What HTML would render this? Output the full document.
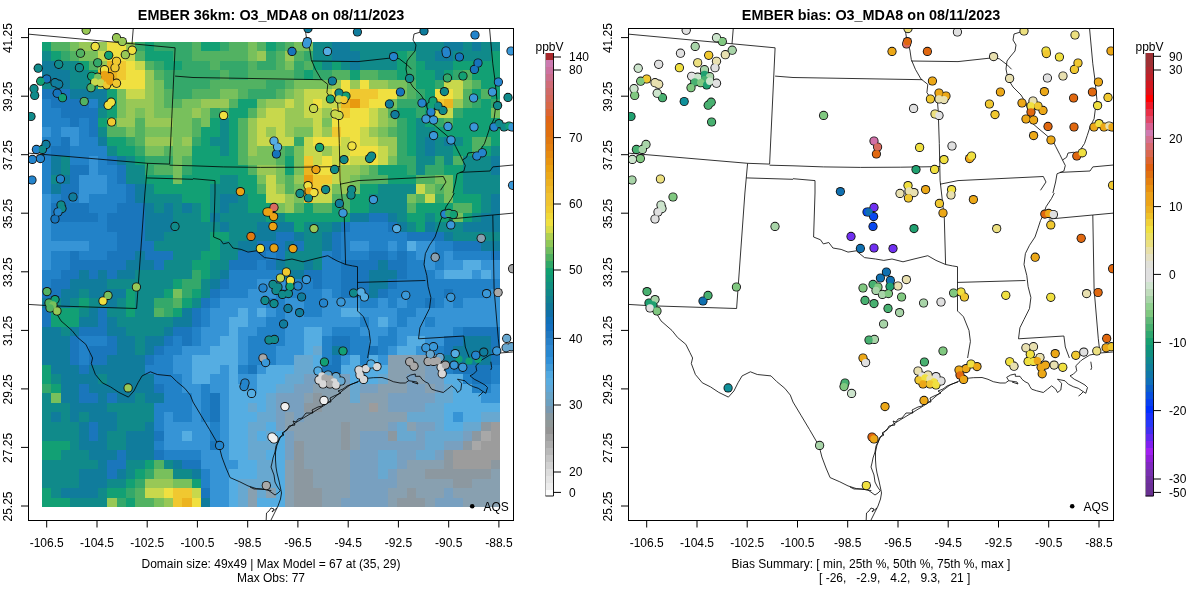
<!DOCTYPE html>
<html><head><meta charset="utf-8"><style>
html,body{margin:0;padding:0;background:#fff;width:1200px;height:600px;overflow:hidden}
svg{display:block;will-change:transform}
.t{font-family:"Liberation Sans",sans-serif;font-size:12px;fill:#000}
.title{font-family:"Liberation Sans",sans-serif;font-size:14.4px;font-weight:bold;fill:#000}
</style></head><body>
<svg width="1200" height="600" viewBox="0 0 1200 600">
<text x="271" y="20" text-anchor="middle" class="title">EMBER 36km: O3_MDA8 on 08/11/2023</text>
<text x="871" y="20" text-anchor="middle" class="title">EMBER bias: O3_MDA8 on 08/11/2023</text>
<g shape-rendering="crispEdges"><rect x="42.00" y="42.00" width="9.75" height="9.89" fill="#12a074"/><rect x="51.35" y="42.00" width="19.09" height="9.89" fill="#52b262"/><rect x="70.04" y="42.00" width="9.75" height="9.89" fill="#78c05c"/><rect x="79.39" y="42.00" width="28.44" height="9.89" fill="#98c856"/><rect x="107.43" y="42.00" width="19.09" height="9.89" fill="#f0e040"/><rect x="126.12" y="42.00" width="9.75" height="9.89" fill="#98c856"/><rect x="135.47" y="42.00" width="9.75" height="9.89" fill="#34a86a"/><rect x="144.82" y="42.00" width="9.75" height="9.89" fill="#12a074"/><rect x="154.16" y="42.00" width="37.79" height="9.89" fill="#34a86a"/><rect x="191.55" y="42.00" width="9.75" height="9.89" fill="#52b262"/><rect x="200.90" y="42.00" width="19.09" height="9.89" fill="#12a074"/><rect x="219.59" y="42.00" width="9.75" height="9.89" fill="#34a86a"/><rect x="228.94" y="42.00" width="19.09" height="9.89" fill="#52b262"/><rect x="247.63" y="42.00" width="9.75" height="9.89" fill="#78c05c"/><rect x="256.98" y="42.00" width="9.75" height="9.89" fill="#52b262"/><rect x="266.33" y="42.00" width="9.75" height="9.89" fill="#12a074"/><rect x="275.67" y="42.00" width="9.75" height="9.89" fill="#34a86a"/><rect x="285.02" y="42.00" width="9.75" height="9.89" fill="#52b262"/><rect x="294.37" y="42.00" width="19.09" height="9.89" fill="#78c05c"/><rect x="313.06" y="42.00" width="19.09" height="9.89" fill="#108a8a"/><rect x="331.76" y="42.00" width="19.09" height="9.89" fill="#107c9c"/><rect x="350.45" y="42.00" width="93.87" height="9.89" fill="#108a8a"/><rect x="443.92" y="42.00" width="19.09" height="9.89" fill="#107c9c"/><rect x="462.61" y="42.00" width="9.75" height="9.89" fill="#108a8a"/><rect x="471.96" y="42.00" width="9.75" height="9.89" fill="#107c9c"/><rect x="481.31" y="42.00" width="19.09" height="9.89" fill="#108a8a"/><rect x="42.00" y="51.49" width="9.75" height="9.89" fill="#108a8a"/><rect x="51.35" y="51.49" width="9.75" height="9.89" fill="#12a074"/><rect x="60.69" y="51.49" width="9.75" height="9.89" fill="#34a86a"/><rect x="70.04" y="51.49" width="9.75" height="9.89" fill="#52b262"/><rect x="79.39" y="51.49" width="19.09" height="9.89" fill="#78c05c"/><rect x="98.08" y="51.49" width="9.75" height="9.89" fill="#c8d84c"/><rect x="107.43" y="51.49" width="19.09" height="9.89" fill="#f0e040"/><rect x="126.12" y="51.49" width="9.75" height="9.89" fill="#c8d84c"/><rect x="135.47" y="51.49" width="9.75" height="9.89" fill="#52b262"/><rect x="144.82" y="51.49" width="28.44" height="9.89" fill="#12a074"/><rect x="172.86" y="51.49" width="19.09" height="9.89" fill="#34a86a"/><rect x="191.55" y="51.49" width="56.48" height="9.89" fill="#52b262"/><rect x="247.63" y="51.49" width="9.75" height="9.89" fill="#78c05c"/><rect x="256.98" y="51.49" width="9.75" height="9.89" fill="#98c856"/><rect x="266.33" y="51.49" width="9.75" height="9.89" fill="#34a86a"/><rect x="275.67" y="51.49" width="9.75" height="9.89" fill="#52b262"/><rect x="285.02" y="51.49" width="9.75" height="9.89" fill="#98c856"/><rect x="294.37" y="51.49" width="9.75" height="9.89" fill="#52b262"/><rect x="303.71" y="51.49" width="9.75" height="9.89" fill="#34a86a"/><rect x="313.06" y="51.49" width="19.09" height="9.89" fill="#108a8a"/><rect x="331.76" y="51.49" width="28.44" height="9.89" fill="#107c9c"/><rect x="359.80" y="51.49" width="37.79" height="9.89" fill="#108a8a"/><rect x="397.18" y="51.49" width="9.75" height="9.89" fill="#12a074"/><rect x="406.53" y="51.49" width="9.75" height="9.89" fill="#34a86a"/><rect x="415.88" y="51.49" width="19.09" height="9.89" fill="#108a8a"/><rect x="434.57" y="51.49" width="19.09" height="9.89" fill="#107c9c"/><rect x="453.27" y="51.49" width="37.79" height="9.89" fill="#108a8a"/><rect x="490.65" y="51.49" width="9.75" height="9.89" fill="#12a074"/><rect x="42.00" y="60.98" width="19.09" height="9.89" fill="#107c9c"/><rect x="60.69" y="60.98" width="19.09" height="9.89" fill="#108a8a"/><rect x="79.39" y="60.98" width="9.75" height="9.89" fill="#12a074"/><rect x="88.73" y="60.98" width="9.75" height="9.89" fill="#52b262"/><rect x="98.08" y="60.98" width="9.75" height="9.89" fill="#98c856"/><rect x="107.43" y="60.98" width="9.75" height="9.89" fill="#ecb420"/><rect x="116.78" y="60.98" width="9.75" height="9.89" fill="#f0c830"/><rect x="126.12" y="60.98" width="9.75" height="9.89" fill="#f0e040"/><rect x="135.47" y="60.98" width="9.75" height="9.89" fill="#c8d84c"/><rect x="144.82" y="60.98" width="9.75" height="9.89" fill="#52b262"/><rect x="154.16" y="60.98" width="9.75" height="9.89" fill="#34a86a"/><rect x="163.51" y="60.98" width="19.09" height="9.89" fill="#12a074"/><rect x="182.20" y="60.98" width="28.44" height="9.89" fill="#34a86a"/><rect x="210.24" y="60.98" width="9.75" height="9.89" fill="#52b262"/><rect x="219.59" y="60.98" width="28.44" height="9.89" fill="#34a86a"/><rect x="247.63" y="60.98" width="9.75" height="9.89" fill="#52b262"/><rect x="256.98" y="60.98" width="19.09" height="9.89" fill="#34a86a"/><rect x="275.67" y="60.98" width="9.75" height="9.89" fill="#52b262"/><rect x="285.02" y="60.98" width="9.75" height="9.89" fill="#78c05c"/><rect x="294.37" y="60.98" width="9.75" height="9.89" fill="#34a86a"/><rect x="303.71" y="60.98" width="9.75" height="9.89" fill="#52b262"/><rect x="313.06" y="60.98" width="9.75" height="9.89" fill="#12a074"/><rect x="322.41" y="60.98" width="9.75" height="9.89" fill="#108a8a"/><rect x="331.76" y="60.98" width="9.75" height="9.89" fill="#12a074"/><rect x="341.10" y="60.98" width="9.75" height="9.89" fill="#108a8a"/><rect x="350.45" y="60.98" width="9.75" height="9.89" fill="#107c9c"/><rect x="359.80" y="60.98" width="37.79" height="9.89" fill="#108a8a"/><rect x="397.18" y="60.98" width="9.75" height="9.89" fill="#12a074"/><rect x="406.53" y="60.98" width="9.75" height="9.89" fill="#34a86a"/><rect x="415.88" y="60.98" width="9.75" height="9.89" fill="#12a074"/><rect x="425.22" y="60.98" width="28.44" height="9.89" fill="#108a8a"/><rect x="453.27" y="60.98" width="47.13" height="9.89" fill="#12a074"/><rect x="42.00" y="70.47" width="28.44" height="9.89" fill="#107c9c"/><rect x="70.04" y="70.47" width="19.09" height="9.89" fill="#108a8a"/><rect x="88.73" y="70.47" width="9.75" height="9.89" fill="#12a074"/><rect x="98.08" y="70.47" width="19.09" height="9.89" fill="#ecb420"/><rect x="116.78" y="70.47" width="9.75" height="9.89" fill="#f0c830"/><rect x="126.12" y="70.47" width="19.09" height="9.89" fill="#f0e040"/><rect x="144.82" y="70.47" width="9.75" height="9.89" fill="#98c856"/><rect x="154.16" y="70.47" width="9.75" height="9.89" fill="#52b262"/><rect x="163.51" y="70.47" width="56.48" height="9.89" fill="#34a86a"/><rect x="219.59" y="70.47" width="9.75" height="9.89" fill="#52b262"/><rect x="228.94" y="70.47" width="19.09" height="9.89" fill="#34a86a"/><rect x="247.63" y="70.47" width="47.13" height="9.89" fill="#52b262"/><rect x="294.37" y="70.47" width="9.75" height="9.89" fill="#34a86a"/><rect x="303.71" y="70.47" width="9.75" height="9.89" fill="#12a074"/><rect x="313.06" y="70.47" width="19.09" height="9.89" fill="#34a86a"/><rect x="331.76" y="70.47" width="19.09" height="9.89" fill="#52b262"/><rect x="350.45" y="70.47" width="9.75" height="9.89" fill="#12a074"/><rect x="359.80" y="70.47" width="19.09" height="9.89" fill="#52b262"/><rect x="378.49" y="70.47" width="19.09" height="9.89" fill="#34a86a"/><rect x="397.18" y="70.47" width="9.75" height="9.89" fill="#12a074"/><rect x="406.53" y="70.47" width="9.75" height="9.89" fill="#34a86a"/><rect x="415.88" y="70.47" width="19.09" height="9.89" fill="#12a074"/><rect x="434.57" y="70.47" width="9.75" height="9.89" fill="#108a8a"/><rect x="443.92" y="70.47" width="9.75" height="9.89" fill="#12a074"/><rect x="453.27" y="70.47" width="9.75" height="9.89" fill="#34a86a"/><rect x="462.61" y="70.47" width="9.75" height="9.89" fill="#52b262"/><rect x="471.96" y="70.47" width="28.44" height="9.89" fill="#12a074"/><rect x="42.00" y="79.96" width="9.75" height="9.89" fill="#108a8a"/><rect x="51.35" y="79.96" width="19.09" height="9.89" fill="#107c9c"/><rect x="70.04" y="79.96" width="19.09" height="9.89" fill="#108a8a"/><rect x="88.73" y="79.96" width="9.75" height="9.89" fill="#12a074"/><rect x="98.08" y="79.96" width="9.75" height="9.89" fill="#c8d84c"/><rect x="107.43" y="79.96" width="37.79" height="9.89" fill="#f0e040"/><rect x="144.82" y="79.96" width="9.75" height="9.89" fill="#98c856"/><rect x="154.16" y="79.96" width="9.75" height="9.89" fill="#78c05c"/><rect x="163.51" y="79.96" width="47.13" height="9.89" fill="#34a86a"/><rect x="210.24" y="79.96" width="56.48" height="9.89" fill="#52b262"/><rect x="266.33" y="79.96" width="19.09" height="9.89" fill="#34a86a"/><rect x="285.02" y="79.96" width="9.75" height="9.89" fill="#52b262"/><rect x="294.37" y="79.96" width="37.79" height="9.89" fill="#78c05c"/><rect x="331.76" y="79.96" width="9.75" height="9.89" fill="#98c856"/><rect x="341.10" y="79.96" width="9.75" height="9.89" fill="#f0e040"/><rect x="350.45" y="79.96" width="9.75" height="9.89" fill="#98c856"/><rect x="359.80" y="79.96" width="9.75" height="9.89" fill="#f0e040"/><rect x="369.14" y="79.96" width="19.09" height="9.89" fill="#98c856"/><rect x="387.84" y="79.96" width="19.09" height="9.89" fill="#78c05c"/><rect x="406.53" y="79.96" width="9.75" height="9.89" fill="#52b262"/><rect x="415.88" y="79.96" width="19.09" height="9.89" fill="#12a074"/><rect x="434.57" y="79.96" width="9.75" height="9.89" fill="#34a86a"/><rect x="443.92" y="79.96" width="19.09" height="9.89" fill="#c8d84c"/><rect x="462.61" y="79.96" width="9.75" height="9.89" fill="#78c05c"/><rect x="471.96" y="79.96" width="9.75" height="9.89" fill="#52b262"/><rect x="481.31" y="79.96" width="19.09" height="9.89" fill="#12a074"/><rect x="42.00" y="89.45" width="28.44" height="9.89" fill="#1a76bc"/><rect x="70.04" y="89.45" width="37.79" height="9.89" fill="#107c9c"/><rect x="107.43" y="89.45" width="9.75" height="9.89" fill="#12a074"/><rect x="116.78" y="89.45" width="9.75" height="9.89" fill="#78c05c"/><rect x="126.12" y="89.45" width="19.09" height="9.89" fill="#c8d84c"/><rect x="144.82" y="89.45" width="9.75" height="9.89" fill="#98c856"/><rect x="154.16" y="89.45" width="9.75" height="9.89" fill="#78c05c"/><rect x="163.51" y="89.45" width="9.75" height="9.89" fill="#52b262"/><rect x="172.86" y="89.45" width="19.09" height="9.89" fill="#34a86a"/><rect x="191.55" y="89.45" width="28.44" height="9.89" fill="#52b262"/><rect x="219.59" y="89.45" width="19.09" height="9.89" fill="#78c05c"/><rect x="238.29" y="89.45" width="9.75" height="9.89" fill="#52b262"/><rect x="247.63" y="89.45" width="28.44" height="9.89" fill="#34a86a"/><rect x="275.67" y="89.45" width="9.75" height="9.89" fill="#52b262"/><rect x="285.02" y="89.45" width="9.75" height="9.89" fill="#78c05c"/><rect x="294.37" y="89.45" width="9.75" height="9.89" fill="#98c856"/><rect x="303.71" y="89.45" width="28.44" height="9.89" fill="#c8d84c"/><rect x="331.76" y="89.45" width="19.09" height="9.89" fill="#f0e040"/><rect x="350.45" y="89.45" width="28.44" height="9.89" fill="#f0c830"/><rect x="378.49" y="89.45" width="19.09" height="9.89" fill="#f0e040"/><rect x="397.18" y="89.45" width="9.75" height="9.89" fill="#78c05c"/><rect x="406.53" y="89.45" width="9.75" height="9.89" fill="#52b262"/><rect x="415.88" y="89.45" width="9.75" height="9.89" fill="#34a86a"/><rect x="425.22" y="89.45" width="9.75" height="9.89" fill="#12a074"/><rect x="434.57" y="89.45" width="19.09" height="9.89" fill="#f0e040"/><rect x="453.27" y="89.45" width="9.75" height="9.89" fill="#c8d84c"/><rect x="462.61" y="89.45" width="9.75" height="9.89" fill="#52b262"/><rect x="471.96" y="89.45" width="9.75" height="9.89" fill="#12a074"/><rect x="481.31" y="89.45" width="9.75" height="9.89" fill="#52b262"/><rect x="490.65" y="89.45" width="9.75" height="9.89" fill="#12a074"/><rect x="42.00" y="98.94" width="9.75" height="9.89" fill="#2282c8"/><rect x="51.35" y="98.94" width="37.79" height="9.89" fill="#1a76bc"/><rect x="88.73" y="98.94" width="9.75" height="9.89" fill="#2282c8"/><rect x="98.08" y="98.94" width="9.75" height="9.89" fill="#107c9c"/><rect x="107.43" y="98.94" width="9.75" height="9.89" fill="#12a074"/><rect x="116.78" y="98.94" width="9.75" height="9.89" fill="#78c05c"/><rect x="126.12" y="98.94" width="28.44" height="9.89" fill="#98c856"/><rect x="154.16" y="98.94" width="9.75" height="9.89" fill="#78c05c"/><rect x="163.51" y="98.94" width="19.09" height="9.89" fill="#52b262"/><rect x="182.20" y="98.94" width="19.09" height="9.89" fill="#78c05c"/><rect x="200.90" y="98.94" width="28.44" height="9.89" fill="#98c856"/><rect x="228.94" y="98.94" width="9.75" height="9.89" fill="#52b262"/><rect x="238.29" y="98.94" width="19.09" height="9.89" fill="#12a074"/><rect x="256.98" y="98.94" width="9.75" height="9.89" fill="#78c05c"/><rect x="266.33" y="98.94" width="19.09" height="9.89" fill="#98c856"/><rect x="285.02" y="98.94" width="9.75" height="9.89" fill="#c8d84c"/><rect x="294.37" y="98.94" width="9.75" height="9.89" fill="#98c856"/><rect x="303.71" y="98.94" width="9.75" height="9.89" fill="#c8d84c"/><rect x="313.06" y="98.94" width="9.75" height="9.89" fill="#f0e040"/><rect x="322.41" y="98.94" width="19.09" height="9.89" fill="#c8d84c"/><rect x="341.10" y="98.94" width="9.75" height="9.89" fill="#ecb420"/><rect x="350.45" y="98.94" width="9.75" height="9.89" fill="#e89a10"/><rect x="359.80" y="98.94" width="9.75" height="9.89" fill="#f0c830"/><rect x="369.14" y="98.94" width="19.09" height="9.89" fill="#f0e040"/><rect x="387.84" y="98.94" width="9.75" height="9.89" fill="#78c05c"/><rect x="397.18" y="98.94" width="28.44" height="9.89" fill="#34a86a"/><rect x="425.22" y="98.94" width="9.75" height="9.89" fill="#12a074"/><rect x="434.57" y="98.94" width="9.75" height="9.89" fill="#f0c830"/><rect x="443.92" y="98.94" width="9.75" height="9.89" fill="#ecb420"/><rect x="453.27" y="98.94" width="9.75" height="9.89" fill="#98c856"/><rect x="462.61" y="98.94" width="9.75" height="9.89" fill="#52b262"/><rect x="471.96" y="98.94" width="9.75" height="9.89" fill="#34a86a"/><rect x="481.31" y="98.94" width="9.75" height="9.89" fill="#12a074"/><rect x="490.65" y="98.94" width="9.75" height="9.89" fill="#34a86a"/><rect x="42.00" y="108.43" width="19.09" height="9.89" fill="#2282c8"/><rect x="60.69" y="108.43" width="37.79" height="9.89" fill="#1a76bc"/><rect x="98.08" y="108.43" width="9.75" height="9.89" fill="#108a8a"/><rect x="107.43" y="108.43" width="9.75" height="9.89" fill="#12a074"/><rect x="116.78" y="108.43" width="9.75" height="9.89" fill="#78c05c"/><rect x="126.12" y="108.43" width="9.75" height="9.89" fill="#98c856"/><rect x="135.47" y="108.43" width="9.75" height="9.89" fill="#78c05c"/><rect x="144.82" y="108.43" width="9.75" height="9.89" fill="#98c856"/><rect x="154.16" y="108.43" width="37.79" height="9.89" fill="#78c05c"/><rect x="191.55" y="108.43" width="9.75" height="9.89" fill="#98c856"/><rect x="200.90" y="108.43" width="9.75" height="9.89" fill="#78c05c"/><rect x="210.24" y="108.43" width="9.75" height="9.89" fill="#34a86a"/><rect x="219.59" y="108.43" width="9.75" height="9.89" fill="#52b262"/><rect x="228.94" y="108.43" width="19.09" height="9.89" fill="#12a074"/><rect x="247.63" y="108.43" width="9.75" height="9.89" fill="#52b262"/><rect x="256.98" y="108.43" width="9.75" height="9.89" fill="#98c856"/><rect x="266.33" y="108.43" width="19.09" height="9.89" fill="#c8d84c"/><rect x="285.02" y="108.43" width="19.09" height="9.89" fill="#98c856"/><rect x="303.71" y="108.43" width="19.09" height="9.89" fill="#c8d84c"/><rect x="322.41" y="108.43" width="9.75" height="9.89" fill="#98c856"/><rect x="331.76" y="108.43" width="9.75" height="9.89" fill="#f0e040"/><rect x="341.10" y="108.43" width="9.75" height="9.89" fill="#f0c830"/><rect x="350.45" y="108.43" width="19.09" height="9.89" fill="#f0e040"/><rect x="369.14" y="108.43" width="9.75" height="9.89" fill="#c8d84c"/><rect x="378.49" y="108.43" width="9.75" height="9.89" fill="#98c856"/><rect x="387.84" y="108.43" width="9.75" height="9.89" fill="#52b262"/><rect x="397.18" y="108.43" width="19.09" height="9.89" fill="#12a074"/><rect x="415.88" y="108.43" width="9.75" height="9.89" fill="#34a86a"/><rect x="425.22" y="108.43" width="9.75" height="9.89" fill="#12a074"/><rect x="434.57" y="108.43" width="19.09" height="9.89" fill="#c8d84c"/><rect x="453.27" y="108.43" width="9.75" height="9.89" fill="#34a86a"/><rect x="462.61" y="108.43" width="28.44" height="9.89" fill="#12a074"/><rect x="490.65" y="108.43" width="9.75" height="9.89" fill="#78c05c"/><rect x="42.00" y="117.92" width="28.44" height="9.89" fill="#2282c8"/><rect x="70.04" y="117.92" width="9.75" height="9.89" fill="#1a76bc"/><rect x="79.39" y="117.92" width="9.75" height="9.89" fill="#2282c8"/><rect x="88.73" y="117.92" width="9.75" height="9.89" fill="#1a76bc"/><rect x="98.08" y="117.92" width="9.75" height="9.89" fill="#12a074"/><rect x="107.43" y="117.92" width="9.75" height="9.89" fill="#52b262"/><rect x="116.78" y="117.92" width="19.09" height="9.89" fill="#98c856"/><rect x="135.47" y="117.92" width="9.75" height="9.89" fill="#52b262"/><rect x="144.82" y="117.92" width="28.44" height="9.89" fill="#98c856"/><rect x="172.86" y="117.92" width="19.09" height="9.89" fill="#78c05c"/><rect x="191.55" y="117.92" width="9.75" height="9.89" fill="#52b262"/><rect x="200.90" y="117.92" width="9.75" height="9.89" fill="#78c05c"/><rect x="210.24" y="117.92" width="9.75" height="9.89" fill="#12a074"/><rect x="219.59" y="117.92" width="9.75" height="9.89" fill="#108a8a"/><rect x="228.94" y="117.92" width="9.75" height="9.89" fill="#12a074"/><rect x="238.29" y="117.92" width="9.75" height="9.89" fill="#52b262"/><rect x="247.63" y="117.92" width="9.75" height="9.89" fill="#98c856"/><rect x="256.98" y="117.92" width="28.44" height="9.89" fill="#c8d84c"/><rect x="285.02" y="117.92" width="28.44" height="9.89" fill="#98c856"/><rect x="313.06" y="117.92" width="9.75" height="9.89" fill="#c8d84c"/><rect x="322.41" y="117.92" width="9.75" height="9.89" fill="#78c05c"/><rect x="331.76" y="117.92" width="37.79" height="9.89" fill="#f0e040"/><rect x="369.14" y="117.92" width="9.75" height="9.89" fill="#c8d84c"/><rect x="378.49" y="117.92" width="9.75" height="9.89" fill="#98c856"/><rect x="387.84" y="117.92" width="9.75" height="9.89" fill="#78c05c"/><rect x="397.18" y="117.92" width="9.75" height="9.89" fill="#34a86a"/><rect x="406.53" y="117.92" width="9.75" height="9.89" fill="#12a074"/><rect x="415.88" y="117.92" width="9.75" height="9.89" fill="#108a8a"/><rect x="425.22" y="117.92" width="9.75" height="9.89" fill="#12a074"/><rect x="434.57" y="117.92" width="9.75" height="9.89" fill="#34a86a"/><rect x="443.92" y="117.92" width="9.75" height="9.89" fill="#52b262"/><rect x="453.27" y="117.92" width="47.13" height="9.89" fill="#12a074"/><rect x="42.00" y="127.41" width="9.75" height="9.89" fill="#3694d6"/><rect x="51.35" y="127.41" width="9.75" height="9.89" fill="#2282c8"/><rect x="60.69" y="127.41" width="19.09" height="9.89" fill="#3694d6"/><rect x="79.39" y="127.41" width="9.75" height="9.89" fill="#2282c8"/><rect x="88.73" y="127.41" width="9.75" height="9.89" fill="#1a76bc"/><rect x="98.08" y="127.41" width="9.75" height="9.89" fill="#108a8a"/><rect x="107.43" y="127.41" width="19.09" height="9.89" fill="#52b262"/><rect x="126.12" y="127.41" width="9.75" height="9.89" fill="#78c05c"/><rect x="135.47" y="127.41" width="9.75" height="9.89" fill="#52b262"/><rect x="144.82" y="127.41" width="47.13" height="9.89" fill="#78c05c"/><rect x="191.55" y="127.41" width="9.75" height="9.89" fill="#52b262"/><rect x="200.90" y="127.41" width="19.09" height="9.89" fill="#12a074"/><rect x="219.59" y="127.41" width="9.75" height="9.89" fill="#108a8a"/><rect x="228.94" y="127.41" width="9.75" height="9.89" fill="#12a074"/><rect x="238.29" y="127.41" width="9.75" height="9.89" fill="#52b262"/><rect x="247.63" y="127.41" width="9.75" height="9.89" fill="#98c856"/><rect x="256.98" y="127.41" width="9.75" height="9.89" fill="#c8d84c"/><rect x="266.33" y="127.41" width="9.75" height="9.89" fill="#98c856"/><rect x="275.67" y="127.41" width="9.75" height="9.89" fill="#c8d84c"/><rect x="285.02" y="127.41" width="9.75" height="9.89" fill="#98c856"/><rect x="294.37" y="127.41" width="19.09" height="9.89" fill="#78c05c"/><rect x="313.06" y="127.41" width="9.75" height="9.89" fill="#c8d84c"/><rect x="322.41" y="127.41" width="9.75" height="9.89" fill="#98c856"/><rect x="331.76" y="127.41" width="9.75" height="9.89" fill="#f0c830"/><rect x="341.10" y="127.41" width="19.09" height="9.89" fill="#f0e040"/><rect x="359.80" y="127.41" width="9.75" height="9.89" fill="#c8d84c"/><rect x="369.14" y="127.41" width="9.75" height="9.89" fill="#98c856"/><rect x="378.49" y="127.41" width="9.75" height="9.89" fill="#78c05c"/><rect x="387.84" y="127.41" width="9.75" height="9.89" fill="#52b262"/><rect x="397.18" y="127.41" width="9.75" height="9.89" fill="#34a86a"/><rect x="406.53" y="127.41" width="9.75" height="9.89" fill="#12a074"/><rect x="415.88" y="127.41" width="19.09" height="9.89" fill="#108a8a"/><rect x="434.57" y="127.41" width="65.83" height="9.89" fill="#12a074"/><rect x="42.00" y="136.90" width="19.09" height="9.89" fill="#2282c8"/><rect x="60.69" y="136.90" width="9.75" height="9.89" fill="#1a76bc"/><rect x="70.04" y="136.90" width="9.75" height="9.89" fill="#3694d6"/><rect x="79.39" y="136.90" width="19.09" height="9.89" fill="#2282c8"/><rect x="98.08" y="136.90" width="9.75" height="9.89" fill="#107c9c"/><rect x="107.43" y="136.90" width="19.09" height="9.89" fill="#12a074"/><rect x="126.12" y="136.90" width="9.75" height="9.89" fill="#34a86a"/><rect x="135.47" y="136.90" width="9.75" height="9.89" fill="#52b262"/><rect x="144.82" y="136.90" width="28.44" height="9.89" fill="#98c856"/><rect x="172.86" y="136.90" width="9.75" height="9.89" fill="#78c05c"/><rect x="182.20" y="136.90" width="9.75" height="9.89" fill="#98c856"/><rect x="191.55" y="136.90" width="9.75" height="9.89" fill="#34a86a"/><rect x="200.90" y="136.90" width="9.75" height="9.89" fill="#12a074"/><rect x="210.24" y="136.90" width="19.09" height="9.89" fill="#108a8a"/><rect x="228.94" y="136.90" width="9.75" height="9.89" fill="#12a074"/><rect x="238.29" y="136.90" width="9.75" height="9.89" fill="#52b262"/><rect x="247.63" y="136.90" width="9.75" height="9.89" fill="#98c856"/><rect x="256.98" y="136.90" width="37.79" height="9.89" fill="#c8d84c"/><rect x="294.37" y="136.90" width="9.75" height="9.89" fill="#34a86a"/><rect x="303.71" y="136.90" width="9.75" height="9.89" fill="#c8d84c"/><rect x="313.06" y="136.90" width="28.44" height="9.89" fill="#f0e040"/><rect x="341.10" y="136.90" width="9.75" height="9.89" fill="#c8d84c"/><rect x="350.45" y="136.90" width="9.75" height="9.89" fill="#f0e040"/><rect x="359.80" y="136.90" width="19.09" height="9.89" fill="#c8d84c"/><rect x="378.49" y="136.90" width="19.09" height="9.89" fill="#98c856"/><rect x="397.18" y="136.90" width="9.75" height="9.89" fill="#34a86a"/><rect x="406.53" y="136.90" width="9.75" height="9.89" fill="#12a074"/><rect x="415.88" y="136.90" width="9.75" height="9.89" fill="#108a8a"/><rect x="425.22" y="136.90" width="9.75" height="9.89" fill="#107c9c"/><rect x="434.57" y="136.90" width="9.75" height="9.89" fill="#108a8a"/><rect x="443.92" y="136.90" width="9.75" height="9.89" fill="#107c9c"/><rect x="453.27" y="136.90" width="9.75" height="9.89" fill="#108a8a"/><rect x="462.61" y="136.90" width="9.75" height="9.89" fill="#12a074"/><rect x="471.96" y="136.90" width="19.09" height="9.89" fill="#52b262"/><rect x="490.65" y="136.90" width="9.75" height="9.89" fill="#12a074"/><rect x="42.00" y="146.39" width="9.75" height="9.89" fill="#2282c8"/><rect x="51.35" y="146.39" width="19.09" height="9.89" fill="#1a76bc"/><rect x="70.04" y="146.39" width="37.79" height="9.89" fill="#2282c8"/><rect x="107.43" y="146.39" width="9.75" height="9.89" fill="#108a8a"/><rect x="116.78" y="146.39" width="19.09" height="9.89" fill="#12a074"/><rect x="135.47" y="146.39" width="9.75" height="9.89" fill="#34a86a"/><rect x="144.82" y="146.39" width="19.09" height="9.89" fill="#78c05c"/><rect x="163.51" y="146.39" width="9.75" height="9.89" fill="#52b262"/><rect x="172.86" y="146.39" width="19.09" height="9.89" fill="#78c05c"/><rect x="191.55" y="146.39" width="28.44" height="9.89" fill="#12a074"/><rect x="219.59" y="146.39" width="9.75" height="9.89" fill="#108a8a"/><rect x="228.94" y="146.39" width="9.75" height="9.89" fill="#12a074"/><rect x="238.29" y="146.39" width="9.75" height="9.89" fill="#52b262"/><rect x="247.63" y="146.39" width="9.75" height="9.89" fill="#98c856"/><rect x="256.98" y="146.39" width="19.09" height="9.89" fill="#78c05c"/><rect x="275.67" y="146.39" width="9.75" height="9.89" fill="#52b262"/><rect x="285.02" y="146.39" width="9.75" height="9.89" fill="#34a86a"/><rect x="294.37" y="146.39" width="9.75" height="9.89" fill="#78c05c"/><rect x="303.71" y="146.39" width="19.09" height="9.89" fill="#c8d84c"/><rect x="322.41" y="146.39" width="9.75" height="9.89" fill="#98c856"/><rect x="331.76" y="146.39" width="19.09" height="9.89" fill="#c8d84c"/><rect x="350.45" y="146.39" width="28.44" height="9.89" fill="#f0e040"/><rect x="378.49" y="146.39" width="9.75" height="9.89" fill="#c8d84c"/><rect x="387.84" y="146.39" width="9.75" height="9.89" fill="#98c856"/><rect x="397.18" y="146.39" width="9.75" height="9.89" fill="#34a86a"/><rect x="406.53" y="146.39" width="9.75" height="9.89" fill="#12a074"/><rect x="415.88" y="146.39" width="9.75" height="9.89" fill="#108a8a"/><rect x="425.22" y="146.39" width="9.75" height="9.89" fill="#107c9c"/><rect x="434.57" y="146.39" width="19.09" height="9.89" fill="#108a8a"/><rect x="453.27" y="146.39" width="19.09" height="9.89" fill="#12a074"/><rect x="471.96" y="146.39" width="9.75" height="9.89" fill="#52b262"/><rect x="481.31" y="146.39" width="9.75" height="9.89" fill="#12a074"/><rect x="490.65" y="146.39" width="9.75" height="9.89" fill="#108a8a"/><rect x="42.00" y="155.88" width="9.75" height="9.89" fill="#2282c8"/><rect x="51.35" y="155.88" width="9.75" height="9.89" fill="#107c9c"/><rect x="60.69" y="155.88" width="9.75" height="9.89" fill="#108a8a"/><rect x="70.04" y="155.88" width="19.09" height="9.89" fill="#2282c8"/><rect x="88.73" y="155.88" width="9.75" height="9.89" fill="#3694d6"/><rect x="98.08" y="155.88" width="9.75" height="9.89" fill="#2282c8"/><rect x="107.43" y="155.88" width="9.75" height="9.89" fill="#1a76bc"/><rect x="116.78" y="155.88" width="9.75" height="9.89" fill="#107c9c"/><rect x="126.12" y="155.88" width="9.75" height="9.89" fill="#108a8a"/><rect x="135.47" y="155.88" width="9.75" height="9.89" fill="#12a074"/><rect x="144.82" y="155.88" width="28.44" height="9.89" fill="#34a86a"/><rect x="172.86" y="155.88" width="9.75" height="9.89" fill="#78c05c"/><rect x="182.20" y="155.88" width="9.75" height="9.89" fill="#52b262"/><rect x="191.55" y="155.88" width="47.13" height="9.89" fill="#12a074"/><rect x="238.29" y="155.88" width="9.75" height="9.89" fill="#52b262"/><rect x="247.63" y="155.88" width="28.44" height="9.89" fill="#78c05c"/><rect x="275.67" y="155.88" width="9.75" height="9.89" fill="#52b262"/><rect x="285.02" y="155.88" width="9.75" height="9.89" fill="#12a074"/><rect x="294.37" y="155.88" width="9.75" height="9.89" fill="#78c05c"/><rect x="303.71" y="155.88" width="9.75" height="9.89" fill="#f0c830"/><rect x="313.06" y="155.88" width="9.75" height="9.89" fill="#c8d84c"/><rect x="322.41" y="155.88" width="9.75" height="9.89" fill="#f0e040"/><rect x="331.76" y="155.88" width="9.75" height="9.89" fill="#c8d84c"/><rect x="341.10" y="155.88" width="9.75" height="9.89" fill="#f0e040"/><rect x="350.45" y="155.88" width="19.09" height="9.89" fill="#c8d84c"/><rect x="369.14" y="155.88" width="9.75" height="9.89" fill="#f0e040"/><rect x="378.49" y="155.88" width="9.75" height="9.89" fill="#c8d84c"/><rect x="387.84" y="155.88" width="9.75" height="9.89" fill="#78c05c"/><rect x="397.18" y="155.88" width="19.09" height="9.89" fill="#34a86a"/><rect x="415.88" y="155.88" width="19.09" height="9.89" fill="#108a8a"/><rect x="434.57" y="155.88" width="9.75" height="9.89" fill="#34a86a"/><rect x="443.92" y="155.88" width="9.75" height="9.89" fill="#108a8a"/><rect x="453.27" y="155.88" width="9.75" height="9.89" fill="#52b262"/><rect x="462.61" y="155.88" width="28.44" height="9.89" fill="#108a8a"/><rect x="490.65" y="155.88" width="9.75" height="9.89" fill="#107c9c"/><rect x="42.00" y="165.37" width="9.75" height="9.89" fill="#2282c8"/><rect x="51.35" y="165.37" width="9.75" height="9.89" fill="#107c9c"/><rect x="60.69" y="165.37" width="9.75" height="9.89" fill="#108a8a"/><rect x="70.04" y="165.37" width="19.09" height="9.89" fill="#1a76bc"/><rect x="88.73" y="165.37" width="9.75" height="9.89" fill="#3694d6"/><rect x="98.08" y="165.37" width="19.09" height="9.89" fill="#2282c8"/><rect x="116.78" y="165.37" width="9.75" height="9.89" fill="#1a76bc"/><rect x="126.12" y="165.37" width="19.09" height="9.89" fill="#108a8a"/><rect x="144.82" y="165.37" width="9.75" height="9.89" fill="#34a86a"/><rect x="154.16" y="165.37" width="19.09" height="9.89" fill="#52b262"/><rect x="172.86" y="165.37" width="9.75" height="9.89" fill="#78c05c"/><rect x="182.20" y="165.37" width="9.75" height="9.89" fill="#34a86a"/><rect x="191.55" y="165.37" width="56.48" height="9.89" fill="#12a074"/><rect x="247.63" y="165.37" width="9.75" height="9.89" fill="#52b262"/><rect x="256.98" y="165.37" width="19.09" height="9.89" fill="#98c856"/><rect x="275.67" y="165.37" width="9.75" height="9.89" fill="#78c05c"/><rect x="285.02" y="165.37" width="9.75" height="9.89" fill="#12a074"/><rect x="294.37" y="165.37" width="9.75" height="9.89" fill="#78c05c"/><rect x="303.71" y="165.37" width="9.75" height="9.89" fill="#ecb420"/><rect x="313.06" y="165.37" width="19.09" height="9.89" fill="#f0e040"/><rect x="331.76" y="165.37" width="9.75" height="9.89" fill="#c8d84c"/><rect x="341.10" y="165.37" width="19.09" height="9.89" fill="#98c856"/><rect x="359.80" y="165.37" width="9.75" height="9.89" fill="#78c05c"/><rect x="369.14" y="165.37" width="9.75" height="9.89" fill="#52b262"/><rect x="378.49" y="165.37" width="28.44" height="9.89" fill="#12a074"/><rect x="406.53" y="165.37" width="9.75" height="9.89" fill="#34a86a"/><rect x="415.88" y="165.37" width="9.75" height="9.89" fill="#108a8a"/><rect x="425.22" y="165.37" width="19.09" height="9.89" fill="#34a86a"/><rect x="443.92" y="165.37" width="19.09" height="9.89" fill="#12a074"/><rect x="462.61" y="165.37" width="28.44" height="9.89" fill="#108a8a"/><rect x="490.65" y="165.37" width="9.75" height="9.89" fill="#107c9c"/><rect x="42.00" y="174.86" width="9.75" height="9.89" fill="#2282c8"/><rect x="51.35" y="174.86" width="9.75" height="9.89" fill="#108a8a"/><rect x="60.69" y="174.86" width="9.75" height="9.89" fill="#107c9c"/><rect x="70.04" y="174.86" width="9.75" height="9.89" fill="#1a76bc"/><rect x="79.39" y="174.86" width="28.44" height="9.89" fill="#3694d6"/><rect x="107.43" y="174.86" width="9.75" height="9.89" fill="#2282c8"/><rect x="116.78" y="174.86" width="9.75" height="9.89" fill="#1a76bc"/><rect x="126.12" y="174.86" width="19.09" height="9.89" fill="#108a8a"/><rect x="144.82" y="174.86" width="28.44" height="9.89" fill="#12a074"/><rect x="172.86" y="174.86" width="9.75" height="9.89" fill="#78c05c"/><rect x="182.20" y="174.86" width="37.79" height="9.89" fill="#12a074"/><rect x="219.59" y="174.86" width="19.09" height="9.89" fill="#108a8a"/><rect x="238.29" y="174.86" width="19.09" height="9.89" fill="#12a074"/><rect x="256.98" y="174.86" width="9.75" height="9.89" fill="#78c05c"/><rect x="266.33" y="174.86" width="9.75" height="9.89" fill="#c8d84c"/><rect x="275.67" y="174.86" width="9.75" height="9.89" fill="#78c05c"/><rect x="285.02" y="174.86" width="9.75" height="9.89" fill="#52b262"/><rect x="294.37" y="174.86" width="9.75" height="9.89" fill="#98c856"/><rect x="303.71" y="174.86" width="9.75" height="9.89" fill="#e89a10"/><rect x="313.06" y="174.86" width="19.09" height="9.89" fill="#f0c830"/><rect x="331.76" y="174.86" width="9.75" height="9.89" fill="#c8d84c"/><rect x="341.10" y="174.86" width="9.75" height="9.89" fill="#98c856"/><rect x="350.45" y="174.86" width="9.75" height="9.89" fill="#78c05c"/><rect x="359.80" y="174.86" width="28.44" height="9.89" fill="#52b262"/><rect x="387.84" y="174.86" width="28.44" height="9.89" fill="#12a074"/><rect x="415.88" y="174.86" width="19.09" height="9.89" fill="#52b262"/><rect x="434.57" y="174.86" width="19.09" height="9.89" fill="#78c05c"/><rect x="453.27" y="174.86" width="9.75" height="9.89" fill="#12a074"/><rect x="462.61" y="174.86" width="37.79" height="9.89" fill="#108a8a"/><rect x="42.00" y="184.35" width="9.75" height="9.89" fill="#2282c8"/><rect x="51.35" y="184.35" width="9.75" height="9.89" fill="#107c9c"/><rect x="60.69" y="184.35" width="19.09" height="9.89" fill="#1a76bc"/><rect x="79.39" y="184.35" width="28.44" height="9.89" fill="#3694d6"/><rect x="107.43" y="184.35" width="19.09" height="9.89" fill="#2282c8"/><rect x="126.12" y="184.35" width="9.75" height="9.89" fill="#1a76bc"/><rect x="135.47" y="184.35" width="9.75" height="9.89" fill="#107c9c"/><rect x="144.82" y="184.35" width="9.75" height="9.89" fill="#108a8a"/><rect x="154.16" y="184.35" width="56.48" height="9.89" fill="#12a074"/><rect x="210.24" y="184.35" width="28.44" height="9.89" fill="#108a8a"/><rect x="238.29" y="184.35" width="19.09" height="9.89" fill="#12a074"/><rect x="256.98" y="184.35" width="9.75" height="9.89" fill="#52b262"/><rect x="266.33" y="184.35" width="9.75" height="9.89" fill="#c8d84c"/><rect x="275.67" y="184.35" width="9.75" height="9.89" fill="#98c856"/><rect x="285.02" y="184.35" width="9.75" height="9.89" fill="#52b262"/><rect x="294.37" y="184.35" width="9.75" height="9.89" fill="#78c05c"/><rect x="303.71" y="184.35" width="9.75" height="9.89" fill="#ecb420"/><rect x="313.06" y="184.35" width="9.75" height="9.89" fill="#f0c830"/><rect x="322.41" y="184.35" width="9.75" height="9.89" fill="#c8d84c"/><rect x="331.76" y="184.35" width="9.75" height="9.89" fill="#78c05c"/><rect x="341.10" y="184.35" width="9.75" height="9.89" fill="#98c856"/><rect x="350.45" y="184.35" width="9.75" height="9.89" fill="#78c05c"/><rect x="359.80" y="184.35" width="19.09" height="9.89" fill="#12a074"/><rect x="378.49" y="184.35" width="37.79" height="9.89" fill="#108a8a"/><rect x="415.88" y="184.35" width="9.75" height="9.89" fill="#c8d84c"/><rect x="425.22" y="184.35" width="9.75" height="9.89" fill="#78c05c"/><rect x="434.57" y="184.35" width="9.75" height="9.89" fill="#52b262"/><rect x="443.92" y="184.35" width="9.75" height="9.89" fill="#78c05c"/><rect x="453.27" y="184.35" width="9.75" height="9.89" fill="#12a074"/><rect x="462.61" y="184.35" width="37.79" height="9.89" fill="#108a8a"/><rect x="42.00" y="193.84" width="9.75" height="9.89" fill="#3694d6"/><rect x="51.35" y="193.84" width="9.75" height="9.89" fill="#2282c8"/><rect x="60.69" y="193.84" width="9.75" height="9.89" fill="#1a76bc"/><rect x="70.04" y="193.84" width="9.75" height="9.89" fill="#2282c8"/><rect x="79.39" y="193.84" width="9.75" height="9.89" fill="#3694d6"/><rect x="88.73" y="193.84" width="37.79" height="9.89" fill="#2282c8"/><rect x="126.12" y="193.84" width="9.75" height="9.89" fill="#1a76bc"/><rect x="135.47" y="193.84" width="9.75" height="9.89" fill="#107c9c"/><rect x="144.82" y="193.84" width="37.79" height="9.89" fill="#108a8a"/><rect x="182.20" y="193.84" width="28.44" height="9.89" fill="#12a074"/><rect x="210.24" y="193.84" width="9.75" height="9.89" fill="#108a8a"/><rect x="219.59" y="193.84" width="19.09" height="9.89" fill="#107c9c"/><rect x="238.29" y="193.84" width="9.75" height="9.89" fill="#108a8a"/><rect x="247.63" y="193.84" width="19.09" height="9.89" fill="#12a074"/><rect x="266.33" y="193.84" width="19.09" height="9.89" fill="#c8d84c"/><rect x="285.02" y="193.84" width="9.75" height="9.89" fill="#98c856"/><rect x="294.37" y="193.84" width="9.75" height="9.89" fill="#78c05c"/><rect x="303.71" y="193.84" width="9.75" height="9.89" fill="#f0c830"/><rect x="313.06" y="193.84" width="19.09" height="9.89" fill="#c8d84c"/><rect x="331.76" y="193.84" width="19.09" height="9.89" fill="#52b262"/><rect x="350.45" y="193.84" width="19.09" height="9.89" fill="#12a074"/><rect x="369.14" y="193.84" width="37.79" height="9.89" fill="#108a8a"/><rect x="406.53" y="193.84" width="9.75" height="9.89" fill="#78c05c"/><rect x="415.88" y="193.84" width="9.75" height="9.89" fill="#52b262"/><rect x="425.22" y="193.84" width="9.75" height="9.89" fill="#c8d84c"/><rect x="434.57" y="193.84" width="9.75" height="9.89" fill="#34a86a"/><rect x="443.92" y="193.84" width="9.75" height="9.89" fill="#78c05c"/><rect x="453.27" y="193.84" width="28.44" height="9.89" fill="#12a074"/><rect x="481.31" y="193.84" width="9.75" height="9.89" fill="#108a8a"/><rect x="490.65" y="193.84" width="9.75" height="9.89" fill="#107c9c"/><rect x="42.00" y="203.33" width="9.75" height="9.89" fill="#3694d6"/><rect x="51.35" y="203.33" width="37.79" height="9.89" fill="#1a76bc"/><rect x="88.73" y="203.33" width="28.44" height="9.89" fill="#2282c8"/><rect x="116.78" y="203.33" width="28.44" height="9.89" fill="#1a76bc"/><rect x="144.82" y="203.33" width="9.75" height="9.89" fill="#107c9c"/><rect x="154.16" y="203.33" width="9.75" height="9.89" fill="#108a8a"/><rect x="163.51" y="203.33" width="9.75" height="9.89" fill="#107c9c"/><rect x="172.86" y="203.33" width="9.75" height="9.89" fill="#108a8a"/><rect x="182.20" y="203.33" width="9.75" height="9.89" fill="#107c9c"/><rect x="191.55" y="203.33" width="9.75" height="9.89" fill="#108a8a"/><rect x="200.90" y="203.33" width="9.75" height="9.89" fill="#12a074"/><rect x="210.24" y="203.33" width="9.75" height="9.89" fill="#108a8a"/><rect x="219.59" y="203.33" width="9.75" height="9.89" fill="#107c9c"/><rect x="228.94" y="203.33" width="19.09" height="9.89" fill="#108a8a"/><rect x="247.63" y="203.33" width="28.44" height="9.89" fill="#12a074"/><rect x="275.67" y="203.33" width="9.75" height="9.89" fill="#78c05c"/><rect x="285.02" y="203.33" width="9.75" height="9.89" fill="#98c856"/><rect x="294.37" y="203.33" width="9.75" height="9.89" fill="#52b262"/><rect x="303.71" y="203.33" width="9.75" height="9.89" fill="#12a074"/><rect x="313.06" y="203.33" width="19.09" height="9.89" fill="#52b262"/><rect x="331.76" y="203.33" width="9.75" height="9.89" fill="#12a074"/><rect x="341.10" y="203.33" width="9.75" height="9.89" fill="#52b262"/><rect x="350.45" y="203.33" width="19.09" height="9.89" fill="#12a074"/><rect x="369.14" y="203.33" width="37.79" height="9.89" fill="#108a8a"/><rect x="406.53" y="203.33" width="9.75" height="9.89" fill="#52b262"/><rect x="415.88" y="203.33" width="37.79" height="9.89" fill="#12a074"/><rect x="453.27" y="203.33" width="19.09" height="9.89" fill="#52b262"/><rect x="471.96" y="203.33" width="9.75" height="9.89" fill="#12a074"/><rect x="481.31" y="203.33" width="9.75" height="9.89" fill="#108a8a"/><rect x="490.65" y="203.33" width="9.75" height="9.89" fill="#107c9c"/><rect x="42.00" y="212.82" width="9.75" height="9.89" fill="#3694d6"/><rect x="51.35" y="212.82" width="47.13" height="9.89" fill="#1a76bc"/><rect x="98.08" y="212.82" width="9.75" height="9.89" fill="#2282c8"/><rect x="107.43" y="212.82" width="37.79" height="9.89" fill="#1a76bc"/><rect x="144.82" y="212.82" width="28.44" height="9.89" fill="#107c9c"/><rect x="172.86" y="212.82" width="28.44" height="9.89" fill="#108a8a"/><rect x="200.90" y="212.82" width="9.75" height="9.89" fill="#12a074"/><rect x="210.24" y="212.82" width="9.75" height="9.89" fill="#107c9c"/><rect x="219.59" y="212.82" width="47.13" height="9.89" fill="#108a8a"/><rect x="266.33" y="212.82" width="9.75" height="9.89" fill="#12a074"/><rect x="275.67" y="212.82" width="9.75" height="9.89" fill="#108a8a"/><rect x="285.02" y="212.82" width="65.83" height="9.89" fill="#12a074"/><rect x="350.45" y="212.82" width="19.09" height="9.89" fill="#107c9c"/><rect x="369.14" y="212.82" width="19.09" height="9.89" fill="#1a76bc"/><rect x="387.84" y="212.82" width="9.75" height="9.89" fill="#107c9c"/><rect x="397.18" y="212.82" width="9.75" height="9.89" fill="#108a8a"/><rect x="406.53" y="212.82" width="19.09" height="9.89" fill="#12a074"/><rect x="425.22" y="212.82" width="9.75" height="9.89" fill="#108a8a"/><rect x="434.57" y="212.82" width="19.09" height="9.89" fill="#12a074"/><rect x="453.27" y="212.82" width="9.75" height="9.89" fill="#78c05c"/><rect x="462.61" y="212.82" width="9.75" height="9.89" fill="#12a074"/><rect x="471.96" y="212.82" width="9.75" height="9.89" fill="#108a8a"/><rect x="481.31" y="212.82" width="19.09" height="9.89" fill="#107c9c"/><rect x="42.00" y="222.31" width="9.75" height="9.89" fill="#3694d6"/><rect x="51.35" y="222.31" width="56.48" height="9.89" fill="#2282c8"/><rect x="107.43" y="222.31" width="37.79" height="9.89" fill="#1a76bc"/><rect x="144.82" y="222.31" width="28.44" height="9.89" fill="#107c9c"/><rect x="172.86" y="222.31" width="47.13" height="9.89" fill="#108a8a"/><rect x="219.59" y="222.31" width="9.75" height="9.89" fill="#107c9c"/><rect x="228.94" y="222.31" width="28.44" height="9.89" fill="#108a8a"/><rect x="256.98" y="222.31" width="37.79" height="9.89" fill="#107c9c"/><rect x="294.37" y="222.31" width="9.75" height="9.89" fill="#12a074"/><rect x="303.71" y="222.31" width="28.44" height="9.89" fill="#108a8a"/><rect x="331.76" y="222.31" width="9.75" height="9.89" fill="#107c9c"/><rect x="341.10" y="222.31" width="9.75" height="9.89" fill="#1a76bc"/><rect x="350.45" y="222.31" width="37.79" height="9.89" fill="#2282c8"/><rect x="387.84" y="222.31" width="9.75" height="9.89" fill="#1a76bc"/><rect x="397.18" y="222.31" width="9.75" height="9.89" fill="#107c9c"/><rect x="406.53" y="222.31" width="9.75" height="9.89" fill="#108a8a"/><rect x="415.88" y="222.31" width="9.75" height="9.89" fill="#12a074"/><rect x="425.22" y="222.31" width="9.75" height="9.89" fill="#107c9c"/><rect x="434.57" y="222.31" width="28.44" height="9.89" fill="#108a8a"/><rect x="462.61" y="222.31" width="37.79" height="9.89" fill="#107c9c"/><rect x="42.00" y="231.80" width="9.75" height="9.89" fill="#3694d6"/><rect x="51.35" y="231.80" width="65.83" height="9.89" fill="#2282c8"/><rect x="116.78" y="231.80" width="28.44" height="9.89" fill="#1a76bc"/><rect x="144.82" y="231.80" width="19.09" height="9.89" fill="#107c9c"/><rect x="163.51" y="231.80" width="47.13" height="9.89" fill="#108a8a"/><rect x="210.24" y="231.80" width="19.09" height="9.89" fill="#12a074"/><rect x="228.94" y="231.80" width="19.09" height="9.89" fill="#108a8a"/><rect x="247.63" y="231.80" width="28.44" height="9.89" fill="#107c9c"/><rect x="275.67" y="231.80" width="19.09" height="9.89" fill="#1a76bc"/><rect x="294.37" y="231.80" width="9.75" height="9.89" fill="#107c9c"/><rect x="303.71" y="231.80" width="19.09" height="9.89" fill="#108a8a"/><rect x="322.41" y="231.80" width="9.75" height="9.89" fill="#107c9c"/><rect x="331.76" y="231.80" width="9.75" height="9.89" fill="#1a76bc"/><rect x="341.10" y="231.80" width="65.83" height="9.89" fill="#2282c8"/><rect x="406.53" y="231.80" width="37.79" height="9.89" fill="#1a76bc"/><rect x="443.92" y="231.80" width="9.75" height="9.89" fill="#107c9c"/><rect x="453.27" y="231.80" width="47.13" height="9.89" fill="#108a8a"/><rect x="42.00" y="241.29" width="47.13" height="9.89" fill="#3694d6"/><rect x="88.73" y="241.29" width="28.44" height="9.89" fill="#2282c8"/><rect x="116.78" y="241.29" width="37.79" height="9.89" fill="#1a76bc"/><rect x="154.16" y="241.29" width="56.48" height="9.89" fill="#108a8a"/><rect x="210.24" y="241.29" width="9.75" height="9.89" fill="#12a074"/><rect x="219.59" y="241.29" width="19.09" height="9.89" fill="#108a8a"/><rect x="238.29" y="241.29" width="19.09" height="9.89" fill="#107c9c"/><rect x="256.98" y="241.29" width="28.44" height="9.89" fill="#1a76bc"/><rect x="285.02" y="241.29" width="9.75" height="9.89" fill="#107c9c"/><rect x="294.37" y="241.29" width="9.75" height="9.89" fill="#1a76bc"/><rect x="303.71" y="241.29" width="19.09" height="9.89" fill="#108a8a"/><rect x="322.41" y="241.29" width="9.75" height="9.89" fill="#107c9c"/><rect x="331.76" y="241.29" width="9.75" height="9.89" fill="#1a76bc"/><rect x="341.10" y="241.29" width="9.75" height="9.89" fill="#2282c8"/><rect x="350.45" y="241.29" width="19.09" height="9.89" fill="#3694d6"/><rect x="369.14" y="241.29" width="19.09" height="9.89" fill="#2282c8"/><rect x="387.84" y="241.29" width="9.75" height="9.89" fill="#3694d6"/><rect x="397.18" y="241.29" width="9.75" height="9.89" fill="#2282c8"/><rect x="406.53" y="241.29" width="9.75" height="9.89" fill="#55ade2"/><rect x="415.88" y="241.29" width="19.09" height="9.89" fill="#3694d6"/><rect x="434.57" y="241.29" width="19.09" height="9.89" fill="#2282c8"/><rect x="453.27" y="241.29" width="28.44" height="9.89" fill="#1a76bc"/><rect x="481.31" y="241.29" width="19.09" height="9.89" fill="#107c9c"/><rect x="42.00" y="250.78" width="9.75" height="9.89" fill="#3694d6"/><rect x="51.35" y="250.78" width="19.09" height="9.89" fill="#2282c8"/><rect x="70.04" y="250.78" width="9.75" height="9.89" fill="#1a76bc"/><rect x="79.39" y="250.78" width="28.44" height="9.89" fill="#2282c8"/><rect x="107.43" y="250.78" width="28.44" height="9.89" fill="#1a76bc"/><rect x="135.47" y="250.78" width="9.75" height="9.89" fill="#107c9c"/><rect x="144.82" y="250.78" width="28.44" height="9.89" fill="#1a76bc"/><rect x="172.86" y="250.78" width="28.44" height="9.89" fill="#108a8a"/><rect x="200.90" y="250.78" width="19.09" height="9.89" fill="#12a074"/><rect x="219.59" y="250.78" width="19.09" height="9.89" fill="#108a8a"/><rect x="238.29" y="250.78" width="28.44" height="9.89" fill="#1a76bc"/><rect x="266.33" y="250.78" width="9.75" height="9.89" fill="#2282c8"/><rect x="275.67" y="250.78" width="9.75" height="9.89" fill="#1a76bc"/><rect x="285.02" y="250.78" width="37.79" height="9.89" fill="#108a8a"/><rect x="322.41" y="250.78" width="9.75" height="9.89" fill="#2282c8"/><rect x="331.76" y="250.78" width="9.75" height="9.89" fill="#1a76bc"/><rect x="341.10" y="250.78" width="28.44" height="9.89" fill="#2282c8"/><rect x="369.14" y="250.78" width="19.09" height="9.89" fill="#1a76bc"/><rect x="387.84" y="250.78" width="9.75" height="9.89" fill="#2282c8"/><rect x="397.18" y="250.78" width="9.75" height="9.89" fill="#1a76bc"/><rect x="406.53" y="250.78" width="9.75" height="9.89" fill="#2282c8"/><rect x="415.88" y="250.78" width="19.09" height="9.89" fill="#3694d6"/><rect x="434.57" y="250.78" width="9.75" height="9.89" fill="#2282c8"/><rect x="443.92" y="250.78" width="9.75" height="9.89" fill="#3694d6"/><rect x="453.27" y="250.78" width="37.79" height="9.89" fill="#2282c8"/><rect x="490.65" y="250.78" width="9.75" height="9.89" fill="#1a76bc"/><rect x="42.00" y="260.27" width="9.75" height="9.89" fill="#3694d6"/><rect x="51.35" y="260.27" width="19.09" height="9.89" fill="#2282c8"/><rect x="70.04" y="260.27" width="56.48" height="9.89" fill="#1a76bc"/><rect x="126.12" y="260.27" width="28.44" height="9.89" fill="#107c9c"/><rect x="154.16" y="260.27" width="9.75" height="9.89" fill="#1a76bc"/><rect x="163.51" y="260.27" width="28.44" height="9.89" fill="#108a8a"/><rect x="191.55" y="260.27" width="19.09" height="9.89" fill="#12a074"/><rect x="210.24" y="260.27" width="19.09" height="9.89" fill="#108a8a"/><rect x="228.94" y="260.27" width="28.44" height="9.89" fill="#1a76bc"/><rect x="256.98" y="260.27" width="9.75" height="9.89" fill="#2282c8"/><rect x="266.33" y="260.27" width="9.75" height="9.89" fill="#1a76bc"/><rect x="275.67" y="260.27" width="9.75" height="9.89" fill="#107c9c"/><rect x="285.02" y="260.27" width="19.09" height="9.89" fill="#108a8a"/><rect x="303.71" y="260.27" width="9.75" height="9.89" fill="#107c9c"/><rect x="313.06" y="260.27" width="9.75" height="9.89" fill="#108a8a"/><rect x="322.41" y="260.27" width="19.09" height="9.89" fill="#2282c8"/><rect x="341.10" y="260.27" width="37.79" height="9.89" fill="#1a76bc"/><rect x="378.49" y="260.27" width="9.75" height="9.89" fill="#107c9c"/><rect x="387.84" y="260.27" width="19.09" height="9.89" fill="#1a76bc"/><rect x="406.53" y="260.27" width="19.09" height="9.89" fill="#2282c8"/><rect x="425.22" y="260.27" width="9.75" height="9.89" fill="#3694d6"/><rect x="434.57" y="260.27" width="9.75" height="9.89" fill="#2282c8"/><rect x="443.92" y="260.27" width="19.09" height="9.89" fill="#3694d6"/><rect x="462.61" y="260.27" width="19.09" height="9.89" fill="#55ade2"/><rect x="481.31" y="260.27" width="19.09" height="9.89" fill="#3694d6"/><rect x="42.00" y="269.76" width="19.09" height="9.89" fill="#2282c8"/><rect x="60.69" y="269.76" width="19.09" height="9.89" fill="#1a76bc"/><rect x="79.39" y="269.76" width="9.75" height="9.89" fill="#107c9c"/><rect x="88.73" y="269.76" width="9.75" height="9.89" fill="#1a76bc"/><rect x="98.08" y="269.76" width="9.75" height="9.89" fill="#107c9c"/><rect x="107.43" y="269.76" width="9.75" height="9.89" fill="#1a76bc"/><rect x="116.78" y="269.76" width="19.09" height="9.89" fill="#107c9c"/><rect x="135.47" y="269.76" width="56.48" height="9.89" fill="#108a8a"/><rect x="191.55" y="269.76" width="9.75" height="9.89" fill="#34a86a"/><rect x="200.90" y="269.76" width="9.75" height="9.89" fill="#12a074"/><rect x="210.24" y="269.76" width="9.75" height="9.89" fill="#108a8a"/><rect x="219.59" y="269.76" width="9.75" height="9.89" fill="#107c9c"/><rect x="228.94" y="269.76" width="56.48" height="9.89" fill="#2282c8"/><rect x="285.02" y="269.76" width="19.09" height="9.89" fill="#107c9c"/><rect x="303.71" y="269.76" width="19.09" height="9.89" fill="#1a76bc"/><rect x="322.41" y="269.76" width="19.09" height="9.89" fill="#2282c8"/><rect x="341.10" y="269.76" width="28.44" height="9.89" fill="#1a76bc"/><rect x="369.14" y="269.76" width="28.44" height="9.89" fill="#107c9c"/><rect x="397.18" y="269.76" width="9.75" height="9.89" fill="#1a76bc"/><rect x="406.53" y="269.76" width="28.44" height="9.89" fill="#2282c8"/><rect x="434.57" y="269.76" width="9.75" height="9.89" fill="#3694d6"/><rect x="443.92" y="269.76" width="28.44" height="9.89" fill="#55ade2"/><rect x="471.96" y="269.76" width="9.75" height="9.89" fill="#3694d6"/><rect x="481.31" y="269.76" width="9.75" height="9.89" fill="#55ade2"/><rect x="490.65" y="269.76" width="9.75" height="9.89" fill="#3694d6"/><rect x="42.00" y="279.24" width="9.75" height="9.89" fill="#2282c8"/><rect x="51.35" y="279.24" width="19.09" height="9.89" fill="#1a76bc"/><rect x="70.04" y="279.24" width="37.79" height="9.89" fill="#107c9c"/><rect x="107.43" y="279.24" width="65.83" height="9.89" fill="#108a8a"/><rect x="172.86" y="279.24" width="9.75" height="9.89" fill="#12a074"/><rect x="182.20" y="279.24" width="19.09" height="9.89" fill="#34a86a"/><rect x="200.90" y="279.24" width="9.75" height="9.89" fill="#108a8a"/><rect x="210.24" y="279.24" width="9.75" height="9.89" fill="#107c9c"/><rect x="219.59" y="279.24" width="9.75" height="9.89" fill="#1a76bc"/><rect x="228.94" y="279.24" width="28.44" height="9.89" fill="#2282c8"/><rect x="256.98" y="279.24" width="28.44" height="9.89" fill="#3694d6"/><rect x="285.02" y="279.24" width="28.44" height="9.89" fill="#2282c8"/><rect x="313.06" y="279.24" width="9.75" height="9.89" fill="#1a76bc"/><rect x="322.41" y="279.24" width="19.09" height="9.89" fill="#2282c8"/><rect x="341.10" y="279.24" width="28.44" height="9.89" fill="#1a76bc"/><rect x="369.14" y="279.24" width="19.09" height="9.89" fill="#107c9c"/><rect x="387.84" y="279.24" width="9.75" height="9.89" fill="#1a76bc"/><rect x="397.18" y="279.24" width="103.22" height="9.89" fill="#2282c8"/><rect x="42.00" y="288.73" width="19.09" height="9.89" fill="#1a76bc"/><rect x="60.69" y="288.73" width="19.09" height="9.89" fill="#107c9c"/><rect x="79.39" y="288.73" width="9.75" height="9.89" fill="#108a8a"/><rect x="88.73" y="288.73" width="37.79" height="9.89" fill="#107c9c"/><rect x="126.12" y="288.73" width="9.75" height="9.89" fill="#12a074"/><rect x="135.47" y="288.73" width="28.44" height="9.89" fill="#108a8a"/><rect x="163.51" y="288.73" width="9.75" height="9.89" fill="#12a074"/><rect x="172.86" y="288.73" width="9.75" height="9.89" fill="#78c05c"/><rect x="182.20" y="288.73" width="9.75" height="9.89" fill="#34a86a"/><rect x="191.55" y="288.73" width="9.75" height="9.89" fill="#12a074"/><rect x="200.90" y="288.73" width="9.75" height="9.89" fill="#108a8a"/><rect x="210.24" y="288.73" width="9.75" height="9.89" fill="#1a76bc"/><rect x="219.59" y="288.73" width="28.44" height="9.89" fill="#2282c8"/><rect x="247.63" y="288.73" width="28.44" height="9.89" fill="#3694d6"/><rect x="275.67" y="288.73" width="47.13" height="9.89" fill="#2282c8"/><rect x="322.41" y="288.73" width="9.75" height="9.89" fill="#3694d6"/><rect x="331.76" y="288.73" width="9.75" height="9.89" fill="#2282c8"/><rect x="341.10" y="288.73" width="9.75" height="9.89" fill="#1a76bc"/><rect x="350.45" y="288.73" width="9.75" height="9.89" fill="#2282c8"/><rect x="359.80" y="288.73" width="9.75" height="9.89" fill="#1a76bc"/><rect x="369.14" y="288.73" width="9.75" height="9.89" fill="#107c9c"/><rect x="378.49" y="288.73" width="9.75" height="9.89" fill="#1a76bc"/><rect x="387.84" y="288.73" width="56.48" height="9.89" fill="#2282c8"/><rect x="443.92" y="288.73" width="9.75" height="9.89" fill="#1a76bc"/><rect x="453.27" y="288.73" width="37.79" height="9.89" fill="#2282c8"/><rect x="490.65" y="288.73" width="9.75" height="9.89" fill="#3694d6"/><rect x="42.00" y="298.22" width="9.75" height="9.89" fill="#107c9c"/><rect x="51.35" y="298.22" width="9.75" height="9.89" fill="#108a8a"/><rect x="60.69" y="298.22" width="9.75" height="9.89" fill="#107c9c"/><rect x="70.04" y="298.22" width="9.75" height="9.89" fill="#108a8a"/><rect x="79.39" y="298.22" width="9.75" height="9.89" fill="#12a074"/><rect x="88.73" y="298.22" width="19.09" height="9.89" fill="#108a8a"/><rect x="107.43" y="298.22" width="9.75" height="9.89" fill="#107c9c"/><rect x="116.78" y="298.22" width="9.75" height="9.89" fill="#108a8a"/><rect x="126.12" y="298.22" width="9.75" height="9.89" fill="#12a074"/><rect x="135.47" y="298.22" width="19.09" height="9.89" fill="#108a8a"/><rect x="154.16" y="298.22" width="19.09" height="9.89" fill="#34a86a"/><rect x="172.86" y="298.22" width="9.75" height="9.89" fill="#52b262"/><rect x="182.20" y="298.22" width="9.75" height="9.89" fill="#12a074"/><rect x="191.55" y="298.22" width="9.75" height="9.89" fill="#108a8a"/><rect x="200.90" y="298.22" width="9.75" height="9.89" fill="#1a76bc"/><rect x="210.24" y="298.22" width="9.75" height="9.89" fill="#2282c8"/><rect x="219.59" y="298.22" width="47.13" height="9.89" fill="#3694d6"/><rect x="266.33" y="298.22" width="19.09" height="9.89" fill="#2282c8"/><rect x="285.02" y="298.22" width="19.09" height="9.89" fill="#3694d6"/><rect x="303.71" y="298.22" width="19.09" height="9.89" fill="#2282c8"/><rect x="322.41" y="298.22" width="37.79" height="9.89" fill="#3694d6"/><rect x="359.80" y="298.22" width="19.09" height="9.89" fill="#2282c8"/><rect x="378.49" y="298.22" width="9.75" height="9.89" fill="#3694d6"/><rect x="387.84" y="298.22" width="9.75" height="9.89" fill="#2282c8"/><rect x="397.18" y="298.22" width="9.75" height="9.89" fill="#3694d6"/><rect x="406.53" y="298.22" width="19.09" height="9.89" fill="#2282c8"/><rect x="425.22" y="298.22" width="9.75" height="9.89" fill="#1a76bc"/><rect x="434.57" y="298.22" width="9.75" height="9.89" fill="#2282c8"/><rect x="443.92" y="298.22" width="9.75" height="9.89" fill="#3694d6"/><rect x="453.27" y="298.22" width="9.75" height="9.89" fill="#2282c8"/><rect x="462.61" y="298.22" width="37.79" height="9.89" fill="#3694d6"/><rect x="42.00" y="307.71" width="9.75" height="9.89" fill="#1a76bc"/><rect x="51.35" y="307.71" width="28.44" height="9.89" fill="#12a074"/><rect x="79.39" y="307.71" width="9.75" height="9.89" fill="#108a8a"/><rect x="88.73" y="307.71" width="9.75" height="9.89" fill="#107c9c"/><rect x="98.08" y="307.71" width="9.75" height="9.89" fill="#1a76bc"/><rect x="107.43" y="307.71" width="19.09" height="9.89" fill="#108a8a"/><rect x="126.12" y="307.71" width="9.75" height="9.89" fill="#12a074"/><rect x="135.47" y="307.71" width="19.09" height="9.89" fill="#108a8a"/><rect x="154.16" y="307.71" width="9.75" height="9.89" fill="#52b262"/><rect x="163.51" y="307.71" width="9.75" height="9.89" fill="#34a86a"/><rect x="172.86" y="307.71" width="9.75" height="9.89" fill="#12a074"/><rect x="182.20" y="307.71" width="9.75" height="9.89" fill="#107c9c"/><rect x="191.55" y="307.71" width="9.75" height="9.89" fill="#1a76bc"/><rect x="200.90" y="307.71" width="9.75" height="9.89" fill="#2282c8"/><rect x="210.24" y="307.71" width="28.44" height="9.89" fill="#3694d6"/><rect x="238.29" y="307.71" width="9.75" height="9.89" fill="#55ade2"/><rect x="247.63" y="307.71" width="9.75" height="9.89" fill="#3694d6"/><rect x="256.98" y="307.71" width="9.75" height="9.89" fill="#55ade2"/><rect x="266.33" y="307.71" width="9.75" height="9.89" fill="#3694d6"/><rect x="275.67" y="307.71" width="9.75" height="9.89" fill="#2282c8"/><rect x="285.02" y="307.71" width="19.09" height="9.89" fill="#3694d6"/><rect x="303.71" y="307.71" width="19.09" height="9.89" fill="#2282c8"/><rect x="322.41" y="307.71" width="19.09" height="9.89" fill="#3694d6"/><rect x="341.10" y="307.71" width="19.09" height="9.89" fill="#55ade2"/><rect x="359.80" y="307.71" width="37.79" height="9.89" fill="#3694d6"/><rect x="397.18" y="307.71" width="19.09" height="9.89" fill="#2282c8"/><rect x="415.88" y="307.71" width="84.52" height="9.89" fill="#3694d6"/><rect x="42.00" y="317.20" width="9.75" height="9.89" fill="#1a76bc"/><rect x="51.35" y="317.20" width="28.44" height="9.89" fill="#12a074"/><rect x="79.39" y="317.20" width="19.09" height="9.89" fill="#107c9c"/><rect x="98.08" y="317.20" width="9.75" height="9.89" fill="#1a76bc"/><rect x="107.43" y="317.20" width="9.75" height="9.89" fill="#107c9c"/><rect x="116.78" y="317.20" width="56.48" height="9.89" fill="#108a8a"/><rect x="172.86" y="317.20" width="19.09" height="9.89" fill="#107c9c"/><rect x="191.55" y="317.20" width="9.75" height="9.89" fill="#1a76bc"/><rect x="200.90" y="317.20" width="9.75" height="9.89" fill="#2282c8"/><rect x="210.24" y="317.20" width="19.09" height="9.89" fill="#3694d6"/><rect x="228.94" y="317.20" width="19.09" height="9.89" fill="#55ade2"/><rect x="247.63" y="317.20" width="19.09" height="9.89" fill="#3694d6"/><rect x="266.33" y="317.20" width="19.09" height="9.89" fill="#2282c8"/><rect x="285.02" y="317.20" width="75.18" height="9.89" fill="#3694d6"/><rect x="359.80" y="317.20" width="9.75" height="9.89" fill="#2282c8"/><rect x="369.14" y="317.20" width="9.75" height="9.89" fill="#3694d6"/><rect x="378.49" y="317.20" width="9.75" height="9.89" fill="#55ade2"/><rect x="387.84" y="317.20" width="9.75" height="9.89" fill="#3694d6"/><rect x="397.18" y="317.20" width="9.75" height="9.89" fill="#2282c8"/><rect x="406.53" y="317.20" width="19.09" height="9.89" fill="#3694d6"/><rect x="425.22" y="317.20" width="9.75" height="9.89" fill="#2282c8"/><rect x="434.57" y="317.20" width="65.83" height="9.89" fill="#3694d6"/><rect x="42.00" y="326.69" width="19.09" height="9.89" fill="#107c9c"/><rect x="60.69" y="326.69" width="9.75" height="9.89" fill="#108a8a"/><rect x="70.04" y="326.69" width="9.75" height="9.89" fill="#107c9c"/><rect x="79.39" y="326.69" width="28.44" height="9.89" fill="#1a76bc"/><rect x="107.43" y="326.69" width="19.09" height="9.89" fill="#107c9c"/><rect x="126.12" y="326.69" width="37.79" height="9.89" fill="#108a8a"/><rect x="163.51" y="326.69" width="9.75" height="9.89" fill="#107c9c"/><rect x="172.86" y="326.69" width="19.09" height="9.89" fill="#1a76bc"/><rect x="191.55" y="326.69" width="9.75" height="9.89" fill="#2282c8"/><rect x="200.90" y="326.69" width="28.44" height="9.89" fill="#3694d6"/><rect x="228.94" y="326.69" width="9.75" height="9.89" fill="#55ade2"/><rect x="238.29" y="326.69" width="19.09" height="9.89" fill="#3694d6"/><rect x="256.98" y="326.69" width="28.44" height="9.89" fill="#2282c8"/><rect x="285.02" y="326.69" width="19.09" height="9.89" fill="#3694d6"/><rect x="303.71" y="326.69" width="19.09" height="9.89" fill="#55ade2"/><rect x="322.41" y="326.69" width="9.75" height="9.89" fill="#3694d6"/><rect x="331.76" y="326.69" width="28.44" height="9.89" fill="#2282c8"/><rect x="359.80" y="326.69" width="28.44" height="9.89" fill="#3694d6"/><rect x="387.84" y="326.69" width="9.75" height="9.89" fill="#2282c8"/><rect x="397.18" y="326.69" width="56.48" height="9.89" fill="#3694d6"/><rect x="453.27" y="326.69" width="9.75" height="9.89" fill="#2282c8"/><rect x="462.61" y="326.69" width="37.79" height="9.89" fill="#1a76bc"/><rect x="42.00" y="336.18" width="28.44" height="9.89" fill="#107c9c"/><rect x="70.04" y="336.18" width="9.75" height="9.89" fill="#1a76bc"/><rect x="79.39" y="336.18" width="28.44" height="9.89" fill="#2282c8"/><rect x="107.43" y="336.18" width="9.75" height="9.89" fill="#1a76bc"/><rect x="116.78" y="336.18" width="19.09" height="9.89" fill="#107c9c"/><rect x="135.47" y="336.18" width="9.75" height="9.89" fill="#108a8a"/><rect x="144.82" y="336.18" width="19.09" height="9.89" fill="#107c9c"/><rect x="163.51" y="336.18" width="9.75" height="9.89" fill="#1a76bc"/><rect x="172.86" y="336.18" width="9.75" height="9.89" fill="#2282c8"/><rect x="182.20" y="336.18" width="9.75" height="9.89" fill="#1a76bc"/><rect x="191.55" y="336.18" width="9.75" height="9.89" fill="#2282c8"/><rect x="200.90" y="336.18" width="19.09" height="9.89" fill="#3694d6"/><rect x="219.59" y="336.18" width="19.09" height="9.89" fill="#55ade2"/><rect x="238.29" y="336.18" width="9.75" height="9.89" fill="#3694d6"/><rect x="247.63" y="336.18" width="37.79" height="9.89" fill="#2282c8"/><rect x="285.02" y="336.18" width="19.09" height="9.89" fill="#3694d6"/><rect x="303.71" y="336.18" width="19.09" height="9.89" fill="#55ade2"/><rect x="322.41" y="336.18" width="9.75" height="9.89" fill="#2282c8"/><rect x="331.76" y="336.18" width="19.09" height="9.89" fill="#1a76bc"/><rect x="350.45" y="336.18" width="19.09" height="9.89" fill="#2282c8"/><rect x="369.14" y="336.18" width="9.75" height="9.89" fill="#3694d6"/><rect x="378.49" y="336.18" width="19.09" height="9.89" fill="#2282c8"/><rect x="397.18" y="336.18" width="9.75" height="9.89" fill="#3694d6"/><rect x="406.53" y="336.18" width="19.09" height="9.89" fill="#55ade2"/><rect x="425.22" y="336.18" width="19.09" height="9.89" fill="#3694d6"/><rect x="443.92" y="336.18" width="19.09" height="9.89" fill="#1a76bc"/><rect x="462.61" y="336.18" width="28.44" height="9.89" fill="#107c9c"/><rect x="490.65" y="336.18" width="9.75" height="9.89" fill="#1a76bc"/><rect x="42.00" y="345.67" width="28.44" height="9.89" fill="#107c9c"/><rect x="70.04" y="345.67" width="9.75" height="9.89" fill="#1a76bc"/><rect x="79.39" y="345.67" width="9.75" height="9.89" fill="#2282c8"/><rect x="88.73" y="345.67" width="28.44" height="9.89" fill="#1a76bc"/><rect x="116.78" y="345.67" width="19.09" height="9.89" fill="#107c9c"/><rect x="135.47" y="345.67" width="9.75" height="9.89" fill="#108a8a"/><rect x="144.82" y="345.67" width="9.75" height="9.89" fill="#107c9c"/><rect x="154.16" y="345.67" width="9.75" height="9.89" fill="#1a76bc"/><rect x="163.51" y="345.67" width="19.09" height="9.89" fill="#2282c8"/><rect x="182.20" y="345.67" width="28.44" height="9.89" fill="#3694d6"/><rect x="210.24" y="345.67" width="28.44" height="9.89" fill="#55ade2"/><rect x="238.29" y="345.67" width="9.75" height="9.89" fill="#3694d6"/><rect x="247.63" y="345.67" width="28.44" height="9.89" fill="#2282c8"/><rect x="275.67" y="345.67" width="28.44" height="9.89" fill="#3694d6"/><rect x="303.71" y="345.67" width="9.75" height="9.89" fill="#55ade2"/><rect x="313.06" y="345.67" width="9.75" height="9.89" fill="#68a8d0"/><rect x="322.41" y="345.67" width="9.75" height="9.89" fill="#2282c8"/><rect x="331.76" y="345.67" width="9.75" height="9.89" fill="#107c9c"/><rect x="341.10" y="345.67" width="9.75" height="9.89" fill="#1a76bc"/><rect x="350.45" y="345.67" width="19.09" height="9.89" fill="#2282c8"/><rect x="369.14" y="345.67" width="9.75" height="9.89" fill="#1a76bc"/><rect x="378.49" y="345.67" width="9.75" height="9.89" fill="#2282c8"/><rect x="387.84" y="345.67" width="9.75" height="9.89" fill="#3694d6"/><rect x="397.18" y="345.67" width="19.09" height="9.89" fill="#55ade2"/><rect x="415.88" y="345.67" width="19.09" height="9.89" fill="#3694d6"/><rect x="434.57" y="345.67" width="9.75" height="9.89" fill="#2282c8"/><rect x="443.92" y="345.67" width="9.75" height="9.89" fill="#1a76bc"/><rect x="453.27" y="345.67" width="37.79" height="9.89" fill="#107c9c"/><rect x="490.65" y="345.67" width="9.75" height="9.89" fill="#1a76bc"/><rect x="42.00" y="355.16" width="28.44" height="9.89" fill="#107c9c"/><rect x="70.04" y="355.16" width="9.75" height="9.89" fill="#1a76bc"/><rect x="79.39" y="355.16" width="9.75" height="9.89" fill="#2282c8"/><rect x="88.73" y="355.16" width="19.09" height="9.89" fill="#1a76bc"/><rect x="107.43" y="355.16" width="37.79" height="9.89" fill="#107c9c"/><rect x="144.82" y="355.16" width="9.75" height="9.89" fill="#1a76bc"/><rect x="154.16" y="355.16" width="19.09" height="9.89" fill="#2282c8"/><rect x="172.86" y="355.16" width="19.09" height="9.89" fill="#3694d6"/><rect x="191.55" y="355.16" width="47.13" height="9.89" fill="#55ade2"/><rect x="238.29" y="355.16" width="9.75" height="9.89" fill="#3694d6"/><rect x="247.63" y="355.16" width="28.44" height="9.89" fill="#2282c8"/><rect x="275.67" y="355.16" width="19.09" height="9.89" fill="#3694d6"/><rect x="294.37" y="355.16" width="19.09" height="9.89" fill="#68a8d0"/><rect x="313.06" y="355.16" width="9.75" height="9.89" fill="#55ade2"/><rect x="322.41" y="355.16" width="9.75" height="9.89" fill="#2282c8"/><rect x="331.76" y="355.16" width="9.75" height="9.89" fill="#1a76bc"/><rect x="341.10" y="355.16" width="9.75" height="9.89" fill="#3694d6"/><rect x="350.45" y="355.16" width="9.75" height="9.89" fill="#55ade2"/><rect x="359.80" y="355.16" width="9.75" height="9.89" fill="#2282c8"/><rect x="369.14" y="355.16" width="9.75" height="9.89" fill="#55ade2"/><rect x="378.49" y="355.16" width="9.75" height="9.89" fill="#3694d6"/><rect x="387.84" y="355.16" width="56.48" height="9.89" fill="#88a0b0"/><rect x="443.92" y="355.16" width="47.13" height="9.89" fill="#107c9c"/><rect x="490.65" y="355.16" width="9.75" height="9.89" fill="#1a76bc"/><rect x="42.00" y="364.65" width="9.75" height="9.89" fill="#12a074"/><rect x="51.35" y="364.65" width="28.44" height="9.89" fill="#107c9c"/><rect x="79.39" y="364.65" width="9.75" height="9.89" fill="#1a76bc"/><rect x="88.73" y="364.65" width="56.48" height="9.89" fill="#107c9c"/><rect x="144.82" y="364.65" width="28.44" height="9.89" fill="#2282c8"/><rect x="172.86" y="364.65" width="19.09" height="9.89" fill="#3694d6"/><rect x="191.55" y="364.65" width="28.44" height="9.89" fill="#55ade2"/><rect x="219.59" y="364.65" width="9.75" height="9.89" fill="#3694d6"/><rect x="228.94" y="364.65" width="9.75" height="9.89" fill="#55ade2"/><rect x="238.29" y="364.65" width="9.75" height="9.89" fill="#2282c8"/><rect x="247.63" y="364.65" width="9.75" height="9.89" fill="#1a76bc"/><rect x="256.98" y="364.65" width="9.75" height="9.89" fill="#3694d6"/><rect x="266.33" y="364.65" width="28.44" height="9.89" fill="#55ade2"/><rect x="294.37" y="364.65" width="19.09" height="9.89" fill="#68a8d0"/><rect x="313.06" y="364.65" width="9.75" height="9.89" fill="#55ade2"/><rect x="322.41" y="364.65" width="19.09" height="9.89" fill="#1a76bc"/><rect x="341.10" y="364.65" width="47.13" height="9.89" fill="#55ade2"/><rect x="387.84" y="364.65" width="37.79" height="9.89" fill="#88a0b0"/><rect x="425.22" y="364.65" width="19.09" height="9.89" fill="#78a0c0"/><rect x="443.92" y="364.65" width="9.75" height="9.89" fill="#2282c8"/><rect x="453.27" y="364.65" width="37.79" height="9.89" fill="#1a76bc"/><rect x="490.65" y="364.65" width="9.75" height="9.89" fill="#2282c8"/><rect x="42.00" y="374.14" width="9.75" height="9.89" fill="#12a074"/><rect x="51.35" y="374.14" width="9.75" height="9.89" fill="#108a8a"/><rect x="60.69" y="374.14" width="37.79" height="9.89" fill="#107c9c"/><rect x="98.08" y="374.14" width="9.75" height="9.89" fill="#108a8a"/><rect x="107.43" y="374.14" width="47.13" height="9.89" fill="#107c9c"/><rect x="154.16" y="374.14" width="28.44" height="9.89" fill="#2282c8"/><rect x="182.20" y="374.14" width="9.75" height="9.89" fill="#3694d6"/><rect x="191.55" y="374.14" width="19.09" height="9.89" fill="#55ade2"/><rect x="210.24" y="374.14" width="19.09" height="9.89" fill="#3694d6"/><rect x="228.94" y="374.14" width="9.75" height="9.89" fill="#55ade2"/><rect x="238.29" y="374.14" width="19.09" height="9.89" fill="#3694d6"/><rect x="256.98" y="374.14" width="28.44" height="9.89" fill="#55ade2"/><rect x="285.02" y="374.14" width="19.09" height="9.89" fill="#68a8d0"/><rect x="303.71" y="374.14" width="47.13" height="9.89" fill="#78a0c0"/><rect x="350.45" y="374.14" width="28.44" height="9.89" fill="#55ade2"/><rect x="378.49" y="374.14" width="9.75" height="9.89" fill="#68a8d0"/><rect x="387.84" y="374.14" width="19.09" height="9.89" fill="#88a0b0"/><rect x="406.53" y="374.14" width="9.75" height="9.89" fill="#78a0c0"/><rect x="415.88" y="374.14" width="9.75" height="9.89" fill="#88a0b0"/><rect x="425.22" y="374.14" width="19.09" height="9.89" fill="#78a0c0"/><rect x="443.92" y="374.14" width="19.09" height="9.89" fill="#55ade2"/><rect x="462.61" y="374.14" width="9.75" height="9.89" fill="#2282c8"/><rect x="471.96" y="374.14" width="19.09" height="9.89" fill="#1a76bc"/><rect x="490.65" y="374.14" width="9.75" height="9.89" fill="#2282c8"/><rect x="42.00" y="383.63" width="9.75" height="9.89" fill="#34a86a"/><rect x="51.35" y="383.63" width="9.75" height="9.89" fill="#12a074"/><rect x="60.69" y="383.63" width="19.09" height="9.89" fill="#107c9c"/><rect x="79.39" y="383.63" width="9.75" height="9.89" fill="#1a76bc"/><rect x="88.73" y="383.63" width="65.83" height="9.89" fill="#107c9c"/><rect x="154.16" y="383.63" width="9.75" height="9.89" fill="#1a76bc"/><rect x="163.51" y="383.63" width="19.09" height="9.89" fill="#2282c8"/><rect x="182.20" y="383.63" width="19.09" height="9.89" fill="#3694d6"/><rect x="200.90" y="383.63" width="9.75" height="9.89" fill="#2282c8"/><rect x="210.24" y="383.63" width="19.09" height="9.89" fill="#3694d6"/><rect x="228.94" y="383.63" width="19.09" height="9.89" fill="#55ade2"/><rect x="247.63" y="383.63" width="9.75" height="9.89" fill="#3694d6"/><rect x="256.98" y="383.63" width="19.09" height="9.89" fill="#55ade2"/><rect x="275.67" y="383.63" width="19.09" height="9.89" fill="#68a8d0"/><rect x="294.37" y="383.63" width="19.09" height="9.89" fill="#78a0c0"/><rect x="313.06" y="383.63" width="37.79" height="9.89" fill="#88a0b0"/><rect x="350.45" y="383.63" width="9.75" height="9.89" fill="#68a8d0"/><rect x="359.80" y="383.63" width="19.09" height="9.89" fill="#78a0c0"/><rect x="378.49" y="383.63" width="28.44" height="9.89" fill="#88a0b0"/><rect x="406.53" y="383.63" width="19.09" height="9.89" fill="#78a0c0"/><rect x="425.22" y="383.63" width="9.75" height="9.89" fill="#88a0b0"/><rect x="434.57" y="383.63" width="9.75" height="9.89" fill="#78a0c0"/><rect x="443.92" y="383.63" width="9.75" height="9.89" fill="#68a8d0"/><rect x="453.27" y="383.63" width="19.09" height="9.89" fill="#55ade2"/><rect x="471.96" y="383.63" width="19.09" height="9.89" fill="#2282c8"/><rect x="490.65" y="383.63" width="9.75" height="9.89" fill="#3694d6"/><rect x="42.00" y="393.12" width="9.75" height="9.89" fill="#108a8a"/><rect x="51.35" y="393.12" width="9.75" height="9.89" fill="#78c05c"/><rect x="60.69" y="393.12" width="19.09" height="9.89" fill="#107c9c"/><rect x="79.39" y="393.12" width="19.09" height="9.89" fill="#1a76bc"/><rect x="98.08" y="393.12" width="9.75" height="9.89" fill="#107c9c"/><rect x="107.43" y="393.12" width="9.75" height="9.89" fill="#1a76bc"/><rect x="116.78" y="393.12" width="19.09" height="9.89" fill="#107c9c"/><rect x="135.47" y="393.12" width="9.75" height="9.89" fill="#108a8a"/><rect x="144.82" y="393.12" width="19.09" height="9.89" fill="#107c9c"/><rect x="163.51" y="393.12" width="28.44" height="9.89" fill="#2282c8"/><rect x="191.55" y="393.12" width="9.75" height="9.89" fill="#3694d6"/><rect x="200.90" y="393.12" width="9.75" height="9.89" fill="#2282c8"/><rect x="210.24" y="393.12" width="9.75" height="9.89" fill="#1a76bc"/><rect x="219.59" y="393.12" width="9.75" height="9.89" fill="#3694d6"/><rect x="228.94" y="393.12" width="37.79" height="9.89" fill="#55ade2"/><rect x="266.33" y="393.12" width="9.75" height="9.89" fill="#68a8d0"/><rect x="275.67" y="393.12" width="28.44" height="9.89" fill="#78a0c0"/><rect x="303.71" y="393.12" width="9.75" height="9.89" fill="#88a0b0"/><rect x="313.06" y="393.12" width="9.75" height="9.89" fill="#8c98a0"/><rect x="322.41" y="393.12" width="28.44" height="9.89" fill="#88a0b0"/><rect x="350.45" y="393.12" width="9.75" height="9.89" fill="#68a8d0"/><rect x="359.80" y="393.12" width="28.44" height="9.89" fill="#88a0b0"/><rect x="387.84" y="393.12" width="47.13" height="9.89" fill="#78a0c0"/><rect x="434.57" y="393.12" width="19.09" height="9.89" fill="#68a8d0"/><rect x="453.27" y="393.12" width="28.44" height="9.89" fill="#55ade2"/><rect x="481.31" y="393.12" width="19.09" height="9.89" fill="#3694d6"/><rect x="42.00" y="402.61" width="28.44" height="9.89" fill="#108a8a"/><rect x="70.04" y="402.61" width="37.79" height="9.89" fill="#107c9c"/><rect x="107.43" y="402.61" width="47.13" height="9.89" fill="#108a8a"/><rect x="154.16" y="402.61" width="37.79" height="9.89" fill="#2282c8"/><rect x="191.55" y="402.61" width="9.75" height="9.89" fill="#3694d6"/><rect x="200.90" y="402.61" width="9.75" height="9.89" fill="#2282c8"/><rect x="210.24" y="402.61" width="9.75" height="9.89" fill="#1a76bc"/><rect x="219.59" y="402.61" width="9.75" height="9.89" fill="#3694d6"/><rect x="228.94" y="402.61" width="19.09" height="9.89" fill="#55ade2"/><rect x="247.63" y="402.61" width="9.75" height="9.89" fill="#68a8d0"/><rect x="256.98" y="402.61" width="9.75" height="9.89" fill="#55ade2"/><rect x="266.33" y="402.61" width="9.75" height="9.89" fill="#68a8d0"/><rect x="275.67" y="402.61" width="28.44" height="9.89" fill="#78a0c0"/><rect x="303.71" y="402.61" width="19.09" height="9.89" fill="#8c98a0"/><rect x="322.41" y="402.61" width="47.13" height="9.89" fill="#88a0b0"/><rect x="369.14" y="402.61" width="9.75" height="9.89" fill="#9c9c9c"/><rect x="378.49" y="402.61" width="9.75" height="9.89" fill="#88a0b0"/><rect x="387.84" y="402.61" width="37.79" height="9.89" fill="#78a0c0"/><rect x="425.22" y="402.61" width="19.09" height="9.89" fill="#68a8d0"/><rect x="443.92" y="402.61" width="56.48" height="9.89" fill="#55ade2"/><rect x="42.00" y="412.10" width="9.75" height="9.89" fill="#108a8a"/><rect x="51.35" y="412.10" width="9.75" height="9.89" fill="#107c9c"/><rect x="60.69" y="412.10" width="9.75" height="9.89" fill="#108a8a"/><rect x="70.04" y="412.10" width="9.75" height="9.89" fill="#107c9c"/><rect x="79.39" y="412.10" width="9.75" height="9.89" fill="#108a8a"/><rect x="88.73" y="412.10" width="28.44" height="9.89" fill="#107c9c"/><rect x="116.78" y="412.10" width="37.79" height="9.89" fill="#108a8a"/><rect x="154.16" y="412.10" width="9.75" height="9.89" fill="#2282c8"/><rect x="163.51" y="412.10" width="9.75" height="9.89" fill="#3694d6"/><rect x="172.86" y="412.10" width="19.09" height="9.89" fill="#2282c8"/><rect x="191.55" y="412.10" width="9.75" height="9.89" fill="#3694d6"/><rect x="200.90" y="412.10" width="9.75" height="9.89" fill="#2282c8"/><rect x="210.24" y="412.10" width="9.75" height="9.89" fill="#1a76bc"/><rect x="219.59" y="412.10" width="9.75" height="9.89" fill="#3694d6"/><rect x="228.94" y="412.10" width="28.44" height="9.89" fill="#55ade2"/><rect x="256.98" y="412.10" width="19.09" height="9.89" fill="#68a8d0"/><rect x="275.67" y="412.10" width="9.75" height="9.89" fill="#78a0c0"/><rect x="285.02" y="412.10" width="9.75" height="9.89" fill="#88a0b0"/><rect x="294.37" y="412.10" width="9.75" height="9.89" fill="#78a0c0"/><rect x="303.71" y="412.10" width="103.22" height="9.89" fill="#88a0b0"/><rect x="406.53" y="412.10" width="37.79" height="9.89" fill="#68a8d0"/><rect x="443.92" y="412.10" width="9.75" height="9.89" fill="#55ade2"/><rect x="453.27" y="412.10" width="9.75" height="9.89" fill="#3694d6"/><rect x="462.61" y="412.10" width="19.09" height="9.89" fill="#55ade2"/><rect x="481.31" y="412.10" width="19.09" height="9.89" fill="#68a8d0"/><rect x="42.00" y="421.59" width="37.79" height="9.89" fill="#108a8a"/><rect x="79.39" y="421.59" width="9.75" height="9.89" fill="#107c9c"/><rect x="88.73" y="421.59" width="9.75" height="9.89" fill="#1a76bc"/><rect x="98.08" y="421.59" width="19.09" height="9.89" fill="#107c9c"/><rect x="116.78" y="421.59" width="28.44" height="9.89" fill="#108a8a"/><rect x="144.82" y="421.59" width="9.75" height="9.89" fill="#107c9c"/><rect x="154.16" y="421.59" width="9.75" height="9.89" fill="#2282c8"/><rect x="163.51" y="421.59" width="47.13" height="9.89" fill="#3694d6"/><rect x="210.24" y="421.59" width="9.75" height="9.89" fill="#2282c8"/><rect x="219.59" y="421.59" width="9.75" height="9.89" fill="#3694d6"/><rect x="228.94" y="421.59" width="19.09" height="9.89" fill="#55ade2"/><rect x="247.63" y="421.59" width="19.09" height="9.89" fill="#68a8d0"/><rect x="266.33" y="421.59" width="9.75" height="9.89" fill="#55ade2"/><rect x="275.67" y="421.59" width="9.75" height="9.89" fill="#78a0c0"/><rect x="285.02" y="421.59" width="56.48" height="9.89" fill="#88a0b0"/><rect x="341.10" y="421.59" width="9.75" height="9.89" fill="#8c98a0"/><rect x="350.45" y="421.59" width="37.79" height="9.89" fill="#88a0b0"/><rect x="387.84" y="421.59" width="9.75" height="9.89" fill="#78a0c0"/><rect x="397.18" y="421.59" width="9.75" height="9.89" fill="#68a8d0"/><rect x="406.53" y="421.59" width="9.75" height="9.89" fill="#88a0b0"/><rect x="415.88" y="421.59" width="19.09" height="9.89" fill="#78a0c0"/><rect x="434.57" y="421.59" width="9.75" height="9.89" fill="#68a8d0"/><rect x="443.92" y="421.59" width="19.09" height="9.89" fill="#55ade2"/><rect x="462.61" y="421.59" width="19.09" height="9.89" fill="#68a8d0"/><rect x="481.31" y="421.59" width="9.75" height="9.89" fill="#8c98a0"/><rect x="490.65" y="421.59" width="9.75" height="9.89" fill="#9c9c9c"/><rect x="42.00" y="431.08" width="37.79" height="9.89" fill="#108a8a"/><rect x="79.39" y="431.08" width="9.75" height="9.89" fill="#107c9c"/><rect x="88.73" y="431.08" width="9.75" height="9.89" fill="#1a76bc"/><rect x="98.08" y="431.08" width="9.75" height="9.89" fill="#107c9c"/><rect x="107.43" y="431.08" width="19.09" height="9.89" fill="#108a8a"/><rect x="126.12" y="431.08" width="28.44" height="9.89" fill="#107c9c"/><rect x="154.16" y="431.08" width="9.75" height="9.89" fill="#1a76bc"/><rect x="163.51" y="431.08" width="19.09" height="9.89" fill="#3694d6"/><rect x="182.20" y="431.08" width="9.75" height="9.89" fill="#55ade2"/><rect x="191.55" y="431.08" width="19.09" height="9.89" fill="#3694d6"/><rect x="210.24" y="431.08" width="9.75" height="9.89" fill="#2282c8"/><rect x="219.59" y="431.08" width="9.75" height="9.89" fill="#3694d6"/><rect x="228.94" y="431.08" width="19.09" height="9.89" fill="#55ade2"/><rect x="247.63" y="431.08" width="9.75" height="9.89" fill="#68a8d0"/><rect x="256.98" y="431.08" width="9.75" height="9.89" fill="#55ade2"/><rect x="266.33" y="431.08" width="9.75" height="9.89" fill="#68a8d0"/><rect x="275.67" y="431.08" width="9.75" height="9.89" fill="#55ade2"/><rect x="285.02" y="431.08" width="9.75" height="9.89" fill="#78a0c0"/><rect x="294.37" y="431.08" width="47.13" height="9.89" fill="#88a0b0"/><rect x="341.10" y="431.08" width="9.75" height="9.89" fill="#8c98a0"/><rect x="350.45" y="431.08" width="9.75" height="9.89" fill="#88a0b0"/><rect x="359.80" y="431.08" width="28.44" height="9.89" fill="#78a0c0"/><rect x="387.84" y="431.08" width="9.75" height="9.89" fill="#8c98a0"/><rect x="397.18" y="431.08" width="19.09" height="9.89" fill="#68a8d0"/><rect x="415.88" y="431.08" width="9.75" height="9.89" fill="#78a0c0"/><rect x="425.22" y="431.08" width="37.79" height="9.89" fill="#68a8d0"/><rect x="462.61" y="431.08" width="9.75" height="9.89" fill="#78a0c0"/><rect x="471.96" y="431.08" width="9.75" height="9.89" fill="#8c98a0"/><rect x="481.31" y="431.08" width="9.75" height="9.89" fill="#a8a8a8"/><rect x="490.65" y="431.08" width="9.75" height="9.89" fill="#9c9c9c"/><rect x="42.00" y="440.57" width="28.44" height="9.89" fill="#12a074"/><rect x="70.04" y="440.57" width="9.75" height="9.89" fill="#108a8a"/><rect x="79.39" y="440.57" width="28.44" height="9.89" fill="#107c9c"/><rect x="107.43" y="440.57" width="19.09" height="9.89" fill="#108a8a"/><rect x="126.12" y="440.57" width="28.44" height="9.89" fill="#107c9c"/><rect x="154.16" y="440.57" width="9.75" height="9.89" fill="#2282c8"/><rect x="163.51" y="440.57" width="47.13" height="9.89" fill="#3694d6"/><rect x="210.24" y="440.57" width="9.75" height="9.89" fill="#1a76bc"/><rect x="219.59" y="440.57" width="9.75" height="9.89" fill="#3694d6"/><rect x="228.94" y="440.57" width="19.09" height="9.89" fill="#55ade2"/><rect x="247.63" y="440.57" width="28.44" height="9.89" fill="#68a8d0"/><rect x="275.67" y="440.57" width="9.75" height="9.89" fill="#55ade2"/><rect x="285.02" y="440.57" width="9.75" height="9.89" fill="#78a0c0"/><rect x="294.37" y="440.57" width="9.75" height="9.89" fill="#8c98a0"/><rect x="303.71" y="440.57" width="37.79" height="9.89" fill="#88a0b0"/><rect x="341.10" y="440.57" width="9.75" height="9.89" fill="#8c98a0"/><rect x="350.45" y="440.57" width="9.75" height="9.89" fill="#88a0b0"/><rect x="359.80" y="440.57" width="65.83" height="9.89" fill="#78a0c0"/><rect x="425.22" y="440.57" width="19.09" height="9.89" fill="#68a8d0"/><rect x="443.92" y="440.57" width="19.09" height="9.89" fill="#78a0c0"/><rect x="462.61" y="440.57" width="9.75" height="9.89" fill="#8c98a0"/><rect x="471.96" y="440.57" width="9.75" height="9.89" fill="#a8a8a8"/><rect x="481.31" y="440.57" width="19.09" height="9.89" fill="#9c9c9c"/><rect x="42.00" y="450.06" width="19.09" height="9.89" fill="#12a074"/><rect x="60.69" y="450.06" width="28.44" height="9.89" fill="#108a8a"/><rect x="88.73" y="450.06" width="28.44" height="9.89" fill="#107c9c"/><rect x="116.78" y="450.06" width="9.75" height="9.89" fill="#1a76bc"/><rect x="126.12" y="450.06" width="28.44" height="9.89" fill="#107c9c"/><rect x="154.16" y="450.06" width="9.75" height="9.89" fill="#1a76bc"/><rect x="163.51" y="450.06" width="37.79" height="9.89" fill="#2282c8"/><rect x="200.90" y="450.06" width="28.44" height="9.89" fill="#3694d6"/><rect x="228.94" y="450.06" width="19.09" height="9.89" fill="#55ade2"/><rect x="247.63" y="450.06" width="19.09" height="9.89" fill="#68a8d0"/><rect x="266.33" y="450.06" width="19.09" height="9.89" fill="#55ade2"/><rect x="285.02" y="450.06" width="9.75" height="9.89" fill="#78a0c0"/><rect x="294.37" y="450.06" width="9.75" height="9.89" fill="#8c98a0"/><rect x="303.71" y="450.06" width="47.13" height="9.89" fill="#88a0b0"/><rect x="350.45" y="450.06" width="28.44" height="9.89" fill="#78a0c0"/><rect x="378.49" y="450.06" width="19.09" height="9.89" fill="#68a8d0"/><rect x="397.18" y="450.06" width="19.09" height="9.89" fill="#78a0c0"/><rect x="415.88" y="450.06" width="19.09" height="9.89" fill="#68a8d0"/><rect x="434.57" y="450.06" width="9.75" height="9.89" fill="#78a0c0"/><rect x="443.92" y="450.06" width="9.75" height="9.89" fill="#8c98a0"/><rect x="453.27" y="450.06" width="47.13" height="9.89" fill="#9c9c9c"/><rect x="42.00" y="459.55" width="56.48" height="9.89" fill="#108a8a"/><rect x="98.08" y="459.55" width="9.75" height="9.89" fill="#107c9c"/><rect x="107.43" y="459.55" width="19.09" height="9.89" fill="#1a76bc"/><rect x="126.12" y="459.55" width="19.09" height="9.89" fill="#108a8a"/><rect x="144.82" y="459.55" width="9.75" height="9.89" fill="#12a074"/><rect x="154.16" y="459.55" width="9.75" height="9.89" fill="#52b262"/><rect x="163.51" y="459.55" width="9.75" height="9.89" fill="#108a8a"/><rect x="172.86" y="459.55" width="9.75" height="9.89" fill="#107c9c"/><rect x="182.20" y="459.55" width="19.09" height="9.89" fill="#1a76bc"/><rect x="200.90" y="459.55" width="37.79" height="9.89" fill="#3694d6"/><rect x="238.29" y="459.55" width="19.09" height="9.89" fill="#55ade2"/><rect x="256.98" y="459.55" width="19.09" height="9.89" fill="#68a8d0"/><rect x="275.67" y="459.55" width="9.75" height="9.89" fill="#55ade2"/><rect x="285.02" y="459.55" width="9.75" height="9.89" fill="#88a0b0"/><rect x="294.37" y="459.55" width="9.75" height="9.89" fill="#8c98a0"/><rect x="303.71" y="459.55" width="47.13" height="9.89" fill="#88a0b0"/><rect x="350.45" y="459.55" width="28.44" height="9.89" fill="#78a0c0"/><rect x="378.49" y="459.55" width="19.09" height="9.89" fill="#68a8d0"/><rect x="397.18" y="459.55" width="9.75" height="9.89" fill="#78a0c0"/><rect x="406.53" y="459.55" width="37.79" height="9.89" fill="#88a0b0"/><rect x="443.92" y="459.55" width="9.75" height="9.89" fill="#8c98a0"/><rect x="453.27" y="459.55" width="37.79" height="9.89" fill="#9c9c9c"/><rect x="490.65" y="459.55" width="9.75" height="9.89" fill="#8c98a0"/><rect x="42.00" y="469.04" width="37.79" height="9.89" fill="#108a8a"/><rect x="79.39" y="469.04" width="28.44" height="9.89" fill="#107c9c"/><rect x="107.43" y="469.04" width="9.75" height="9.89" fill="#1a76bc"/><rect x="116.78" y="469.04" width="9.75" height="9.89" fill="#107c9c"/><rect x="126.12" y="469.04" width="9.75" height="9.89" fill="#108a8a"/><rect x="135.47" y="469.04" width="9.75" height="9.89" fill="#12a074"/><rect x="144.82" y="469.04" width="9.75" height="9.89" fill="#34a86a"/><rect x="154.16" y="469.04" width="19.09" height="9.89" fill="#78c05c"/><rect x="172.86" y="469.04" width="19.09" height="9.89" fill="#108a8a"/><rect x="191.55" y="469.04" width="9.75" height="9.89" fill="#107c9c"/><rect x="200.90" y="469.04" width="9.75" height="9.89" fill="#2282c8"/><rect x="210.24" y="469.04" width="19.09" height="9.89" fill="#3694d6"/><rect x="228.94" y="469.04" width="28.44" height="9.89" fill="#55ade2"/><rect x="256.98" y="469.04" width="19.09" height="9.89" fill="#68a8d0"/><rect x="275.67" y="469.04" width="9.75" height="9.89" fill="#55ade2"/><rect x="285.02" y="469.04" width="9.75" height="9.89" fill="#88a0b0"/><rect x="294.37" y="469.04" width="19.09" height="9.89" fill="#8c98a0"/><rect x="313.06" y="469.04" width="37.79" height="9.89" fill="#88a0b0"/><rect x="350.45" y="469.04" width="28.44" height="9.89" fill="#78a0c0"/><rect x="378.49" y="469.04" width="9.75" height="9.89" fill="#68a8d0"/><rect x="387.84" y="469.04" width="9.75" height="9.89" fill="#78a0c0"/><rect x="397.18" y="469.04" width="28.44" height="9.89" fill="#88a0b0"/><rect x="425.22" y="469.04" width="65.83" height="9.89" fill="#8c98a0"/><rect x="490.65" y="469.04" width="9.75" height="9.89" fill="#88a0b0"/><rect x="42.00" y="478.53" width="37.79" height="9.89" fill="#108a8a"/><rect x="79.39" y="478.53" width="28.44" height="9.89" fill="#107c9c"/><rect x="107.43" y="478.53" width="19.09" height="9.89" fill="#108a8a"/><rect x="126.12" y="478.53" width="9.75" height="9.89" fill="#12a074"/><rect x="135.47" y="478.53" width="9.75" height="9.89" fill="#34a86a"/><rect x="144.82" y="478.53" width="28.44" height="9.89" fill="#98c856"/><rect x="172.86" y="478.53" width="19.09" height="9.89" fill="#78c05c"/><rect x="191.55" y="478.53" width="9.75" height="9.89" fill="#12a074"/><rect x="200.90" y="478.53" width="9.75" height="9.89" fill="#2282c8"/><rect x="210.24" y="478.53" width="19.09" height="9.89" fill="#3694d6"/><rect x="228.94" y="478.53" width="9.75" height="9.89" fill="#55ade2"/><rect x="238.29" y="478.53" width="37.79" height="9.89" fill="#68a8d0"/><rect x="275.67" y="478.53" width="9.75" height="9.89" fill="#55ade2"/><rect x="285.02" y="478.53" width="9.75" height="9.89" fill="#88a0b0"/><rect x="294.37" y="478.53" width="19.09" height="9.89" fill="#8c98a0"/><rect x="313.06" y="478.53" width="37.79" height="9.89" fill="#88a0b0"/><rect x="350.45" y="478.53" width="47.13" height="9.89" fill="#78a0c0"/><rect x="397.18" y="478.53" width="56.48" height="9.89" fill="#88a0b0"/><rect x="453.27" y="478.53" width="19.09" height="9.89" fill="#8c98a0"/><rect x="471.96" y="478.53" width="28.44" height="9.89" fill="#88a0b0"/><rect x="42.00" y="488.02" width="9.75" height="9.89" fill="#12a074"/><rect x="51.35" y="488.02" width="9.75" height="9.89" fill="#108a8a"/><rect x="60.69" y="488.02" width="37.79" height="9.89" fill="#107c9c"/><rect x="98.08" y="488.02" width="9.75" height="9.89" fill="#108a8a"/><rect x="107.43" y="488.02" width="19.09" height="9.89" fill="#12a074"/><rect x="126.12" y="488.02" width="9.75" height="9.89" fill="#34a86a"/><rect x="135.47" y="488.02" width="9.75" height="9.89" fill="#52b262"/><rect x="144.82" y="488.02" width="19.09" height="9.89" fill="#c8d84c"/><rect x="163.51" y="488.02" width="9.75" height="9.89" fill="#f0e040"/><rect x="172.86" y="488.02" width="19.09" height="9.89" fill="#f0c830"/><rect x="191.55" y="488.02" width="9.75" height="9.89" fill="#c8d84c"/><rect x="200.90" y="488.02" width="9.75" height="9.89" fill="#1a76bc"/><rect x="210.24" y="488.02" width="19.09" height="9.89" fill="#3694d6"/><rect x="228.94" y="488.02" width="9.75" height="9.89" fill="#55ade2"/><rect x="238.29" y="488.02" width="9.75" height="9.89" fill="#68a8d0"/><rect x="247.63" y="488.02" width="9.75" height="9.89" fill="#88a0b0"/><rect x="256.98" y="488.02" width="9.75" height="9.89" fill="#68a8d0"/><rect x="266.33" y="488.02" width="9.75" height="9.89" fill="#88a0b0"/><rect x="275.67" y="488.02" width="9.75" height="9.89" fill="#55ade2"/><rect x="285.02" y="488.02" width="9.75" height="9.89" fill="#88a0b0"/><rect x="294.37" y="488.02" width="28.44" height="9.89" fill="#8c98a0"/><rect x="322.41" y="488.02" width="28.44" height="9.89" fill="#88a0b0"/><rect x="350.45" y="488.02" width="37.79" height="9.89" fill="#78a0c0"/><rect x="387.84" y="488.02" width="19.09" height="9.89" fill="#88a0b0"/><rect x="406.53" y="488.02" width="9.75" height="9.89" fill="#8c98a0"/><rect x="415.88" y="488.02" width="28.44" height="9.89" fill="#88a0b0"/><rect x="443.92" y="488.02" width="9.75" height="9.89" fill="#78a0c0"/><rect x="453.27" y="488.02" width="47.13" height="9.89" fill="#88a0b0"/><rect x="42.00" y="497.51" width="28.44" height="9.89" fill="#12a074"/><rect x="70.04" y="497.51" width="37.79" height="9.89" fill="#108a8a"/><rect x="107.43" y="497.51" width="9.75" height="9.89" fill="#98c856"/><rect x="116.78" y="497.51" width="9.75" height="9.89" fill="#34a86a"/><rect x="126.12" y="497.51" width="9.75" height="9.89" fill="#12a074"/><rect x="135.47" y="497.51" width="19.09" height="9.89" fill="#52b262"/><rect x="154.16" y="497.51" width="9.75" height="9.89" fill="#78c05c"/><rect x="163.51" y="497.51" width="9.75" height="9.89" fill="#98c856"/><rect x="172.86" y="497.51" width="9.75" height="9.89" fill="#f0c830"/><rect x="182.20" y="497.51" width="9.75" height="9.89" fill="#ecb420"/><rect x="191.55" y="497.51" width="9.75" height="9.89" fill="#f0e040"/><rect x="200.90" y="497.51" width="9.75" height="9.89" fill="#107c9c"/><rect x="210.24" y="497.51" width="19.09" height="9.89" fill="#3694d6"/><rect x="228.94" y="497.51" width="9.75" height="9.89" fill="#55ade2"/><rect x="238.29" y="497.51" width="9.75" height="9.89" fill="#68a8d0"/><rect x="247.63" y="497.51" width="9.75" height="9.89" fill="#88a0b0"/><rect x="256.98" y="497.51" width="28.44" height="9.89" fill="#55ade2"/><rect x="285.02" y="497.51" width="9.75" height="9.89" fill="#88a0b0"/><rect x="294.37" y="497.51" width="28.44" height="9.89" fill="#8c98a0"/><rect x="322.41" y="497.51" width="19.09" height="9.89" fill="#88a0b0"/><rect x="341.10" y="497.51" width="47.13" height="9.89" fill="#78a0c0"/><rect x="387.84" y="497.51" width="9.75" height="9.89" fill="#88a0b0"/><rect x="397.18" y="497.51" width="28.44" height="9.89" fill="#8c98a0"/><rect x="425.22" y="497.51" width="9.75" height="9.89" fill="#88a0b0"/><rect x="434.57" y="497.51" width="28.44" height="9.89" fill="#78a0c0"/><rect x="462.61" y="497.51" width="37.79" height="9.89" fill="#88a0b0"/></g>
<defs><clipPath id="cl"><rect x="28.5" y="28.5" width="485" height="492"/></clipPath><clipPath id="cr"><rect x="628.5" y="28.5" width="485" height="492"/></clipPath></defs><g fill="none" stroke="#000" stroke-width="0.8" stroke-linejoin="round" clip-path="url(#cl)"><path d="M28.0,34.1 L175.1,47.8"/><path d="M133.3,28.0 L132.0,44.0"/><path d="M175.1,47.8 L169.6,164.1"/><path d="M175.1,76.1 L193.0,77.5"/><path d="M28.0,153.1 L147.6,163.3 L169.6,164.1"/><path d="M146.3,177.9 L193.0,179.3"/><path d="M147.6,163.3 L144.9,193.0"/><path d="M193.0,77.5 L322.3,79.7"/><path d="M304.4,28.0 L305.8,33.5 L307.1,41.8 L309.9,50.0 L311.3,59.6 L315.4,69.3 L320.9,78.9 L327.8,84.4 L326.9,92.6 L330.5,98.1 L337.4,100.9 L338.2,110.5 L339.3,143.5 L340.1,180.6 L341.5,193.0"/><path d="M311.3,61.0 L358.0,61.6"/><path d="M169.6,165.2 L193.0,165.8 L223.3,166.9 L260.4,167.4 L300.8,167.2 L340.1,166.6"/><path d="M193.0,178.7 L215.0,180.6 L215.0,193.0"/><path d="M358.0,61.6 L393.8,57.7 L399.3,58.8 L407.5,65.1 L411.6,69.3"/><path d="M489.5,28.0 L492.8,63.8 L495.0,80.3 L496.9,99.5 L495.5,107.8 L494.1,118.8 L490.0,127.0 L487.3,135.3 L484.5,143.5 L479.0,151.8"/><path d="M340.1,184.2 L358.0,180.6 L443.3,176.5 L446.0,182.0 L440.5,190.3"/><path d="M462.5,160.0 L465.3,165.5 L463.9,171.0 L457.0,173.8 L455.6,182.0 L452.9,193.0"/><path d="M459.8,172.4 L490.0,171.0 L492.8,166.9 L513.4,165.0"/><path d="M144.9,193.0 L136.6,308.5"/><path d="M28.0,304.4 L51.4,305.8 L136.6,308.5"/><path d="M51.4,305.8 L56.9,314.0 L61.0,320.9 L72.0,330.5 L77.5,337.4 L85.8,344.3 L89.9,352.5 L92.6,358.0"/><path d="M215.0,193.0 L213.6,237.0"/><path d="M213.6,237.0 L220.5,239.8 L223.3,243.9 L228.8,242.5 L232.9,248.0 L241.1,249.4 L248.0,252.1 L256.3,250.8 L264.5,257.6 L275.5,259.0 L283.8,260.4 L292.0,259.0 L303.0,261.8 L314.0,259.0 L327.8,255.7 L336.0,260.4 L345.6,264.5 L352.5,265.9 L357.5,266.7"/><path d="M341.5,193.0 L344.3,217.8 L345.6,264.5"/><path d="M357.5,266.7 L357.5,281.0 L357.5,311.3"/><path d="M357.5,282.4 L358.0,282.4"/><path d="M454.3,193.0 L451.5,198.5 L446.0,206.8 L443.3,215.0 L440.5,220.5 L437.8,228.8 L435.0,237.0 L429.5,245.3 L425.4,253.5 L424.0,264.5 L426.8,275.5 L428.1,286.5 L430.9,297.5 L429.5,308.5 L424.0,319.5 L419.9,327.8 L418.5,338.8"/><path d="M448.8,219.1 L492.8,215.0 L513.4,213.1"/><path d="M492.8,215.0 L494.1,289.3 L498.3,338.8 L499.6,349.8"/><path d="M358.0,282.4 L425.4,280.5"/><path d="M418.5,338.8 L463.9,336.0 L465.3,347.0 L469.4,358.0"/><path d="M358.0,311.3 L363.5,316.8 L369.0,330.5 L370.4,341.5 L367.6,358.0"/><path d="M92.6,358.0 L91.3,363.5 L95.4,374.5 L102.3,382.8 L110.5,386.9 L118.8,392.4 L128.4,397.1 L133.9,391.0 L138.0,382.8 L142.1,375.9 L150.4,371.8 L157.3,374.5 L171.0,375.9 L176.5,381.4 L184.8,388.3 L190.3,395.1 L193.0,402.0"/><path d="M193.0,402.0 L201.3,415.8 L209.5,429.5 L219.1,446.0 L221.9,457.0 L226.0,468.0 L230.1,477.6 L239.8,481.8 L248.0,485.9 L256.3,488.6 L264.5,489.5 L271.4,490.6"/><path d="M424.0,31.0 L414.0,34.0 L413.0,40.0 L416.0,45.0 L415.0,51.0 L410.0,57.0 L407.0,61.0 L406.0,69.0 L408.0,79.0 L413.0,87.0 L421.0,95.0 L426.0,103.0 L428.0,111.0 L432.0,123.0 L439.0,129.0 L445.0,134.0 L453.0,141.0 L455.6,146.3 L459.8,154.5 L462.5,160.0 L466.6,157.3 L468.0,153.0 L473.5,152.3 L479.0,154.5"/><path d="M368.0,378.0 L359.0,381.0 L350.0,385.0 L342.0,391.0 L335.0,397.0 L328.0,403.0 L320.0,408.0 L310.0,414.0 L300.0,420.0 L292.0,425.0 L285.0,431.0 L280.0,438.0 L277.0,445.0 L275.5,452.0 L275.5,460.0 L276.0,467.0 L277.0,473.0 L279.0,481.0 L280.5,488.0 L281.5,493.0 L280.5,499.0 L278.0,506.0 L274.5,513.0 L271.0,520.0 L269.0,524.0"/><path d="M358.0,382.0 L352.0,384.0 L347.0,386.0 L343.0,389.0 L338.0,391.0 L341.0,393.0 L334.0,396.0 L330.0,398.0 L331.0,402.0 L326.0,402.0 L322.0,406.0 L318.0,407.0 L312.0,410.0 L313.0,413.0 L306.0,413.0 L302.0,418.0 L298.0,419.0 L296.0,422.0 L293.0,421.0 L295.0,425.0 L289.0,426.0 L287.0,430.0 L282.0,433.0 L284.0,435.0 L280.0,437.0 L278.0,442.0 L276.0,446.0 L275.0,452.0 L273.0,458.0 L272.0,463.0 L271.0,467.0 L274.0,475.0 L275.0,482.0 L277.0,486.0 L279.0,489.0 L280.5,491.0"/><path d="M250.0,487.0 L254.0,489.0 L262.0,489.0 L268.0,490.0 L275.0,495.0 L278.0,493.0 L280.0,491.0"/><path d="M266.0,524.0 L266.5,513.0 L269.0,511.0 L271.0,508.0 L274.0,509.0 L272.0,512.0 L277.0,508.0"/><path d="M367.3,378.3 L373.3,377.7 L382.0,377.5 L388.0,379.3 L393.3,381.7 L400.0,383.0 L405.3,383.0 L408.7,380.7 L406.7,377.3 L410.7,375.0 L415.3,374.0 L415.3,376.3 L420.0,376.3 L422.0,379.3 L425.0,381.7 L428.3,383.3 L430.0,386.7 L431.7,389.2 L436.7,390.8 L443.3,392.5 L447.5,389.2 L451.7,385.8 L455.8,389.2 L457.5,392.5 L460.8,390.0 L461.7,383.3 L458.3,380.0 L457.5,379.2 L465.0,380.8 L468.3,384.2 L473.3,386.7 L478.3,388.3 L483.3,391.7 L485.8,393.3 L487.5,387.5 L485.0,385.0 L479.2,381.7 L474.2,379.2 L470.0,375.8 L473.3,374.2 L476.7,370.8 L475.8,365.8 L480.0,361.7 L481.7,360.0"/><path d="M408.7,380.7 L417.0,382.0 L418.0,384.0 L412.0,382.0"/><path d="M483.3,391.7 L480.0,395.0 L478.5,396.0"/><path d="M481.7,360.0 L489.8,355.0 L500.0,353.0 L512.6,352.0 L520.0,351.0"/><path d="M490.8,361.7 L491.7,367.5 L490.8,370.0"/></g><g fill="none" stroke="#000" stroke-width="0.8" stroke-linejoin="round" clip-path="url(#cr)"><path d="M628.0,34.1 L775.1,47.8"/><path d="M733.3,28.0 L732.0,44.0"/><path d="M775.1,47.8 L769.6,164.1"/><path d="M775.1,76.1 L793.0,77.5"/><path d="M628.0,153.1 L747.6,163.3 L769.6,164.1"/><path d="M746.3,177.9 L793.0,179.3"/><path d="M747.6,163.3 L744.9,193.0"/><path d="M793.0,77.5 L922.3,79.7"/><path d="M904.4,28.0 L905.8,33.5 L907.1,41.8 L909.9,50.0 L911.3,59.6 L915.4,69.3 L920.9,78.9 L927.8,84.4 L926.9,92.6 L930.5,98.1 L937.4,100.9 L938.2,110.5 L939.3,143.5 L940.1,180.6 L941.5,193.0"/><path d="M911.3,61.0 L958.0,61.6"/><path d="M769.6,165.2 L793.0,165.8 L823.3,166.9 L860.4,167.4 L900.8,167.2 L940.1,166.6"/><path d="M793.0,178.7 L815.0,180.6 L815.0,193.0"/><path d="M958.0,61.6 L993.8,57.7 L999.3,58.8 L1007.5,65.1 L1011.6,69.3"/><path d="M1089.5,28.0 L1092.8,63.8 L1095.0,80.3 L1096.9,99.5 L1095.5,107.8 L1094.1,118.8 L1090.0,127.0 L1087.3,135.3 L1084.5,143.5 L1079.0,151.8"/><path d="M940.1,184.2 L958.0,180.6 L1043.3,176.5 L1046.0,182.0 L1040.5,190.3"/><path d="M1062.5,160.0 L1065.3,165.5 L1063.9,171.0 L1057.0,173.8 L1055.6,182.0 L1052.9,193.0"/><path d="M1059.8,172.4 L1090.0,171.0 L1092.8,166.9 L1113.4,165.0"/><path d="M744.9,193.0 L736.6,308.5"/><path d="M628.0,304.4 L651.4,305.8 L736.6,308.5"/><path d="M651.4,305.8 L656.9,314.0 L661.0,320.9 L672.0,330.5 L677.5,337.4 L685.8,344.3 L689.9,352.5 L692.6,358.0"/><path d="M815.0,193.0 L813.6,237.0"/><path d="M813.6,237.0 L820.5,239.8 L823.3,243.9 L828.8,242.5 L832.9,248.0 L841.1,249.4 L848.0,252.1 L856.3,250.8 L864.5,257.6 L875.5,259.0 L883.8,260.4 L892.0,259.0 L903.0,261.8 L914.0,259.0 L927.8,255.7 L936.0,260.4 L945.6,264.5 L952.5,265.9 L957.5,266.7"/><path d="M941.5,193.0 L944.3,217.8 L945.6,264.5"/><path d="M957.5,266.7 L957.5,281.0 L957.5,311.3"/><path d="M957.5,282.4 L958.0,282.4"/><path d="M1054.3,193.0 L1051.5,198.5 L1046.0,206.8 L1043.3,215.0 L1040.5,220.5 L1037.8,228.8 L1035.0,237.0 L1029.5,245.3 L1025.4,253.5 L1024.0,264.5 L1026.8,275.5 L1028.1,286.5 L1030.9,297.5 L1029.5,308.5 L1024.0,319.5 L1019.9,327.8 L1018.5,338.8"/><path d="M1048.8,219.1 L1092.8,215.0 L1113.4,213.1"/><path d="M1092.8,215.0 L1094.1,289.3 L1098.3,338.8 L1099.6,349.8"/><path d="M958.0,282.4 L1025.4,280.5"/><path d="M1018.5,338.8 L1063.9,336.0 L1065.3,347.0 L1069.4,358.0"/><path d="M958.0,311.3 L963.5,316.8 L969.0,330.5 L970.4,341.5 L967.6,358.0"/><path d="M692.6,358.0 L691.3,363.5 L695.4,374.5 L702.3,382.8 L710.5,386.9 L718.8,392.4 L728.4,397.1 L733.9,391.0 L738.0,382.8 L742.1,375.9 L750.4,371.8 L757.3,374.5 L771.0,375.9 L776.5,381.4 L784.8,388.3 L790.3,395.1 L793.0,402.0"/><path d="M793.0,402.0 L801.3,415.8 L809.5,429.5 L819.1,446.0 L821.9,457.0 L826.0,468.0 L830.1,477.6 L839.8,481.8 L848.0,485.9 L856.3,488.6 L864.5,489.5 L871.4,490.6"/><path d="M1024.0,31.0 L1014.0,34.0 L1013.0,40.0 L1016.0,45.0 L1015.0,51.0 L1010.0,57.0 L1007.0,61.0 L1006.0,69.0 L1008.0,79.0 L1013.0,87.0 L1021.0,95.0 L1026.0,103.0 L1028.0,111.0 L1032.0,123.0 L1039.0,129.0 L1045.0,134.0 L1053.0,141.0 L1055.6,146.3 L1059.8,154.5 L1062.5,160.0 L1066.6,157.3 L1068.0,153.0 L1073.5,152.3 L1079.0,154.5"/><path d="M968.0,378.0 L959.0,381.0 L950.0,385.0 L942.0,391.0 L935.0,397.0 L928.0,403.0 L920.0,408.0 L910.0,414.0 L900.0,420.0 L892.0,425.0 L885.0,431.0 L880.0,438.0 L877.0,445.0 L875.5,452.0 L875.5,460.0 L876.0,467.0 L877.0,473.0 L879.0,481.0 L880.5,488.0 L881.5,493.0 L880.5,499.0 L878.0,506.0 L874.5,513.0 L871.0,520.0 L869.0,524.0"/><path d="M958.0,382.0 L952.0,384.0 L947.0,386.0 L943.0,389.0 L938.0,391.0 L941.0,393.0 L934.0,396.0 L930.0,398.0 L931.0,402.0 L926.0,402.0 L922.0,406.0 L918.0,407.0 L912.0,410.0 L913.0,413.0 L906.0,413.0 L902.0,418.0 L898.0,419.0 L896.0,422.0 L893.0,421.0 L895.0,425.0 L889.0,426.0 L887.0,430.0 L882.0,433.0 L884.0,435.0 L880.0,437.0 L878.0,442.0 L876.0,446.0 L875.0,452.0 L873.0,458.0 L872.0,463.0 L871.0,467.0 L874.0,475.0 L875.0,482.0 L877.0,486.0 L879.0,489.0 L880.5,491.0"/><path d="M850.0,487.0 L854.0,489.0 L862.0,489.0 L868.0,490.0 L875.0,495.0 L878.0,493.0 L880.0,491.0"/><path d="M866.0,524.0 L866.5,513.0 L869.0,511.0 L871.0,508.0 L874.0,509.0 L872.0,512.0 L877.0,508.0"/><path d="M967.3,378.3 L973.3,377.7 L982.0,377.5 L988.0,379.3 L993.3,381.7 L1000.0,383.0 L1005.3,383.0 L1008.7,380.7 L1006.7,377.3 L1010.7,375.0 L1015.3,374.0 L1015.3,376.3 L1020.0,376.3 L1022.0,379.3 L1025.0,381.7 L1028.3,383.3 L1030.0,386.7 L1031.7,389.2 L1036.7,390.8 L1043.3,392.5 L1047.5,389.2 L1051.7,385.8 L1055.8,389.2 L1057.5,392.5 L1060.8,390.0 L1061.7,383.3 L1058.3,380.0 L1057.5,379.2 L1065.0,380.8 L1068.3,384.2 L1073.3,386.7 L1078.3,388.3 L1083.3,391.7 L1085.8,393.3 L1087.5,387.5 L1085.0,385.0 L1079.2,381.7 L1074.2,379.2 L1070.0,375.8 L1073.3,374.2 L1076.7,370.8 L1075.8,365.8 L1080.0,361.7 L1081.7,360.0"/><path d="M1008.7,380.7 L1017.0,382.0 L1018.0,384.0 L1012.0,382.0"/><path d="M1083.3,391.7 L1080.0,395.0 L1078.5,396.0"/><path d="M1081.7,360.0 L1089.8,355.0 L1100.0,353.0 L1112.6,352.0 L1120.0,351.0"/><path d="M1090.8,361.7 L1091.7,367.5 L1090.8,370.0"/></g>
<g clip-path="url(#cr)"><g fill="#111"><circle cx="686.2" cy="30.2" r="4.6"/><circle cx="716.5" cy="37.7" r="4.6"/><circle cx="695.2" cy="46.4" r="4.6"/><circle cx="680.5" cy="53.2" r="4.6"/><circle cx="708.7" cy="55.3" r="4.6"/><circle cx="716.5" cy="61.3" r="4.6"/><circle cx="658.7" cy="64.3" r="4.6"/><circle cx="697.7" cy="62.8" r="4.6"/><circle cx="679.4" cy="67.7" r="4.6"/><circle cx="638.2" cy="68.2" r="4.6"/><circle cx="715.0" cy="67.7" r="4.6"/><circle cx="704.5" cy="69.7" r="4.6"/><circle cx="646.7" cy="79.0" r="4.6"/><circle cx="640.7" cy="81.2" r="4.6"/><circle cx="655.0" cy="82.7" r="4.6"/><circle cx="658.7" cy="84.2" r="4.6"/><circle cx="691.7" cy="76.3" r="4.6"/><circle cx="697.7" cy="77.2" r="4.6"/><circle cx="704.5" cy="74.5" r="4.6"/><circle cx="709.7" cy="76.7" r="4.6"/><circle cx="704.5" cy="79.7" r="4.6"/><circle cx="694.7" cy="82.0" r="4.6"/><circle cx="700.7" cy="82.7" r="4.6"/><circle cx="706.7" cy="85.0" r="4.6"/><circle cx="709.7" cy="81.2" r="4.6"/><circle cx="716.5" cy="83.2" r="4.6"/><circle cx="691.0" cy="87.7" r="4.6"/><circle cx="634.0" cy="88.7" r="4.6"/><circle cx="634.7" cy="95.5" r="4.6"/><circle cx="657.2" cy="93.2" r="4.6"/><circle cx="662.5" cy="97.7" r="4.6"/><circle cx="684.2" cy="101.5" r="4.6"/><circle cx="711.2" cy="102.2" r="4.6"/><circle cx="708.2" cy="105.2" r="4.6"/><circle cx="631.0" cy="116.5" r="4.6"/><circle cx="722.3" cy="41.5" r="4.6"/><circle cx="732.2" cy="50.2" r="4.6"/><circle cx="725.3" cy="54.7" r="4.6"/><circle cx="711.6" cy="122.0" r="4.6"/><circle cx="646.0" cy="144.4" r="4.6"/><circle cx="636.4" cy="149.4" r="4.6"/><circle cx="642.4" cy="149.4" r="4.6"/><circle cx="632.4" cy="159.4" r="4.6"/><circle cx="640.4" cy="158.6" r="4.6"/><circle cx="632.0" cy="180.0" r="4.6"/><circle cx="660.4" cy="179.0" r="4.6"/><circle cx="673.0" cy="197.0" r="4.6"/><circle cx="661.0" cy="205.0" r="4.6"/><circle cx="662.0" cy="208.6" r="4.6"/><circle cx="658.0" cy="212.0" r="4.6"/><circle cx="655.0" cy="219.0" r="4.6"/><circle cx="823.6" cy="115.4" r="4.6"/><circle cx="840.4" cy="191.6" r="4.6"/><circle cx="867.0" cy="212.0" r="4.6"/><circle cx="775.0" cy="226.4" r="4.6"/><circle cx="908.0" cy="28.6" r="4.6"/><circle cx="906.6" cy="44.0" r="4.6"/><circle cx="907.4" cy="41.6" r="4.6"/><circle cx="892.0" cy="51.4" r="4.6"/><circle cx="913.6" cy="108.4" r="4.6"/><circle cx="874.0" cy="141.0" r="4.6"/><circle cx="935.0" cy="114.0" r="4.6"/><circle cx="939.0" cy="115.4" r="4.6"/><circle cx="877.6" cy="147.0" r="4.6"/><circle cx="876.4" cy="154.0" r="4.6"/><circle cx="919.6" cy="147.4" r="4.6"/><circle cx="952.0" cy="146.0" r="4.6"/><circle cx="944.0" cy="159.6" r="4.6"/><circle cx="969.6" cy="158.6" r="4.6"/><circle cx="971.6" cy="156.0" r="4.6"/><circle cx="916.0" cy="169.6" r="4.6"/><circle cx="934.6" cy="169.4" r="4.6"/><circle cx="908.0" cy="185.6" r="4.6"/><circle cx="900.0" cy="193.4" r="4.6"/><circle cx="909.0" cy="191.0" r="4.6"/><circle cx="914.0" cy="192.6" r="4.6"/><circle cx="908.4" cy="198.0" r="4.6"/><circle cx="925.6" cy="189.6" r="4.6"/><circle cx="951.6" cy="189.6" r="4.6"/><circle cx="951.0" cy="195.0" r="4.6"/><circle cx="973.4" cy="199.6" r="4.6"/><circle cx="939.4" cy="203.4" r="4.6"/><circle cx="943.0" cy="213.0" r="4.6"/><circle cx="874.0" cy="207.4" r="4.6"/><circle cx="869.0" cy="212.0" r="4.6"/><circle cx="873.6" cy="216.6" r="4.6"/><circle cx="873.0" cy="226.4" r="4.6"/><circle cx="914.0" cy="228.6" r="4.6"/><circle cx="957.4" cy="32.0" r="4.6"/><circle cx="1024.0" cy="31.0" r="4.6"/><circle cx="927.4" cy="51.4" r="4.6"/><circle cx="993.6" cy="56.6" r="4.6"/><circle cx="1009.6" cy="78.4" r="4.6"/><circle cx="932.4" cy="81.0" r="4.6"/><circle cx="939.0" cy="93.0" r="4.6"/><circle cx="946.0" cy="96.0" r="4.6"/><circle cx="930.4" cy="99.0" r="4.6"/><circle cx="939.0" cy="99.0" r="4.6"/><circle cx="944.0" cy="99.6" r="4.6"/><circle cx="1000.4" cy="92.0" r="4.6"/><circle cx="989.4" cy="104.0" r="4.6"/><circle cx="995.0" cy="114.6" r="4.6"/><circle cx="1022.0" cy="103.0" r="4.6"/><circle cx="1033.0" cy="101.0" r="4.6"/><circle cx="1031.0" cy="106.0" r="4.6"/><circle cx="1031.0" cy="112.0" r="4.6"/><circle cx="1026.0" cy="119.0" r="4.6"/><circle cx="1033.6" cy="120.0" r="4.6"/><circle cx="1033.6" cy="135.6" r="4.6"/><circle cx="1075.0" cy="35.0" r="4.6"/><circle cx="1111.0" cy="51.0" r="4.6"/><circle cx="1046.0" cy="51.0" r="4.6"/><circle cx="1046.4" cy="53.6" r="4.6"/><circle cx="1059.4" cy="57.0" r="4.6"/><circle cx="1078.0" cy="63.0" r="4.6"/><circle cx="1074.4" cy="69.4" r="4.6"/><circle cx="1047.4" cy="78.0" r="4.6"/><circle cx="1063.0" cy="76.0" r="4.6"/><circle cx="1044.4" cy="91.6" r="4.6"/><circle cx="1073.6" cy="98.0" r="4.6"/><circle cx="1098.4" cy="82.0" r="4.6"/><circle cx="1092.4" cy="92.0" r="4.6"/><circle cx="1108.0" cy="97.4" r="4.6"/><circle cx="1097.6" cy="105.6" r="4.6"/><circle cx="1038.0" cy="106.0" r="4.6"/><circle cx="1043.0" cy="110.4" r="4.6"/><circle cx="1048.0" cy="126.4" r="4.6"/><circle cx="1074.0" cy="127.0" r="4.6"/><circle cx="1051.0" cy="140.0" r="4.6"/><circle cx="1094.0" cy="127.0" r="4.6"/><circle cx="1099.0" cy="123.6" r="4.6"/><circle cx="1104.0" cy="127.0" r="4.6"/><circle cx="1109.0" cy="126.0" r="4.6"/><circle cx="1112.0" cy="127.0" r="4.6"/><circle cx="1076.8" cy="156.0" r="4.6"/><circle cx="1082.3" cy="152.8" r="4.6"/><circle cx="1112.6" cy="185.3" r="4.6"/><circle cx="996.7" cy="228.6" r="4.6"/><circle cx="1044.8" cy="214.1" r="4.6"/><circle cx="1048.7" cy="213.4" r="4.6"/><circle cx="1053.4" cy="214.5" r="4.6"/><circle cx="1050.8" cy="224.9" r="4.6"/><circle cx="1081.2" cy="238.3" r="4.6"/><circle cx="1035.2" cy="257.2" r="4.6"/><circle cx="1112.6" cy="268.7" r="4.6"/><circle cx="874.0" cy="248.0" r="4.6"/><circle cx="893.0" cy="248.6" r="4.6"/><circle cx="886.4" cy="272.0" r="4.6"/><circle cx="880.4" cy="278.0" r="4.6"/><circle cx="890.4" cy="280.4" r="4.6"/><circle cx="906.4" cy="279.6" r="4.6"/><circle cx="873.0" cy="284.4" r="4.6"/><circle cx="878.0" cy="287.0" r="4.6"/><circle cx="890.0" cy="286.4" r="4.6"/><circle cx="898.0" cy="286.0" r="4.6"/><circle cx="876.0" cy="290.4" r="4.6"/><circle cx="882.4" cy="294.4" r="4.6"/><circle cx="888.4" cy="293.6" r="4.6"/><circle cx="901.6" cy="297.0" r="4.6"/><circle cx="874.0" cy="303.6" r="4.6"/><circle cx="888.0" cy="308.4" r="4.6"/><circle cx="899.6" cy="312.6" r="4.6"/><circle cx="923.6" cy="303.0" r="4.6"/><circle cx="941.0" cy="302.0" r="4.6"/><circle cx="953.6" cy="293.0" r="4.6"/><circle cx="961.0" cy="292.0" r="4.6"/><circle cx="964.4" cy="297.0" r="4.6"/><circle cx="883.6" cy="324.0" r="4.6"/><circle cx="874.4" cy="339.4" r="4.6"/><circle cx="869.0" cy="340.0" r="4.6"/><circle cx="851.0" cy="236.4" r="4.6"/><circle cx="860.4" cy="248.4" r="4.6"/><circle cx="863.0" cy="288.0" r="4.6"/><circle cx="865.0" cy="300.4" r="4.6"/><circle cx="647.0" cy="291.6" r="4.6"/><circle cx="655.0" cy="299.6" r="4.6"/><circle cx="649.0" cy="303.0" r="4.6"/><circle cx="653.0" cy="305.0" r="4.6"/><circle cx="650.0" cy="308.0" r="4.6"/><circle cx="657.0" cy="311.0" r="4.6"/><circle cx="708.0" cy="295.4" r="4.6"/><circle cx="703.0" cy="301.0" r="4.6"/><circle cx="736.4" cy="287.0" r="4.6"/><circle cx="863.0" cy="358.0" r="4.6"/><circle cx="865.6" cy="362.6" r="4.6"/><circle cx="845.0" cy="383.0" r="4.6"/><circle cx="844.0" cy="386.6" r="4.6"/><circle cx="851.6" cy="393.4" r="4.6"/><circle cx="819.6" cy="445.4" r="4.6"/><circle cx="943.0" cy="351.0" r="4.6"/><circle cx="924.4" cy="362.0" r="4.6"/><circle cx="918.0" cy="371.0" r="4.6"/><circle cx="922.0" cy="376.0" r="4.6"/><circle cx="928.0" cy="375.0" r="4.6"/><circle cx="936.0" cy="376.6" r="4.6"/><circle cx="941.0" cy="381.0" r="4.6"/><circle cx="919.0" cy="380.0" r="4.6"/><circle cx="925.0" cy="378.0" r="4.6"/><circle cx="930.0" cy="379.0" r="4.6"/><circle cx="934.0" cy="382.0" r="4.6"/><circle cx="923.0" cy="384.0" r="4.6"/><circle cx="930.0" cy="384.0" r="4.6"/><circle cx="936.0" cy="385.0" r="4.6"/><circle cx="924.0" cy="400.4" r="4.6"/><circle cx="885.0" cy="406.6" r="4.6"/><circle cx="872.0" cy="437.0" r="4.6"/><circle cx="874.0" cy="439.0" r="4.6"/><circle cx="959.0" cy="370.0" r="4.6"/><circle cx="966.0" cy="368.6" r="4.6"/><circle cx="971.0" cy="364.0" r="4.6"/><circle cx="977.0" cy="366.6" r="4.6"/><circle cx="960.0" cy="375.0" r="4.6"/><circle cx="963.6" cy="379.4" r="4.6"/><circle cx="1005.8" cy="295.3" r="4.6"/><circle cx="1050.8" cy="297.3" r="4.6"/><circle cx="1086.6" cy="293.6" r="4.6"/><circle cx="1098.1" cy="292.5" r="4.6"/><circle cx="1106.7" cy="338.4" r="4.6"/><circle cx="1106.1" cy="347.8" r="4.6"/><circle cx="1111.5" cy="346.7" r="4.6"/><circle cx="1025.9" cy="347.8" r="4.6"/><circle cx="1033.5" cy="346.7" r="4.6"/><circle cx="1030.3" cy="354.3" r="4.6"/><circle cx="1009.7" cy="361.8" r="4.6"/><circle cx="1014.0" cy="366.2" r="4.6"/><circle cx="1028.1" cy="361.4" r="4.6"/><circle cx="1033.5" cy="361.4" r="4.6"/><circle cx="1040.0" cy="357.5" r="4.6"/><circle cx="1037.4" cy="360.8" r="4.6"/><circle cx="1041.1" cy="367.3" r="4.6"/><circle cx="1045.4" cy="365.1" r="4.6"/><circle cx="1042.2" cy="373.8" r="4.6"/><circle cx="1055.2" cy="353.6" r="4.6"/><circle cx="1054.1" cy="365.1" r="4.6"/><circle cx="1062.8" cy="367.3" r="4.6"/><circle cx="1075.8" cy="355.3" r="4.6"/><circle cx="1083.8" cy="352.1" r="4.6"/><circle cx="1096.8" cy="351.0" r="4.6"/><circle cx="866.3" cy="485.5" r="4.6"/><circle cx="728.1" cy="387.9" r="4.6"/></g><circle cx="686.2" cy="30.2" r="3.7" fill="#e0e0e0"/><circle cx="716.5" cy="37.7" r="3.7" fill="#cce4cc"/><circle cx="695.2" cy="46.4" r="3.7" fill="#a8d4a8"/><circle cx="680.5" cy="53.2" r="3.7" fill="#e0e0e0"/><circle cx="708.7" cy="55.3" r="3.7" fill="#f0c830"/><circle cx="716.5" cy="61.3" r="3.7" fill="#e8e0b0"/><circle cx="658.7" cy="64.3" r="3.7" fill="#e0e0e0"/><circle cx="697.7" cy="62.8" r="3.7" fill="#ece080"/><circle cx="679.4" cy="67.7" r="3.7" fill="#f0e040"/><circle cx="638.2" cy="68.2" r="3.7" fill="#cce4cc"/><circle cx="715.0" cy="67.7" r="3.7" fill="#e0e0e0"/><circle cx="704.5" cy="69.7" r="3.7" fill="#a8d4a8"/><circle cx="646.7" cy="79.0" r="3.7" fill="#f0c830"/><circle cx="640.7" cy="81.2" r="3.7" fill="#80c880"/><circle cx="655.0" cy="82.7" r="3.7" fill="#e8e0b0"/><circle cx="658.7" cy="84.2" r="3.7" fill="#e8e0b0"/><circle cx="691.7" cy="76.3" r="3.7" fill="#e0e0e0"/><circle cx="697.7" cy="77.2" r="3.7" fill="#cce4cc"/><circle cx="704.5" cy="74.5" r="3.7" fill="#20a070"/><circle cx="709.7" cy="76.7" r="3.7" fill="#a8d4a8"/><circle cx="704.5" cy="79.7" r="3.7" fill="#48b070"/><circle cx="694.7" cy="82.0" r="3.7" fill="#48b070"/><circle cx="700.7" cy="82.7" r="3.7" fill="#80c880"/><circle cx="706.7" cy="85.0" r="3.7" fill="#20a070"/><circle cx="709.7" cy="81.2" r="3.7" fill="#cce4cc"/><circle cx="716.5" cy="83.2" r="3.7" fill="#e0e0e0"/><circle cx="691.0" cy="87.7" r="3.7" fill="#80c880"/><circle cx="634.0" cy="88.7" r="3.7" fill="#cce4cc"/><circle cx="634.7" cy="95.5" r="3.7" fill="#80c880"/><circle cx="657.2" cy="93.2" r="3.7" fill="#cce4cc"/><circle cx="662.5" cy="97.7" r="3.7" fill="#48b070"/><circle cx="684.2" cy="101.5" r="3.7" fill="#10909a"/><circle cx="711.2" cy="102.2" r="3.7" fill="#48b070"/><circle cx="708.2" cy="105.2" r="3.7" fill="#48b070"/><circle cx="631.0" cy="116.5" r="3.7" fill="#20a070"/><circle cx="722.3" cy="41.5" r="3.7" fill="#80c880"/><circle cx="732.2" cy="50.2" r="3.7" fill="#a8d4a8"/><circle cx="725.3" cy="54.7" r="3.7" fill="#e8e0b0"/><circle cx="711.6" cy="122.0" r="3.7" fill="#48b070"/><circle cx="646.0" cy="144.4" r="3.7" fill="#a8d4a8"/><circle cx="636.4" cy="149.4" r="3.7" fill="#48b070"/><circle cx="642.4" cy="149.4" r="3.7" fill="#a8d4a8"/><circle cx="632.4" cy="159.4" r="3.7" fill="#cce4cc"/><circle cx="640.4" cy="158.6" r="3.7" fill="#80c880"/><circle cx="632.0" cy="180.0" r="3.7" fill="#a8d4a8"/><circle cx="660.4" cy="179.0" r="3.7" fill="#ece080"/><circle cx="673.0" cy="197.0" r="3.7" fill="#80c880"/><circle cx="661.0" cy="205.0" r="3.7" fill="#cce4cc"/><circle cx="662.0" cy="208.6" r="3.7" fill="#cce4cc"/><circle cx="658.0" cy="212.0" r="3.7" fill="#e0e0e0"/><circle cx="655.0" cy="219.0" r="3.7" fill="#e0e0e0"/><circle cx="823.6" cy="115.4" r="3.7" fill="#80c880"/><circle cx="840.4" cy="191.6" r="3.7" fill="#1070b0"/><circle cx="867.0" cy="212.0" r="3.7" fill="#0848f0"/><circle cx="775.0" cy="226.4" r="3.7" fill="#a8d4a8"/><circle cx="908.0" cy="28.6" r="3.7" fill="#ece080"/><circle cx="906.6" cy="44.0" r="3.7" fill="#d86a60"/><circle cx="907.4" cy="41.6" r="3.7" fill="#e06810"/><circle cx="892.0" cy="51.4" r="3.7" fill="#eca818"/><circle cx="913.6" cy="108.4" r="3.7" fill="#e0e0e0"/><circle cx="874.0" cy="141.0" r="3.7" fill="#d070a8"/><circle cx="935.0" cy="114.0" r="3.7" fill="#ece080"/><circle cx="939.0" cy="115.4" r="3.7" fill="#e0e0e0"/><circle cx="877.6" cy="147.0" r="3.7" fill="#d86a60"/><circle cx="876.4" cy="154.0" r="3.7" fill="#e06810"/><circle cx="919.6" cy="147.4" r="3.7" fill="#f0e040"/><circle cx="952.0" cy="146.0" r="3.7" fill="#e0e0e0"/><circle cx="944.0" cy="159.6" r="3.7" fill="#f0e040"/><circle cx="969.6" cy="158.6" r="3.7" fill="#eca818"/><circle cx="971.6" cy="156.0" r="3.7" fill="#f0e040"/><circle cx="916.0" cy="169.6" r="3.7" fill="#20a070"/><circle cx="934.6" cy="169.4" r="3.7" fill="#f0e040"/><circle cx="908.0" cy="185.6" r="3.7" fill="#f0e040"/><circle cx="900.0" cy="193.4" r="3.7" fill="#e8e0b0"/><circle cx="909.0" cy="191.0" r="3.7" fill="#e8e0b0"/><circle cx="914.0" cy="192.6" r="3.7" fill="#e8e0b0"/><circle cx="908.4" cy="198.0" r="3.7" fill="#f0c830"/><circle cx="925.6" cy="189.6" r="3.7" fill="#eca818"/><circle cx="951.6" cy="189.6" r="3.7" fill="#f0e040"/><circle cx="951.0" cy="195.0" r="3.7" fill="#e8e0b0"/><circle cx="973.4" cy="199.6" r="3.7" fill="#eca818"/><circle cx="939.4" cy="203.4" r="3.7" fill="#f0c830"/><circle cx="943.0" cy="213.0" r="3.7" fill="#eca818"/><circle cx="874.0" cy="207.4" r="3.7" fill="#7030f0"/><circle cx="869.0" cy="212.0" r="3.7" fill="#1070b0"/><circle cx="873.6" cy="216.6" r="3.7" fill="#0848f0"/><circle cx="873.0" cy="226.4" r="3.7" fill="#0848f0"/><circle cx="914.0" cy="228.6" r="3.7" fill="#20a070"/><circle cx="957.4" cy="32.0" r="3.7" fill="#e0e0e0"/><circle cx="1024.0" cy="31.0" r="3.7" fill="#ece080"/><circle cx="927.4" cy="51.4" r="3.7" fill="#e06810"/><circle cx="993.6" cy="56.6" r="3.7" fill="#e8e0b0"/><circle cx="1009.6" cy="78.4" r="3.7" fill="#e8e0b0"/><circle cx="932.4" cy="81.0" r="3.7" fill="#eca818"/><circle cx="939.0" cy="93.0" r="3.7" fill="#eca818"/><circle cx="946.0" cy="96.0" r="3.7" fill="#eca818"/><circle cx="930.4" cy="99.0" r="3.7" fill="#f0c830"/><circle cx="939.0" cy="99.0" r="3.7" fill="#e8e0b0"/><circle cx="944.0" cy="99.6" r="3.7" fill="#e8e0b0"/><circle cx="1000.4" cy="92.0" r="3.7" fill="#eca818"/><circle cx="989.4" cy="104.0" r="3.7" fill="#f0c830"/><circle cx="995.0" cy="114.6" r="3.7" fill="#f0c830"/><circle cx="1022.0" cy="103.0" r="3.7" fill="#eca818"/><circle cx="1033.0" cy="101.0" r="3.7" fill="#e8e0b0"/><circle cx="1031.0" cy="106.0" r="3.7" fill="#f0e040"/><circle cx="1031.0" cy="112.0" r="3.7" fill="#e06810"/><circle cx="1026.0" cy="119.0" r="3.7" fill="#eca818"/><circle cx="1033.6" cy="120.0" r="3.7" fill="#eca818"/><circle cx="1033.6" cy="135.6" r="3.7" fill="#eca818"/><circle cx="1075.0" cy="35.0" r="3.7" fill="#ece080"/><circle cx="1111.0" cy="51.0" r="3.7" fill="#eca818"/><circle cx="1046.0" cy="51.0" r="3.7" fill="#f0e040"/><circle cx="1046.4" cy="53.6" r="3.7" fill="#f0c830"/><circle cx="1059.4" cy="57.0" r="3.7" fill="#f0e040"/><circle cx="1078.0" cy="63.0" r="3.7" fill="#f0c830"/><circle cx="1074.4" cy="69.4" r="3.7" fill="#f0c830"/><circle cx="1047.4" cy="78.0" r="3.7" fill="#e0e0e0"/><circle cx="1063.0" cy="76.0" r="3.7" fill="#e8e0b0"/><circle cx="1044.4" cy="91.6" r="3.7" fill="#eca818"/><circle cx="1073.6" cy="98.0" r="3.7" fill="#e06810"/><circle cx="1098.4" cy="82.0" r="3.7" fill="#eca818"/><circle cx="1092.4" cy="92.0" r="3.7" fill="#e06810"/><circle cx="1108.0" cy="97.4" r="3.7" fill="#f0c830"/><circle cx="1097.6" cy="105.6" r="3.7" fill="#f0e040"/><circle cx="1038.0" cy="106.0" r="3.7" fill="#f0c830"/><circle cx="1043.0" cy="110.4" r="3.7" fill="#eca818"/><circle cx="1048.0" cy="126.4" r="3.7" fill="#e06810"/><circle cx="1074.0" cy="127.0" r="3.7" fill="#e06810"/><circle cx="1051.0" cy="140.0" r="3.7" fill="#eca818"/><circle cx="1094.0" cy="127.0" r="3.7" fill="#eca818"/><circle cx="1099.0" cy="123.6" r="3.7" fill="#f0e040"/><circle cx="1104.0" cy="127.0" r="3.7" fill="#eca818"/><circle cx="1109.0" cy="126.0" r="3.7" fill="#e8e0b0"/><circle cx="1112.0" cy="127.0" r="3.7" fill="#eca818"/><circle cx="1076.8" cy="156.0" r="3.7" fill="#e06810"/><circle cx="1082.3" cy="152.8" r="3.7" fill="#f0e040"/><circle cx="1112.6" cy="185.3" r="3.7" fill="#f0c830"/><circle cx="996.7" cy="228.6" r="3.7" fill="#ece080"/><circle cx="1044.8" cy="214.1" r="3.7" fill="#e06810"/><circle cx="1048.7" cy="213.4" r="3.7" fill="#eca818"/><circle cx="1053.4" cy="214.5" r="3.7" fill="#e0e0e0"/><circle cx="1050.8" cy="224.9" r="3.7" fill="#f0c830"/><circle cx="1081.2" cy="238.3" r="3.7" fill="#e06810"/><circle cx="1035.2" cy="257.2" r="3.7" fill="#eca818"/><circle cx="1112.6" cy="268.7" r="3.7" fill="#e06810"/><circle cx="874.0" cy="248.0" r="3.7" fill="#7030f0"/><circle cx="893.0" cy="248.6" r="3.7" fill="#7030f0"/><circle cx="886.4" cy="272.0" r="3.7" fill="#1070b0"/><circle cx="880.4" cy="278.0" r="3.7" fill="#1070b0"/><circle cx="890.4" cy="280.4" r="3.7" fill="#1070b0"/><circle cx="906.4" cy="279.6" r="3.7" fill="#e8e0b0"/><circle cx="873.0" cy="284.4" r="3.7" fill="#48b070"/><circle cx="878.0" cy="287.0" r="3.7" fill="#80c880"/><circle cx="890.0" cy="286.4" r="3.7" fill="#20a070"/><circle cx="898.0" cy="286.0" r="3.7" fill="#e8e0b0"/><circle cx="876.0" cy="290.4" r="3.7" fill="#a8d4a8"/><circle cx="882.4" cy="294.4" r="3.7" fill="#a8d4a8"/><circle cx="888.4" cy="293.6" r="3.7" fill="#80c880"/><circle cx="901.6" cy="297.0" r="3.7" fill="#80c880"/><circle cx="874.0" cy="303.6" r="3.7" fill="#48b070"/><circle cx="888.0" cy="308.4" r="3.7" fill="#48b070"/><circle cx="899.6" cy="312.6" r="3.7" fill="#a8d4a8"/><circle cx="923.6" cy="303.0" r="3.7" fill="#a8d4a8"/><circle cx="941.0" cy="302.0" r="3.7" fill="#e0e0e0"/><circle cx="953.6" cy="293.0" r="3.7" fill="#80c880"/><circle cx="961.0" cy="292.0" r="3.7" fill="#f0e040"/><circle cx="964.4" cy="297.0" r="3.7" fill="#f0c830"/><circle cx="883.6" cy="324.0" r="3.7" fill="#a8d4a8"/><circle cx="874.4" cy="339.4" r="3.7" fill="#a8d4a8"/><circle cx="869.0" cy="340.0" r="3.7" fill="#48b070"/><circle cx="851.0" cy="236.4" r="3.7" fill="#7030f0"/><circle cx="860.4" cy="248.4" r="3.7" fill="#1070b0"/><circle cx="863.0" cy="288.0" r="3.7" fill="#80c880"/><circle cx="865.0" cy="300.4" r="3.7" fill="#48b070"/><circle cx="647.0" cy="291.6" r="3.7" fill="#48b070"/><circle cx="655.0" cy="299.6" r="3.7" fill="#a8d4a8"/><circle cx="649.0" cy="303.0" r="3.7" fill="#20a070"/><circle cx="653.0" cy="305.0" r="3.7" fill="#20a070"/><circle cx="650.0" cy="308.0" r="3.7" fill="#e0e0e0"/><circle cx="657.0" cy="311.0" r="3.7" fill="#80c880"/><circle cx="708.0" cy="295.4" r="3.7" fill="#48b070"/><circle cx="703.0" cy="301.0" r="3.7" fill="#1070b0"/><circle cx="736.4" cy="287.0" r="3.7" fill="#80c880"/><circle cx="863.0" cy="358.0" r="3.7" fill="#eca818"/><circle cx="865.6" cy="362.6" r="3.7" fill="#e0e0e0"/><circle cx="845.0" cy="383.0" r="3.7" fill="#48b070"/><circle cx="844.0" cy="386.6" r="3.7" fill="#80c880"/><circle cx="851.6" cy="393.4" r="3.7" fill="#cce4cc"/><circle cx="819.6" cy="445.4" r="3.7" fill="#a8d4a8"/><circle cx="943.0" cy="351.0" r="3.7" fill="#80c880"/><circle cx="924.4" cy="362.0" r="3.7" fill="#48b070"/><circle cx="918.0" cy="371.0" r="3.7" fill="#e8e0b0"/><circle cx="922.0" cy="376.0" r="3.7" fill="#e0e0e0"/><circle cx="928.0" cy="375.0" r="3.7" fill="#e8e0b0"/><circle cx="936.0" cy="376.6" r="3.7" fill="#e0e0e0"/><circle cx="941.0" cy="381.0" r="3.7" fill="#e0e0e0"/><circle cx="919.0" cy="380.0" r="3.7" fill="#f0c830"/><circle cx="925.0" cy="378.0" r="3.7" fill="#f0e040"/><circle cx="930.0" cy="379.0" r="3.7" fill="#e8e0b0"/><circle cx="934.0" cy="382.0" r="3.7" fill="#f0e040"/><circle cx="923.0" cy="384.0" r="3.7" fill="#eca818"/><circle cx="930.0" cy="384.0" r="3.7" fill="#f0c830"/><circle cx="936.0" cy="385.0" r="3.7" fill="#f0e040"/><circle cx="924.0" cy="400.4" r="3.7" fill="#eca818"/><circle cx="885.0" cy="406.6" r="3.7" fill="#eca818"/><circle cx="872.0" cy="437.0" r="3.7" fill="#e06810"/><circle cx="874.0" cy="439.0" r="3.7" fill="#eca818"/><circle cx="959.0" cy="370.0" r="3.7" fill="#eca818"/><circle cx="966.0" cy="368.6" r="3.7" fill="#eca818"/><circle cx="971.0" cy="364.0" r="3.7" fill="#f0e040"/><circle cx="977.0" cy="366.6" r="3.7" fill="#eca818"/><circle cx="960.0" cy="375.0" r="3.7" fill="#e06810"/><circle cx="963.6" cy="379.4" r="3.7" fill="#eca818"/><circle cx="1005.8" cy="295.3" r="3.7" fill="#f0e040"/><circle cx="1050.8" cy="297.3" r="3.7" fill="#f0e040"/><circle cx="1086.6" cy="293.6" r="3.7" fill="#e8e0b0"/><circle cx="1098.1" cy="292.5" r="3.7" fill="#e06810"/><circle cx="1106.7" cy="338.4" r="3.7" fill="#e06810"/><circle cx="1106.1" cy="347.8" r="3.7" fill="#eca818"/><circle cx="1111.5" cy="346.7" r="3.7" fill="#f0c830"/><circle cx="1025.9" cy="347.8" r="3.7" fill="#e8e0b0"/><circle cx="1033.5" cy="346.7" r="3.7" fill="#e8e0b0"/><circle cx="1030.3" cy="354.3" r="3.7" fill="#f0e040"/><circle cx="1009.7" cy="361.8" r="3.7" fill="#f0e040"/><circle cx="1014.0" cy="366.2" r="3.7" fill="#e8e0b0"/><circle cx="1028.1" cy="361.4" r="3.7" fill="#f0e040"/><circle cx="1033.5" cy="361.4" r="3.7" fill="#f0e040"/><circle cx="1040.0" cy="357.5" r="3.7" fill="#e8e0b0"/><circle cx="1037.4" cy="360.8" r="3.7" fill="#eca818"/><circle cx="1041.1" cy="367.3" r="3.7" fill="#eca818"/><circle cx="1045.4" cy="365.1" r="3.7" fill="#eca818"/><circle cx="1042.2" cy="373.8" r="3.7" fill="#eca818"/><circle cx="1055.2" cy="353.6" r="3.7" fill="#eca818"/><circle cx="1054.1" cy="365.1" r="3.7" fill="#e8e0b0"/><circle cx="1062.8" cy="367.3" r="3.7" fill="#f0e040"/><circle cx="1075.8" cy="355.3" r="3.7" fill="#f0c830"/><circle cx="1083.8" cy="352.1" r="3.7" fill="#e0e0e0"/><circle cx="1096.8" cy="351.0" r="3.7" fill="#ece080"/><circle cx="866.3" cy="485.5" r="3.7" fill="#f0e040"/><circle cx="728.1" cy="387.9" r="3.7" fill="#10909a"/></g><g clip-path="url(#cl)"><circle cx="459.0" cy="359.0" r="3.6" fill="#12a074"/><circle cx="469.0" cy="361.0" r="3.6" fill="#12a074"/><circle cx="478.0" cy="359.5" r="3.6" fill="#12a074"/><g fill="#111"><circle cx="86.2" cy="30.2" r="4.6"/><circle cx="116.5" cy="37.7" r="4.6"/><circle cx="95.2" cy="46.4" r="4.6"/><circle cx="80.5" cy="53.2" r="4.6"/><circle cx="108.7" cy="55.3" r="4.6"/><circle cx="116.5" cy="61.3" r="4.6"/><circle cx="58.7" cy="64.3" r="4.6"/><circle cx="97.7" cy="62.8" r="4.6"/><circle cx="79.4" cy="67.7" r="4.6"/><circle cx="38.2" cy="68.2" r="4.6"/><circle cx="115.0" cy="67.7" r="4.6"/><circle cx="104.5" cy="69.7" r="4.6"/><circle cx="46.7" cy="79.0" r="4.6"/><circle cx="40.7" cy="81.2" r="4.6"/><circle cx="55.0" cy="82.7" r="4.6"/><circle cx="58.7" cy="84.2" r="4.6"/><circle cx="91.7" cy="76.3" r="4.6"/><circle cx="97.7" cy="77.2" r="4.6"/><circle cx="104.5" cy="74.5" r="4.6"/><circle cx="109.7" cy="76.7" r="4.6"/><circle cx="104.5" cy="79.7" r="4.6"/><circle cx="94.7" cy="82.0" r="4.6"/><circle cx="100.7" cy="82.7" r="4.6"/><circle cx="106.7" cy="85.0" r="4.6"/><circle cx="109.7" cy="81.2" r="4.6"/><circle cx="116.5" cy="83.2" r="4.6"/><circle cx="91.0" cy="87.7" r="4.6"/><circle cx="34.0" cy="88.7" r="4.6"/><circle cx="34.7" cy="95.5" r="4.6"/><circle cx="57.2" cy="93.2" r="4.6"/><circle cx="62.5" cy="97.7" r="4.6"/><circle cx="84.2" cy="101.5" r="4.6"/><circle cx="111.2" cy="102.2" r="4.6"/><circle cx="108.2" cy="105.2" r="4.6"/><circle cx="31.0" cy="116.5" r="4.6"/><circle cx="122.3" cy="41.5" r="4.6"/><circle cx="132.2" cy="50.2" r="4.6"/><circle cx="125.3" cy="54.7" r="4.6"/><circle cx="111.6" cy="122.0" r="4.6"/><circle cx="46.0" cy="144.4" r="4.6"/><circle cx="36.4" cy="149.4" r="4.6"/><circle cx="42.4" cy="149.4" r="4.6"/><circle cx="32.4" cy="159.4" r="4.6"/><circle cx="40.4" cy="158.6" r="4.6"/><circle cx="32.0" cy="180.0" r="4.6"/><circle cx="60.4" cy="179.0" r="4.6"/><circle cx="73.0" cy="197.0" r="4.6"/><circle cx="61.0" cy="205.0" r="4.6"/><circle cx="62.0" cy="208.6" r="4.6"/><circle cx="58.0" cy="212.0" r="4.6"/><circle cx="55.0" cy="219.0" r="4.6"/><circle cx="223.6" cy="115.4" r="4.6"/><circle cx="240.4" cy="191.6" r="4.6"/><circle cx="267.0" cy="212.0" r="4.6"/><circle cx="175.0" cy="226.4" r="4.6"/><circle cx="308.0" cy="28.6" r="4.6"/><circle cx="306.6" cy="44.0" r="4.6"/><circle cx="307.4" cy="41.6" r="4.6"/><circle cx="292.0" cy="51.4" r="4.6"/><circle cx="313.6" cy="108.4" r="4.6"/><circle cx="274.0" cy="141.0" r="4.6"/><circle cx="335.0" cy="114.0" r="4.6"/><circle cx="339.0" cy="115.4" r="4.6"/><circle cx="277.6" cy="147.0" r="4.6"/><circle cx="276.4" cy="154.0" r="4.6"/><circle cx="319.6" cy="147.4" r="4.6"/><circle cx="352.0" cy="146.0" r="4.6"/><circle cx="344.0" cy="159.6" r="4.6"/><circle cx="369.6" cy="158.6" r="4.6"/><circle cx="371.6" cy="156.0" r="4.6"/><circle cx="316.0" cy="169.6" r="4.6"/><circle cx="334.6" cy="169.4" r="4.6"/><circle cx="308.0" cy="185.6" r="4.6"/><circle cx="300.0" cy="193.4" r="4.6"/><circle cx="309.0" cy="191.0" r="4.6"/><circle cx="314.0" cy="192.6" r="4.6"/><circle cx="308.4" cy="198.0" r="4.6"/><circle cx="325.6" cy="189.6" r="4.6"/><circle cx="351.6" cy="189.6" r="4.6"/><circle cx="351.0" cy="195.0" r="4.6"/><circle cx="373.4" cy="199.6" r="4.6"/><circle cx="339.4" cy="203.4" r="4.6"/><circle cx="343.0" cy="213.0" r="4.6"/><circle cx="274.0" cy="207.4" r="4.6"/><circle cx="269.0" cy="212.0" r="4.6"/><circle cx="273.6" cy="216.6" r="4.6"/><circle cx="273.0" cy="226.4" r="4.6"/><circle cx="314.0" cy="228.6" r="4.6"/><circle cx="357.4" cy="32.0" r="4.6"/><circle cx="424.0" cy="31.0" r="4.6"/><circle cx="327.4" cy="51.4" r="4.6"/><circle cx="393.6" cy="56.6" r="4.6"/><circle cx="409.6" cy="78.4" r="4.6"/><circle cx="332.4" cy="81.0" r="4.6"/><circle cx="339.0" cy="93.0" r="4.6"/><circle cx="346.0" cy="96.0" r="4.6"/><circle cx="330.4" cy="99.0" r="4.6"/><circle cx="339.0" cy="99.0" r="4.6"/><circle cx="344.0" cy="99.6" r="4.6"/><circle cx="400.4" cy="92.0" r="4.6"/><circle cx="389.4" cy="104.0" r="4.6"/><circle cx="395.0" cy="114.6" r="4.6"/><circle cx="422.0" cy="103.0" r="4.6"/><circle cx="433.0" cy="101.0" r="4.6"/><circle cx="431.0" cy="106.0" r="4.6"/><circle cx="431.0" cy="112.0" r="4.6"/><circle cx="426.0" cy="119.0" r="4.6"/><circle cx="433.6" cy="120.0" r="4.6"/><circle cx="433.6" cy="135.6" r="4.6"/><circle cx="475.0" cy="35.0" r="4.6"/><circle cx="511.0" cy="51.0" r="4.6"/><circle cx="446.0" cy="51.0" r="4.6"/><circle cx="446.4" cy="53.6" r="4.6"/><circle cx="459.4" cy="57.0" r="4.6"/><circle cx="478.0" cy="63.0" r="4.6"/><circle cx="474.4" cy="69.4" r="4.6"/><circle cx="447.4" cy="78.0" r="4.6"/><circle cx="463.0" cy="76.0" r="4.6"/><circle cx="444.4" cy="91.6" r="4.6"/><circle cx="473.6" cy="98.0" r="4.6"/><circle cx="498.4" cy="82.0" r="4.6"/><circle cx="492.4" cy="92.0" r="4.6"/><circle cx="508.0" cy="97.4" r="4.6"/><circle cx="497.6" cy="105.6" r="4.6"/><circle cx="438.0" cy="106.0" r="4.6"/><circle cx="443.0" cy="110.4" r="4.6"/><circle cx="448.0" cy="126.4" r="4.6"/><circle cx="474.0" cy="127.0" r="4.6"/><circle cx="451.0" cy="140.0" r="4.6"/><circle cx="494.0" cy="127.0" r="4.6"/><circle cx="499.0" cy="123.6" r="4.6"/><circle cx="504.0" cy="127.0" r="4.6"/><circle cx="509.0" cy="126.0" r="4.6"/><circle cx="512.0" cy="127.0" r="4.6"/><circle cx="476.8" cy="156.0" r="4.6"/><circle cx="482.3" cy="152.8" r="4.6"/><circle cx="512.6" cy="185.3" r="4.6"/><circle cx="396.7" cy="228.6" r="4.6"/><circle cx="444.8" cy="214.1" r="4.6"/><circle cx="448.7" cy="213.4" r="4.6"/><circle cx="453.4" cy="214.5" r="4.6"/><circle cx="450.8" cy="224.9" r="4.6"/><circle cx="481.2" cy="238.3" r="4.6"/><circle cx="435.2" cy="257.2" r="4.6"/><circle cx="512.6" cy="268.7" r="4.6"/><circle cx="274.0" cy="248.0" r="4.6"/><circle cx="293.0" cy="248.6" r="4.6"/><circle cx="286.4" cy="272.0" r="4.6"/><circle cx="280.4" cy="278.0" r="4.6"/><circle cx="290.4" cy="280.4" r="4.6"/><circle cx="306.4" cy="279.6" r="4.6"/><circle cx="273.0" cy="284.4" r="4.6"/><circle cx="278.0" cy="287.0" r="4.6"/><circle cx="290.0" cy="286.4" r="4.6"/><circle cx="298.0" cy="286.0" r="4.6"/><circle cx="276.0" cy="290.4" r="4.6"/><circle cx="282.4" cy="294.4" r="4.6"/><circle cx="288.4" cy="293.6" r="4.6"/><circle cx="301.6" cy="297.0" r="4.6"/><circle cx="274.0" cy="303.6" r="4.6"/><circle cx="288.0" cy="308.4" r="4.6"/><circle cx="299.6" cy="312.6" r="4.6"/><circle cx="323.6" cy="303.0" r="4.6"/><circle cx="341.0" cy="302.0" r="4.6"/><circle cx="353.6" cy="293.0" r="4.6"/><circle cx="361.0" cy="292.0" r="4.6"/><circle cx="364.4" cy="297.0" r="4.6"/><circle cx="283.6" cy="324.0" r="4.6"/><circle cx="274.4" cy="339.4" r="4.6"/><circle cx="269.0" cy="340.0" r="4.6"/><circle cx="251.0" cy="236.4" r="4.6"/><circle cx="260.4" cy="248.4" r="4.6"/><circle cx="263.0" cy="288.0" r="4.6"/><circle cx="265.0" cy="300.4" r="4.6"/><circle cx="47.0" cy="291.6" r="4.6"/><circle cx="55.0" cy="299.6" r="4.6"/><circle cx="49.0" cy="303.0" r="4.6"/><circle cx="53.0" cy="305.0" r="4.6"/><circle cx="50.0" cy="308.0" r="4.6"/><circle cx="57.0" cy="311.0" r="4.6"/><circle cx="108.0" cy="295.4" r="4.6"/><circle cx="103.0" cy="301.0" r="4.6"/><circle cx="136.4" cy="287.0" r="4.6"/><circle cx="263.0" cy="358.0" r="4.6"/><circle cx="265.6" cy="362.6" r="4.6"/><circle cx="245.0" cy="383.0" r="4.6"/><circle cx="244.0" cy="386.6" r="4.6"/><circle cx="251.6" cy="393.4" r="4.6"/><circle cx="219.6" cy="445.4" r="4.6"/><circle cx="343.0" cy="351.0" r="4.6"/><circle cx="324.4" cy="362.0" r="4.6"/><circle cx="318.0" cy="371.0" r="4.6"/><circle cx="322.0" cy="376.0" r="4.6"/><circle cx="328.0" cy="375.0" r="4.6"/><circle cx="336.0" cy="376.6" r="4.6"/><circle cx="341.0" cy="381.0" r="4.6"/><circle cx="319.0" cy="380.0" r="4.6"/><circle cx="325.0" cy="378.0" r="4.6"/><circle cx="330.0" cy="379.0" r="4.6"/><circle cx="334.0" cy="382.0" r="4.6"/><circle cx="323.0" cy="384.0" r="4.6"/><circle cx="330.0" cy="384.0" r="4.6"/><circle cx="336.0" cy="385.0" r="4.6"/><circle cx="324.0" cy="400.4" r="4.6"/><circle cx="285.0" cy="406.6" r="4.6"/><circle cx="272.0" cy="437.0" r="4.6"/><circle cx="274.0" cy="439.0" r="4.6"/><circle cx="359.0" cy="370.0" r="4.6"/><circle cx="366.0" cy="368.6" r="4.6"/><circle cx="371.0" cy="364.0" r="4.6"/><circle cx="377.0" cy="366.6" r="4.6"/><circle cx="360.0" cy="375.0" r="4.6"/><circle cx="363.6" cy="379.4" r="4.6"/><circle cx="405.8" cy="295.3" r="4.6"/><circle cx="450.8" cy="297.3" r="4.6"/><circle cx="486.6" cy="293.6" r="4.6"/><circle cx="498.1" cy="292.5" r="4.6"/><circle cx="506.7" cy="338.4" r="4.6"/><circle cx="506.1" cy="347.8" r="4.6"/><circle cx="511.5" cy="346.7" r="4.6"/><circle cx="425.9" cy="347.8" r="4.6"/><circle cx="433.5" cy="346.7" r="4.6"/><circle cx="430.3" cy="354.3" r="4.6"/><circle cx="409.7" cy="361.8" r="4.6"/><circle cx="414.0" cy="366.2" r="4.6"/><circle cx="428.1" cy="361.4" r="4.6"/><circle cx="433.5" cy="361.4" r="4.6"/><circle cx="440.0" cy="357.5" r="4.6"/><circle cx="437.4" cy="360.8" r="4.6"/><circle cx="441.1" cy="367.3" r="4.6"/><circle cx="445.4" cy="365.1" r="4.6"/><circle cx="442.2" cy="373.8" r="4.6"/><circle cx="455.2" cy="353.6" r="4.6"/><circle cx="454.1" cy="365.1" r="4.6"/><circle cx="462.8" cy="367.3" r="4.6"/><circle cx="475.8" cy="355.3" r="4.6"/><circle cx="483.8" cy="352.1" r="4.6"/><circle cx="496.8" cy="351.0" r="4.6"/><circle cx="266.3" cy="485.5" r="4.6"/><circle cx="128.1" cy="387.9" r="4.6"/></g><circle cx="86.2" cy="30.2" r="3.7" fill="#98c856"/><circle cx="116.5" cy="37.7" r="3.7" fill="#98c856"/><circle cx="95.2" cy="46.4" r="3.7" fill="#f0e040"/><circle cx="80.5" cy="53.2" r="3.7" fill="#52b262"/><circle cx="108.7" cy="55.3" r="3.7" fill="#12a074"/><circle cx="116.5" cy="61.3" r="3.7" fill="#f0c830"/><circle cx="58.7" cy="64.3" r="3.7" fill="#108a8a"/><circle cx="97.7" cy="62.8" r="3.7" fill="#34a86a"/><circle cx="79.4" cy="67.7" r="3.7" fill="#108a8a"/><circle cx="38.2" cy="68.2" r="3.7" fill="#108a8a"/><circle cx="115.0" cy="67.7" r="3.7" fill="#f0c830"/><circle cx="104.5" cy="69.7" r="3.7" fill="#f0e040"/><circle cx="46.7" cy="79.0" r="3.7" fill="#1674bc"/><circle cx="40.7" cy="81.2" r="3.7" fill="#12a074"/><circle cx="55.0" cy="82.7" r="3.7" fill="#107c9c"/><circle cx="58.7" cy="84.2" r="3.7" fill="#107c9c"/><circle cx="91.7" cy="76.3" r="3.7" fill="#12a074"/><circle cx="97.7" cy="77.2" r="3.7" fill="#78c05c"/><circle cx="104.5" cy="74.5" r="3.7" fill="#eaa214"/><circle cx="109.7" cy="76.7" r="3.7" fill="#eaa214"/><circle cx="104.5" cy="79.7" r="3.7" fill="#eaa214"/><circle cx="94.7" cy="82.0" r="3.7" fill="#c8d84c"/><circle cx="100.7" cy="82.7" r="3.7" fill="#c8d84c"/><circle cx="106.7" cy="85.0" r="3.7" fill="#f0c830"/><circle cx="109.7" cy="81.2" r="3.7" fill="#eaa214"/><circle cx="116.5" cy="83.2" r="3.7" fill="#f0c830"/><circle cx="91.0" cy="87.7" r="3.7" fill="#52b262"/><circle cx="34.0" cy="88.7" r="3.7" fill="#108a8a"/><circle cx="34.7" cy="95.5" r="3.7" fill="#108a8a"/><circle cx="57.2" cy="93.2" r="3.7" fill="#1674bc"/><circle cx="62.5" cy="97.7" r="3.7" fill="#12a074"/><circle cx="84.2" cy="101.5" r="3.7" fill="#52b262"/><circle cx="111.2" cy="102.2" r="3.7" fill="#f0e040"/><circle cx="108.2" cy="105.2" r="3.7" fill="#f0e040"/><circle cx="31.0" cy="116.5" r="3.7" fill="#108a8a"/><circle cx="122.3" cy="41.5" r="3.7" fill="#98c856"/><circle cx="132.2" cy="50.2" r="3.7" fill="#f0e040"/><circle cx="125.3" cy="54.7" r="3.7" fill="#98c856"/><circle cx="111.6" cy="122.0" r="3.7" fill="#f0c830"/><circle cx="46.0" cy="144.4" r="3.7" fill="#107c9c"/><circle cx="36.4" cy="149.4" r="3.7" fill="#2484cc"/><circle cx="42.4" cy="149.4" r="3.7" fill="#108a8a"/><circle cx="32.4" cy="159.4" r="3.7" fill="#2484cc"/><circle cx="40.4" cy="158.6" r="3.7" fill="#2484cc"/><circle cx="32.0" cy="180.0" r="3.7" fill="#2484cc"/><circle cx="60.4" cy="179.0" r="3.7" fill="#2484cc"/><circle cx="73.0" cy="197.0" r="3.7" fill="#107c9c"/><circle cx="61.0" cy="205.0" r="3.7" fill="#108a8a"/><circle cx="62.0" cy="208.6" r="3.7" fill="#108a8a"/><circle cx="58.0" cy="212.0" r="3.7" fill="#2484cc"/><circle cx="55.0" cy="219.0" r="3.7" fill="#1674bc"/><circle cx="223.6" cy="115.4" r="3.7" fill="#f0e040"/><circle cx="240.4" cy="191.6" r="3.7" fill="#eaa214"/><circle cx="267.0" cy="212.0" r="3.7" fill="#eaa214"/><circle cx="175.0" cy="226.4" r="3.7" fill="#108a8a"/><circle cx="308.0" cy="28.6" r="3.7" fill="#107c9c"/><circle cx="306.6" cy="44.0" r="3.7" fill="#3a98d8"/><circle cx="307.4" cy="41.6" r="3.7" fill="#3a98d8"/><circle cx="292.0" cy="51.4" r="3.7" fill="#1674bc"/><circle cx="313.6" cy="108.4" r="3.7" fill="#c8d84c"/><circle cx="274.0" cy="141.0" r="3.7" fill="#55ade2"/><circle cx="335.0" cy="114.0" r="3.7" fill="#c8d84c"/><circle cx="339.0" cy="115.4" r="3.7" fill="#c8d84c"/><circle cx="277.6" cy="147.0" r="3.7" fill="#55ade2"/><circle cx="276.4" cy="154.0" r="3.7" fill="#1674bc"/><circle cx="319.6" cy="147.4" r="3.7" fill="#12a074"/><circle cx="352.0" cy="146.0" r="3.7" fill="#f0e040"/><circle cx="344.0" cy="159.6" r="3.7" fill="#108a8a"/><circle cx="369.6" cy="158.6" r="3.7" fill="#108a8a"/><circle cx="371.6" cy="156.0" r="3.7" fill="#108a8a"/><circle cx="316.0" cy="169.6" r="3.7" fill="#eaa214"/><circle cx="334.6" cy="169.4" r="3.7" fill="#108a8a"/><circle cx="308.0" cy="185.6" r="3.7" fill="#f0e040"/><circle cx="300.0" cy="193.4" r="3.7" fill="#108a8a"/><circle cx="309.0" cy="191.0" r="3.7" fill="#eaa214"/><circle cx="314.0" cy="192.6" r="3.7" fill="#f0e040"/><circle cx="308.4" cy="198.0" r="3.7" fill="#108a8a"/><circle cx="325.6" cy="189.6" r="3.7" fill="#108a8a"/><circle cx="351.6" cy="189.6" r="3.7" fill="#108a8a"/><circle cx="351.0" cy="195.0" r="3.7" fill="#108a8a"/><circle cx="373.4" cy="199.6" r="3.7" fill="#3a98d8"/><circle cx="339.4" cy="203.4" r="3.7" fill="#107c9c"/><circle cx="343.0" cy="213.0" r="3.7" fill="#3a98d8"/><circle cx="274.0" cy="207.4" r="3.7" fill="#d86a60"/><circle cx="269.0" cy="212.0" r="3.7" fill="#eaa214"/><circle cx="273.6" cy="216.6" r="3.7" fill="#eaa214"/><circle cx="273.0" cy="226.4" r="3.7" fill="#eaa214"/><circle cx="314.0" cy="228.6" r="3.7" fill="#98c856"/><circle cx="357.4" cy="32.0" r="3.7" fill="#107c9c"/><circle cx="424.0" cy="31.0" r="3.7" fill="#107c9c"/><circle cx="327.4" cy="51.4" r="3.7" fill="#55ade2"/><circle cx="393.6" cy="56.6" r="3.7" fill="#2484cc"/><circle cx="409.6" cy="78.4" r="3.7" fill="#108a8a"/><circle cx="332.4" cy="81.0" r="3.7" fill="#107c9c"/><circle cx="339.0" cy="93.0" r="3.7" fill="#108a8a"/><circle cx="346.0" cy="96.0" r="3.7" fill="#12a074"/><circle cx="330.4" cy="99.0" r="3.7" fill="#12a074"/><circle cx="339.0" cy="99.0" r="3.7" fill="#c8d84c"/><circle cx="344.0" cy="99.6" r="3.7" fill="#f0c830"/><circle cx="400.4" cy="92.0" r="3.7" fill="#1674bc"/><circle cx="389.4" cy="104.0" r="3.7" fill="#107c9c"/><circle cx="395.0" cy="114.6" r="3.7" fill="#107c9c"/><circle cx="422.0" cy="103.0" r="3.7" fill="#2484cc"/><circle cx="433.0" cy="101.0" r="3.7" fill="#12a074"/><circle cx="431.0" cy="106.0" r="3.7" fill="#12a074"/><circle cx="431.0" cy="112.0" r="3.7" fill="#2484cc"/><circle cx="426.0" cy="119.0" r="3.7" fill="#3a98d8"/><circle cx="433.6" cy="120.0" r="3.7" fill="#3a98d8"/><circle cx="433.6" cy="135.6" r="3.7" fill="#3a98d8"/><circle cx="475.0" cy="35.0" r="3.7" fill="#2484cc"/><circle cx="511.0" cy="51.0" r="3.7" fill="#3a98d8"/><circle cx="446.0" cy="51.0" r="3.7" fill="#2484cc"/><circle cx="446.4" cy="53.6" r="3.7" fill="#2484cc"/><circle cx="459.4" cy="57.0" r="3.7" fill="#1674bc"/><circle cx="478.0" cy="63.0" r="3.7" fill="#1674bc"/><circle cx="474.4" cy="69.4" r="3.7" fill="#1674bc"/><circle cx="447.4" cy="78.0" r="3.7" fill="#34a86a"/><circle cx="463.0" cy="76.0" r="3.7" fill="#12a074"/><circle cx="444.4" cy="91.6" r="3.7" fill="#108a8a"/><circle cx="473.6" cy="98.0" r="3.7" fill="#3a98d8"/><circle cx="498.4" cy="82.0" r="3.7" fill="#2484cc"/><circle cx="492.4" cy="92.0" r="3.7" fill="#3a98d8"/><circle cx="508.0" cy="97.4" r="3.7" fill="#108a8a"/><circle cx="497.6" cy="105.6" r="3.7" fill="#108a8a"/><circle cx="438.0" cy="106.0" r="3.7" fill="#108a8a"/><circle cx="443.0" cy="110.4" r="3.7" fill="#108a8a"/><circle cx="448.0" cy="126.4" r="3.7" fill="#3a98d8"/><circle cx="474.0" cy="127.0" r="3.7" fill="#3a98d8"/><circle cx="451.0" cy="140.0" r="3.7" fill="#3a98d8"/><circle cx="494.0" cy="127.0" r="3.7" fill="#2484cc"/><circle cx="499.0" cy="123.6" r="3.7" fill="#108a8a"/><circle cx="504.0" cy="127.0" r="3.7" fill="#108a8a"/><circle cx="509.0" cy="126.0" r="3.7" fill="#12a074"/><circle cx="512.0" cy="127.0" r="3.7" fill="#3a98d8"/><circle cx="476.8" cy="156.0" r="3.7" fill="#2484cc"/><circle cx="482.3" cy="152.8" r="3.7" fill="#2484cc"/><circle cx="512.6" cy="185.3" r="3.7" fill="#3a98d8"/><circle cx="396.7" cy="228.6" r="3.7" fill="#55ade2"/><circle cx="444.8" cy="214.1" r="3.7" fill="#2484cc"/><circle cx="448.7" cy="213.4" r="3.7" fill="#34a86a"/><circle cx="453.4" cy="214.5" r="3.7" fill="#12a074"/><circle cx="450.8" cy="224.9" r="3.7" fill="#3a98d8"/><circle cx="481.2" cy="238.3" r="3.7" fill="#88a0b0"/><circle cx="435.2" cy="257.2" r="3.7" fill="#88a0b0"/><circle cx="512.6" cy="268.7" r="3.7" fill="#a8a8a8"/><circle cx="274.0" cy="248.0" r="3.7" fill="#eaa214"/><circle cx="293.0" cy="248.6" r="3.7" fill="#eaa214"/><circle cx="286.4" cy="272.0" r="3.7" fill="#f0c830"/><circle cx="280.4" cy="278.0" r="3.7" fill="#c8d84c"/><circle cx="290.4" cy="280.4" r="3.7" fill="#f0e040"/><circle cx="306.4" cy="279.6" r="3.7" fill="#3a98d8"/><circle cx="273.0" cy="284.4" r="3.7" fill="#108a8a"/><circle cx="278.0" cy="287.0" r="3.7" fill="#108a8a"/><circle cx="290.0" cy="286.4" r="3.7" fill="#12a074"/><circle cx="298.0" cy="286.0" r="3.7" fill="#2484cc"/><circle cx="276.0" cy="290.4" r="3.7" fill="#108a8a"/><circle cx="282.4" cy="294.4" r="3.7" fill="#108a8a"/><circle cx="288.4" cy="293.6" r="3.7" fill="#108a8a"/><circle cx="301.6" cy="297.0" r="3.7" fill="#107c9c"/><circle cx="274.0" cy="303.6" r="3.7" fill="#108a8a"/><circle cx="288.0" cy="308.4" r="3.7" fill="#107c9c"/><circle cx="299.6" cy="312.6" r="3.7" fill="#107c9c"/><circle cx="323.6" cy="303.0" r="3.7" fill="#2484cc"/><circle cx="341.0" cy="302.0" r="3.7" fill="#3a98d8"/><circle cx="353.6" cy="293.0" r="3.7" fill="#108a8a"/><circle cx="361.0" cy="292.0" r="3.7" fill="#55ade2"/><circle cx="364.4" cy="297.0" r="3.7" fill="#55ade2"/><circle cx="283.6" cy="324.0" r="3.7" fill="#107c9c"/><circle cx="274.4" cy="339.4" r="3.7" fill="#108a8a"/><circle cx="269.0" cy="340.0" r="3.7" fill="#108a8a"/><circle cx="251.0" cy="236.4" r="3.7" fill="#e07a10"/><circle cx="260.4" cy="248.4" r="3.7" fill="#f0e040"/><circle cx="263.0" cy="288.0" r="3.7" fill="#2484cc"/><circle cx="265.0" cy="300.4" r="3.7" fill="#108a8a"/><circle cx="47.0" cy="291.6" r="3.7" fill="#52b262"/><circle cx="55.0" cy="299.6" r="3.7" fill="#12a074"/><circle cx="49.0" cy="303.0" r="3.7" fill="#52b262"/><circle cx="53.0" cy="305.0" r="3.7" fill="#78c05c"/><circle cx="50.0" cy="308.0" r="3.7" fill="#52b262"/><circle cx="57.0" cy="311.0" r="3.7" fill="#98c856"/><circle cx="108.0" cy="295.4" r="3.7" fill="#78c05c"/><circle cx="103.0" cy="301.0" r="3.7" fill="#f0e040"/><circle cx="136.4" cy="287.0" r="3.7" fill="#98c856"/><circle cx="263.0" cy="358.0" r="3.7" fill="#a8a8a8"/><circle cx="265.6" cy="362.6" r="3.7" fill="#3a98d8"/><circle cx="245.0" cy="383.0" r="3.7" fill="#2484cc"/><circle cx="244.0" cy="386.6" r="3.7" fill="#2484cc"/><circle cx="251.6" cy="393.4" r="3.7" fill="#55ade2"/><circle cx="219.6" cy="445.4" r="3.7" fill="#2484cc"/><circle cx="343.0" cy="351.0" r="3.7" fill="#12a074"/><circle cx="324.4" cy="362.0" r="3.7" fill="#12a074"/><circle cx="318.0" cy="371.0" r="3.7" fill="#55ade2"/><circle cx="322.0" cy="376.0" r="3.7" fill="#d8d8d8"/><circle cx="328.0" cy="375.0" r="3.7" fill="#68a8d0"/><circle cx="336.0" cy="376.6" r="3.7" fill="#68a8d0"/><circle cx="341.0" cy="381.0" r="3.7" fill="#68a8d0"/><circle cx="319.0" cy="380.0" r="3.7" fill="#d8d8d8"/><circle cx="325.0" cy="378.0" r="3.7" fill="#a8a8a8"/><circle cx="330.0" cy="379.0" r="3.7" fill="#a8a8a8"/><circle cx="334.0" cy="382.0" r="3.7" fill="#d8d8d8"/><circle cx="323.0" cy="384.0" r="3.7" fill="#d8d8d8"/><circle cx="330.0" cy="384.0" r="3.7" fill="#a8a8a8"/><circle cx="336.0" cy="385.0" r="3.7" fill="#d8d8d8"/><circle cx="324.0" cy="400.4" r="3.7" fill="#f0f0f0"/><circle cx="285.0" cy="406.6" r="3.7" fill="#f0f0f0"/><circle cx="272.0" cy="437.0" r="3.7" fill="#f0f0f0"/><circle cx="274.0" cy="439.0" r="3.7" fill="#f0f0f0"/><circle cx="359.0" cy="370.0" r="3.7" fill="#d8d8d8"/><circle cx="366.0" cy="368.6" r="3.7" fill="#d8d8d8"/><circle cx="371.0" cy="364.0" r="3.7" fill="#55ade2"/><circle cx="377.0" cy="366.6" r="3.7" fill="#d8d8d8"/><circle cx="360.0" cy="375.0" r="3.7" fill="#d8d8d8"/><circle cx="363.6" cy="379.4" r="3.7" fill="#d8d8d8"/><circle cx="405.8" cy="295.3" r="3.7" fill="#3a98d8"/><circle cx="450.8" cy="297.3" r="3.7" fill="#3a98d8"/><circle cx="486.6" cy="293.6" r="3.7" fill="#3a98d8"/><circle cx="498.1" cy="292.5" r="3.7" fill="#a8a8a8"/><circle cx="506.7" cy="338.4" r="3.7" fill="#68a8d0"/><circle cx="506.1" cy="347.8" r="3.7" fill="#68a8d0"/><circle cx="511.5" cy="346.7" r="3.7" fill="#68a8d0"/><circle cx="425.9" cy="347.8" r="3.7" fill="#3a98d8"/><circle cx="433.5" cy="346.7" r="3.7" fill="#3a98d8"/><circle cx="430.3" cy="354.3" r="3.7" fill="#68a8d0"/><circle cx="409.7" cy="361.8" r="3.7" fill="#a8a8a8"/><circle cx="414.0" cy="366.2" r="3.7" fill="#a8a8a8"/><circle cx="428.1" cy="361.4" r="3.7" fill="#a8a8a8"/><circle cx="433.5" cy="361.4" r="3.7" fill="#a8a8a8"/><circle cx="440.0" cy="357.5" r="3.7" fill="#68a8d0"/><circle cx="437.4" cy="360.8" r="3.7" fill="#a8a8a8"/><circle cx="441.1" cy="367.3" r="3.7" fill="#d8d8d8"/><circle cx="445.4" cy="365.1" r="3.7" fill="#a8a8a8"/><circle cx="442.2" cy="373.8" r="3.7" fill="#d8d8d8"/><circle cx="455.2" cy="353.6" r="3.7" fill="#55ade2"/><circle cx="454.1" cy="365.1" r="3.7" fill="#3a98d8"/><circle cx="462.8" cy="367.3" r="3.7" fill="#3a98d8"/><circle cx="475.8" cy="355.3" r="3.7" fill="#2484cc"/><circle cx="483.8" cy="352.1" r="3.7" fill="#107c9c"/><circle cx="496.8" cy="351.0" r="3.7" fill="#3a98d8"/><circle cx="266.3" cy="485.5" r="3.7" fill="#a8a8a8"/><circle cx="128.1" cy="387.9" r="3.7" fill="#98c856"/></g>
<rect x="28.5" y="28.5" width="485" height="492" fill="none" stroke="#000" stroke-width="1"/>
<line x1="46.7" y1="520" x2="46.7" y2="527.5" stroke="#000"/>
<text x="46.7" y="547" text-anchor="middle" class="t">-106.5</text>
<line x1="97.0" y1="520" x2="97.0" y2="527.5" stroke="#000"/>
<text x="97.0" y="547" text-anchor="middle" class="t">-104.5</text>
<line x1="147.2" y1="520" x2="147.2" y2="527.5" stroke="#000"/>
<text x="147.2" y="547" text-anchor="middle" class="t">-102.5</text>
<line x1="197.4" y1="520" x2="197.4" y2="527.5" stroke="#000"/>
<text x="197.4" y="547" text-anchor="middle" class="t">-100.5</text>
<line x1="247.7" y1="520" x2="247.7" y2="527.5" stroke="#000"/>
<text x="247.7" y="547" text-anchor="middle" class="t">-98.5</text>
<line x1="297.9" y1="520" x2="297.9" y2="527.5" stroke="#000"/>
<text x="297.9" y="547" text-anchor="middle" class="t">-96.5</text>
<line x1="348.2" y1="520" x2="348.2" y2="527.5" stroke="#000"/>
<text x="348.2" y="547" text-anchor="middle" class="t">-94.5</text>
<line x1="398.4" y1="520" x2="398.4" y2="527.5" stroke="#000"/>
<text x="398.4" y="547" text-anchor="middle" class="t">-92.5</text>
<line x1="448.7" y1="520" x2="448.7" y2="527.5" stroke="#000"/>
<text x="448.7" y="547" text-anchor="middle" class="t">-90.5</text>
<line x1="498.9" y1="520" x2="498.9" y2="527.5" stroke="#000"/>
<text x="498.9" y="547" text-anchor="middle" class="t">-88.5</text>
<line x1="21" y1="506.0" x2="28.5" y2="506.0" stroke="#000"/>
<text transform="translate(12.0,506.5) rotate(-90)" text-anchor="middle" class="t">25.25</text>
<line x1="21" y1="447.4" x2="28.5" y2="447.4" stroke="#000"/>
<text transform="translate(12.0,447.9) rotate(-90)" text-anchor="middle" class="t">27.25</text>
<line x1="21" y1="388.9" x2="28.5" y2="388.9" stroke="#000"/>
<text transform="translate(12.0,389.4) rotate(-90)" text-anchor="middle" class="t">29.25</text>
<line x1="21" y1="330.4" x2="28.5" y2="330.4" stroke="#000"/>
<text transform="translate(12.0,330.9) rotate(-90)" text-anchor="middle" class="t">31.25</text>
<line x1="21" y1="271.8" x2="28.5" y2="271.8" stroke="#000"/>
<text transform="translate(12.0,272.3) rotate(-90)" text-anchor="middle" class="t">33.25</text>
<line x1="21" y1="213.2" x2="28.5" y2="213.2" stroke="#000"/>
<text transform="translate(12.0,213.8) rotate(-90)" text-anchor="middle" class="t">35.25</text>
<line x1="21" y1="154.7" x2="28.5" y2="154.7" stroke="#000"/>
<text transform="translate(12.0,155.2) rotate(-90)" text-anchor="middle" class="t">37.25</text>
<line x1="21" y1="96.2" x2="28.5" y2="96.2" stroke="#000"/>
<text transform="translate(12.0,96.7) rotate(-90)" text-anchor="middle" class="t">39.25</text>
<line x1="21" y1="37.6" x2="28.5" y2="37.6" stroke="#000"/>
<text transform="translate(12.0,38.1) rotate(-90)" text-anchor="middle" class="t">41.25</text>
<rect x="628.5" y="28.5" width="485" height="492" fill="none" stroke="#000" stroke-width="1"/>
<line x1="646.7" y1="520" x2="646.7" y2="527.5" stroke="#000"/>
<text x="646.7" y="547" text-anchor="middle" class="t">-106.5</text>
<line x1="697.0" y1="520" x2="697.0" y2="527.5" stroke="#000"/>
<text x="697.0" y="547" text-anchor="middle" class="t">-104.5</text>
<line x1="747.2" y1="520" x2="747.2" y2="527.5" stroke="#000"/>
<text x="747.2" y="547" text-anchor="middle" class="t">-102.5</text>
<line x1="797.5" y1="520" x2="797.5" y2="527.5" stroke="#000"/>
<text x="797.5" y="547" text-anchor="middle" class="t">-100.5</text>
<line x1="847.7" y1="520" x2="847.7" y2="527.5" stroke="#000"/>
<text x="847.7" y="547" text-anchor="middle" class="t">-98.5</text>
<line x1="898.0" y1="520" x2="898.0" y2="527.5" stroke="#000"/>
<text x="898.0" y="547" text-anchor="middle" class="t">-96.5</text>
<line x1="948.2" y1="520" x2="948.2" y2="527.5" stroke="#000"/>
<text x="948.2" y="547" text-anchor="middle" class="t">-94.5</text>
<line x1="998.5" y1="520" x2="998.5" y2="527.5" stroke="#000"/>
<text x="998.5" y="547" text-anchor="middle" class="t">-92.5</text>
<line x1="1048.7" y1="520" x2="1048.7" y2="527.5" stroke="#000"/>
<text x="1048.7" y="547" text-anchor="middle" class="t">-90.5</text>
<line x1="1099.0" y1="520" x2="1099.0" y2="527.5" stroke="#000"/>
<text x="1099.0" y="547" text-anchor="middle" class="t">-88.5</text>
<line x1="621" y1="506.0" x2="628.5" y2="506.0" stroke="#000"/>
<text transform="translate(612.0,506.5) rotate(-90)" text-anchor="middle" class="t">25.25</text>
<line x1="621" y1="447.4" x2="628.5" y2="447.4" stroke="#000"/>
<text transform="translate(612.0,447.9) rotate(-90)" text-anchor="middle" class="t">27.25</text>
<line x1="621" y1="388.9" x2="628.5" y2="388.9" stroke="#000"/>
<text transform="translate(612.0,389.4) rotate(-90)" text-anchor="middle" class="t">29.25</text>
<line x1="621" y1="330.4" x2="628.5" y2="330.4" stroke="#000"/>
<text transform="translate(612.0,330.9) rotate(-90)" text-anchor="middle" class="t">31.25</text>
<line x1="621" y1="271.8" x2="628.5" y2="271.8" stroke="#000"/>
<text transform="translate(612.0,272.3) rotate(-90)" text-anchor="middle" class="t">33.25</text>
<line x1="621" y1="213.2" x2="628.5" y2="213.2" stroke="#000"/>
<text transform="translate(612.0,213.8) rotate(-90)" text-anchor="middle" class="t">35.25</text>
<line x1="621" y1="154.7" x2="628.5" y2="154.7" stroke="#000"/>
<text transform="translate(612.0,155.2) rotate(-90)" text-anchor="middle" class="t">37.25</text>
<line x1="621" y1="96.2" x2="628.5" y2="96.2" stroke="#000"/>
<text transform="translate(612.0,96.7) rotate(-90)" text-anchor="middle" class="t">39.25</text>
<line x1="621" y1="37.6" x2="628.5" y2="37.6" stroke="#000"/>
<text transform="translate(612.0,38.1) rotate(-90)" text-anchor="middle" class="t">41.25</text>
<rect x="545.5" y="53" width="8" height="7.3" fill="#a8282c"/>
<rect x="545.5" y="60" width="8" height="7.3" fill="#cc7ab0"/>
<rect x="545.5" y="67" width="8" height="7.3" fill="#cc72a0"/>
<rect x="545.5" y="74" width="8" height="7.3" fill="#cc6e8c"/>
<rect x="545.5" y="81" width="8" height="7.3" fill="#d06c78"/>
<rect x="545.5" y="88" width="8" height="7.3" fill="#d06a68"/>
<rect x="545.5" y="95" width="8" height="7.3" fill="#d4685a"/>
<rect x="545.5" y="102" width="8" height="7.3" fill="#d86848"/>
<rect x="545.5" y="109" width="8" height="7.3" fill="#dc6432"/>
<rect x="545.5" y="116" width="8" height="7.3" fill="#e06418"/>
<rect x="545.5" y="123" width="8" height="7.3" fill="#e06a10"/>
<rect x="545.5" y="130" width="8" height="7.3" fill="#e07010"/>
<rect x="545.5" y="137" width="8" height="7.3" fill="#e07810"/>
<rect x="545.5" y="144" width="8" height="7.3" fill="#e48010"/>
<rect x="545.5" y="151" width="8" height="7.3" fill="#e68a10"/>
<rect x="545.5" y="158" width="8" height="7.3" fill="#e89410"/>
<rect x="545.5" y="165" width="8" height="7.3" fill="#eaa010"/>
<rect x="545.5" y="172" width="8" height="7.3" fill="#eca818"/>
<rect x="545.5" y="179" width="8" height="7.3" fill="#ecb020"/>
<rect x="545.5" y="186" width="8" height="7.3" fill="#eeb828"/>
<rect x="545.5" y="193" width="8" height="7.3" fill="#f0c030"/>
<rect x="545.5" y="200" width="8" height="6.3" fill="#f0c430"/>
<rect x="545.5" y="206" width="8" height="7.3" fill="#f0cc30"/>
<rect x="545.5" y="213" width="8" height="6.3" fill="#f0d838"/>
<rect x="545.5" y="219" width="8" height="7.3" fill="#f0e040"/>
<rect x="545.5" y="226" width="8" height="7.3" fill="#d8dc48"/>
<rect x="545.5" y="233" width="8" height="7.3" fill="#b0d050"/>
<rect x="545.5" y="240" width="8" height="7.3" fill="#90c858"/>
<rect x="545.5" y="247" width="8" height="7.3" fill="#70bc60"/>
<rect x="545.5" y="254" width="8" height="7.3" fill="#50b060"/>
<rect x="545.5" y="261" width="8" height="7.3" fill="#30a868"/>
<rect x="545.5" y="268" width="8" height="7.3" fill="#10a070"/>
<rect x="545.5" y="275" width="8" height="7.3" fill="#109878"/>
<rect x="545.5" y="282" width="8" height="7.3" fill="#109080"/>
<rect x="545.5" y="289" width="8" height="7.3" fill="#108888"/>
<rect x="545.5" y="296" width="8" height="7.3" fill="#108090"/>
<rect x="545.5" y="303" width="8" height="7.3" fill="#107898"/>
<rect x="545.5" y="310" width="8" height="7.3" fill="#1070a8"/>
<rect x="545.5" y="317" width="8" height="7.3" fill="#1070b8"/>
<rect x="545.5" y="324" width="8" height="7.3" fill="#1470c0"/>
<rect x="545.5" y="331" width="8" height="7.3" fill="#2078c0"/>
<rect x="545.5" y="338" width="8" height="7.3" fill="#2880c8"/>
<rect x="545.5" y="345" width="8" height="5.3" fill="#3088d0"/>
<rect x="545.5" y="350" width="8" height="7.3" fill="#2888d0"/>
<rect x="545.5" y="357" width="8" height="7.3" fill="#3090d8"/>
<rect x="545.5" y="364" width="8" height="7.3" fill="#409ad8"/>
<rect x="545.5" y="371" width="8" height="7.3" fill="#50a8e0"/>
<rect x="545.5" y="378" width="8" height="7.3" fill="#58ace0"/>
<rect x="545.5" y="385" width="8" height="7.3" fill="#60a8d8"/>
<rect x="545.5" y="392" width="8" height="7.3" fill="#68a4c8"/>
<rect x="545.5" y="399" width="8" height="7.3" fill="#6ca0c0"/>
<rect x="545.5" y="406" width="8" height="7.3" fill="#7898b0"/>
<rect x="545.5" y="413" width="8" height="7.3" fill="#8898a0"/>
<rect x="545.5" y="420" width="8" height="7.3" fill="#909898"/>
<rect x="545.5" y="427" width="8" height="7.3" fill="#949494"/>
<rect x="545.5" y="434" width="8" height="7.3" fill="#a0a0a0"/>
<rect x="545.5" y="441" width="8" height="7.3" fill="#acacac"/>
<rect x="545.5" y="448" width="8" height="7.3" fill="#b8b8b8"/>
<rect x="545.5" y="455" width="8" height="7.3" fill="#c4c4c4"/>
<rect x="545.5" y="462" width="8" height="7.3" fill="#d0d0d0"/>
<rect x="545.5" y="469" width="8" height="7.3" fill="#dcdcdc"/>
<rect x="545.5" y="476" width="8" height="7.3" fill="#e4e4e4"/>
<rect x="545.5" y="483" width="8" height="7.3" fill="#ececec"/>
<rect x="545.5" y="490" width="8" height="6.3" fill="#fcfcfc"/>
<path d="M545.5,53 V496" stroke="#999" stroke-width="0.8" fill="none"/>
<path d="M545.5,496 H553.5 V53" stroke="#000" stroke-width="0.9" fill="none"/>
<line x1="553.5" y1="57" x2="561" y2="57" stroke="#000"/>
<text x="569" y="61.3" class="t">140</text>
<line x1="553.5" y1="70" x2="561" y2="70" stroke="#000"/>
<text x="569" y="74.3" class="t">80</text>
<line x1="553.5" y1="137.6" x2="561" y2="137.6" stroke="#000"/>
<text x="569" y="141.9" class="t">70</text>
<line x1="553.5" y1="204" x2="561" y2="204" stroke="#000"/>
<text x="569" y="208.3" class="t">60</text>
<line x1="553.5" y1="270" x2="561" y2="270" stroke="#000"/>
<text x="569" y="274.3" class="t">50</text>
<line x1="553.5" y1="338.4" x2="561" y2="338.4" stroke="#000"/>
<text x="569" y="342.7" class="t">40</text>
<line x1="553.5" y1="405" x2="561" y2="405" stroke="#000"/>
<text x="569" y="409.3" class="t">30</text>
<line x1="553.5" y1="472" x2="561" y2="472" stroke="#000"/>
<text x="569" y="476.3" class="t">20</text>
<line x1="553.5" y1="492.4" x2="561" y2="492.4" stroke="#000"/>
<text x="569" y="496.7" class="t">0</text>
<text x="549.5" y="51" text-anchor="middle" class="t">ppbV</text>
<rect x="1145.5" y="53" width="8" height="7.3" fill="#9c3034"/>
<rect x="1145.5" y="60" width="8" height="7.3" fill="#a03034"/>
<rect x="1145.5" y="67" width="8" height="7.3" fill="#b02830"/>
<rect x="1145.5" y="74" width="8" height="7.3" fill="#c02028"/>
<rect x="1145.5" y="81" width="8" height="7.3" fill="#d01820"/>
<rect x="1145.5" y="88" width="8" height="7.3" fill="#e01018"/>
<rect x="1145.5" y="95" width="8" height="7.3" fill="#ff0000"/>
<rect x="1145.5" y="102" width="8" height="7.3" fill="#f01828"/>
<rect x="1145.5" y="109" width="8" height="7.3" fill="#e83048"/>
<rect x="1145.5" y="116" width="8" height="7.3" fill="#e04868"/>
<rect x="1145.5" y="123" width="8" height="7.3" fill="#d86090"/>
<rect x="1145.5" y="130" width="8" height="6.3" fill="#d07ab0"/>
<rect x="1145.5" y="136" width="8" height="7.3" fill="#d47090"/>
<rect x="1145.5" y="143" width="8" height="7.3" fill="#d86a70"/>
<rect x="1145.5" y="150" width="8" height="7.3" fill="#da6850"/>
<rect x="1145.5" y="157" width="8" height="7.3" fill="#dc6430"/>
<rect x="1145.5" y="164" width="8" height="7.3" fill="#e06010"/>
<rect x="1145.5" y="171" width="8" height="7.3" fill="#e07010"/>
<rect x="1145.5" y="178" width="8" height="7.3" fill="#e48010"/>
<rect x="1145.5" y="185" width="8" height="7.3" fill="#e89010"/>
<rect x="1145.5" y="192" width="8" height="8.3" fill="#eca018"/>
<rect x="1145.5" y="200" width="8" height="6.3" fill="#eca418"/>
<rect x="1145.5" y="206" width="8" height="7.3" fill="#ecb020"/>
<rect x="1145.5" y="213" width="8" height="6.3" fill="#eec028"/>
<rect x="1145.5" y="219" width="8" height="7.3" fill="#f0d038"/>
<rect x="1145.5" y="226" width="8" height="7.3" fill="#f0e040"/>
<rect x="1145.5" y="233" width="8" height="7.3" fill="#ece060"/>
<rect x="1145.5" y="240" width="8" height="7.3" fill="#eae080"/>
<rect x="1145.5" y="247" width="8" height="7.3" fill="#e8e0a8"/>
<rect x="1145.5" y="254" width="8" height="7.3" fill="#e4e0c4"/>
<rect x="1145.5" y="261" width="8" height="7.3" fill="#e0e0d8"/>
<rect x="1145.5" y="268" width="8" height="7.3" fill="#e0e0e0"/>
<rect x="1145.5" y="275" width="8" height="7.3" fill="#e0e0e0"/>
<rect x="1145.5" y="282" width="8" height="7.3" fill="#d0e4d0"/>
<rect x="1145.5" y="289" width="8" height="7.3" fill="#c0dcbc"/>
<rect x="1145.5" y="296" width="8" height="7.3" fill="#a8d4a8"/>
<rect x="1145.5" y="303" width="8" height="7.3" fill="#90d090"/>
<rect x="1145.5" y="310" width="8" height="7.3" fill="#80c880"/>
<rect x="1145.5" y="317" width="8" height="7.3" fill="#60b878"/>
<rect x="1145.5" y="324" width="8" height="7.3" fill="#48b070"/>
<rect x="1145.5" y="331" width="8" height="7.3" fill="#30a870"/>
<rect x="1145.5" y="338" width="8" height="7.3" fill="#18a070"/>
<rect x="1145.5" y="345" width="8" height="5.3" fill="#109878"/>
<rect x="1145.5" y="350" width="8" height="7.3" fill="#109080"/>
<rect x="1145.5" y="357" width="8" height="7.3" fill="#108890"/>
<rect x="1145.5" y="364" width="8" height="7.3" fill="#10809c"/>
<rect x="1145.5" y="371" width="8" height="7.3" fill="#1078a8"/>
<rect x="1145.5" y="378" width="8" height="7.3" fill="#1070b8"/>
<rect x="1145.5" y="385" width="8" height="7.3" fill="#0c60c8"/>
<rect x="1145.5" y="392" width="8" height="7.3" fill="#0850e0"/>
<rect x="1145.5" y="399" width="8" height="7.3" fill="#0840f0"/>
<rect x="1145.5" y="406" width="8" height="7.3" fill="#0030ff"/>
<rect x="1145.5" y="413" width="8" height="7.3" fill="#1830ff"/>
<rect x="1145.5" y="420" width="8" height="7.3" fill="#2838f8"/>
<rect x="1145.5" y="427" width="8" height="7.3" fill="#4030f0"/>
<rect x="1145.5" y="434" width="8" height="7.3" fill="#6028f0"/>
<rect x="1145.5" y="441" width="8" height="7.3" fill="#8020f0"/>
<rect x="1145.5" y="448" width="8" height="7.3" fill="#a020f0"/>
<rect x="1145.5" y="455" width="8" height="7.3" fill="#9020d8"/>
<rect x="1145.5" y="462" width="8" height="7.3" fill="#8028c0"/>
<rect x="1145.5" y="469" width="8" height="7.3" fill="#7830b0"/>
<rect x="1145.5" y="476" width="8" height="7.3" fill="#7030a0"/>
<rect x="1145.5" y="483" width="8" height="7.3" fill="#6c3098"/>
<rect x="1145.5" y="490" width="8" height="6.3" fill="#683090"/>
<path d="M1145.5,53 V496" stroke="#999" stroke-width="0.8" fill="none"/>
<path d="M1145.5,496 H1153.5 V53" stroke="#000" stroke-width="0.9" fill="none"/>
<line x1="1153.5" y1="56.3" x2="1161" y2="56.3" stroke="#000"/>
<text x="1169" y="60.599999999999994" class="t">90</text>
<line x1="1153.5" y1="70" x2="1161" y2="70" stroke="#000"/>
<text x="1169" y="74.3" class="t">30</text>
<line x1="1153.5" y1="138.4" x2="1161" y2="138.4" stroke="#000"/>
<text x="1169" y="142.70000000000002" class="t">20</text>
<line x1="1153.5" y1="206.6" x2="1161" y2="206.6" stroke="#000"/>
<text x="1169" y="210.9" class="t">10</text>
<line x1="1153.5" y1="274.4" x2="1161" y2="274.4" stroke="#000"/>
<text x="1169" y="278.7" class="t">0</text>
<line x1="1153.5" y1="342.4" x2="1161" y2="342.4" stroke="#000"/>
<text x="1169" y="346.7" class="t">-10</text>
<line x1="1153.5" y1="410.6" x2="1161" y2="410.6" stroke="#000"/>
<text x="1169" y="414.90000000000003" class="t">-20</text>
<line x1="1153.5" y1="479" x2="1161" y2="479" stroke="#000"/>
<text x="1169" y="483.3" class="t">-30</text>
<line x1="1153.5" y1="492.4" x2="1161" y2="492.4" stroke="#000"/>
<text x="1169" y="496.7" class="t">-50</text>
<text x="1149.5" y="51" text-anchor="middle" class="t">ppbV</text>
<circle cx="472.2" cy="506.3" r="2.3" fill="#000"/>
<text x="483.5" y="510.5" class="t">AQS</text>
<circle cx="1072.2" cy="506.3" r="2.3" fill="#000"/>
<text x="1083.5" y="510.5" class="t">AQS</text>
<text x="271" y="567.5" text-anchor="middle" class="t">Domain size: 49x49 | Max Model = 67 at (35, 29)</text>
<text x="271" y="582.2" text-anchor="middle" class="t">Max Obs: 77</text>
<text x="871" y="567.5" text-anchor="middle" class="t">Bias Summary: [ min, 25th %, 50th %, 75th %, max ]</text>
<text x="819" y="582.2" class="t" xml:space="preserve">[ -26,   -2.9,   4.2,   9.3,   21 ]</text>
</svg></body></html>
